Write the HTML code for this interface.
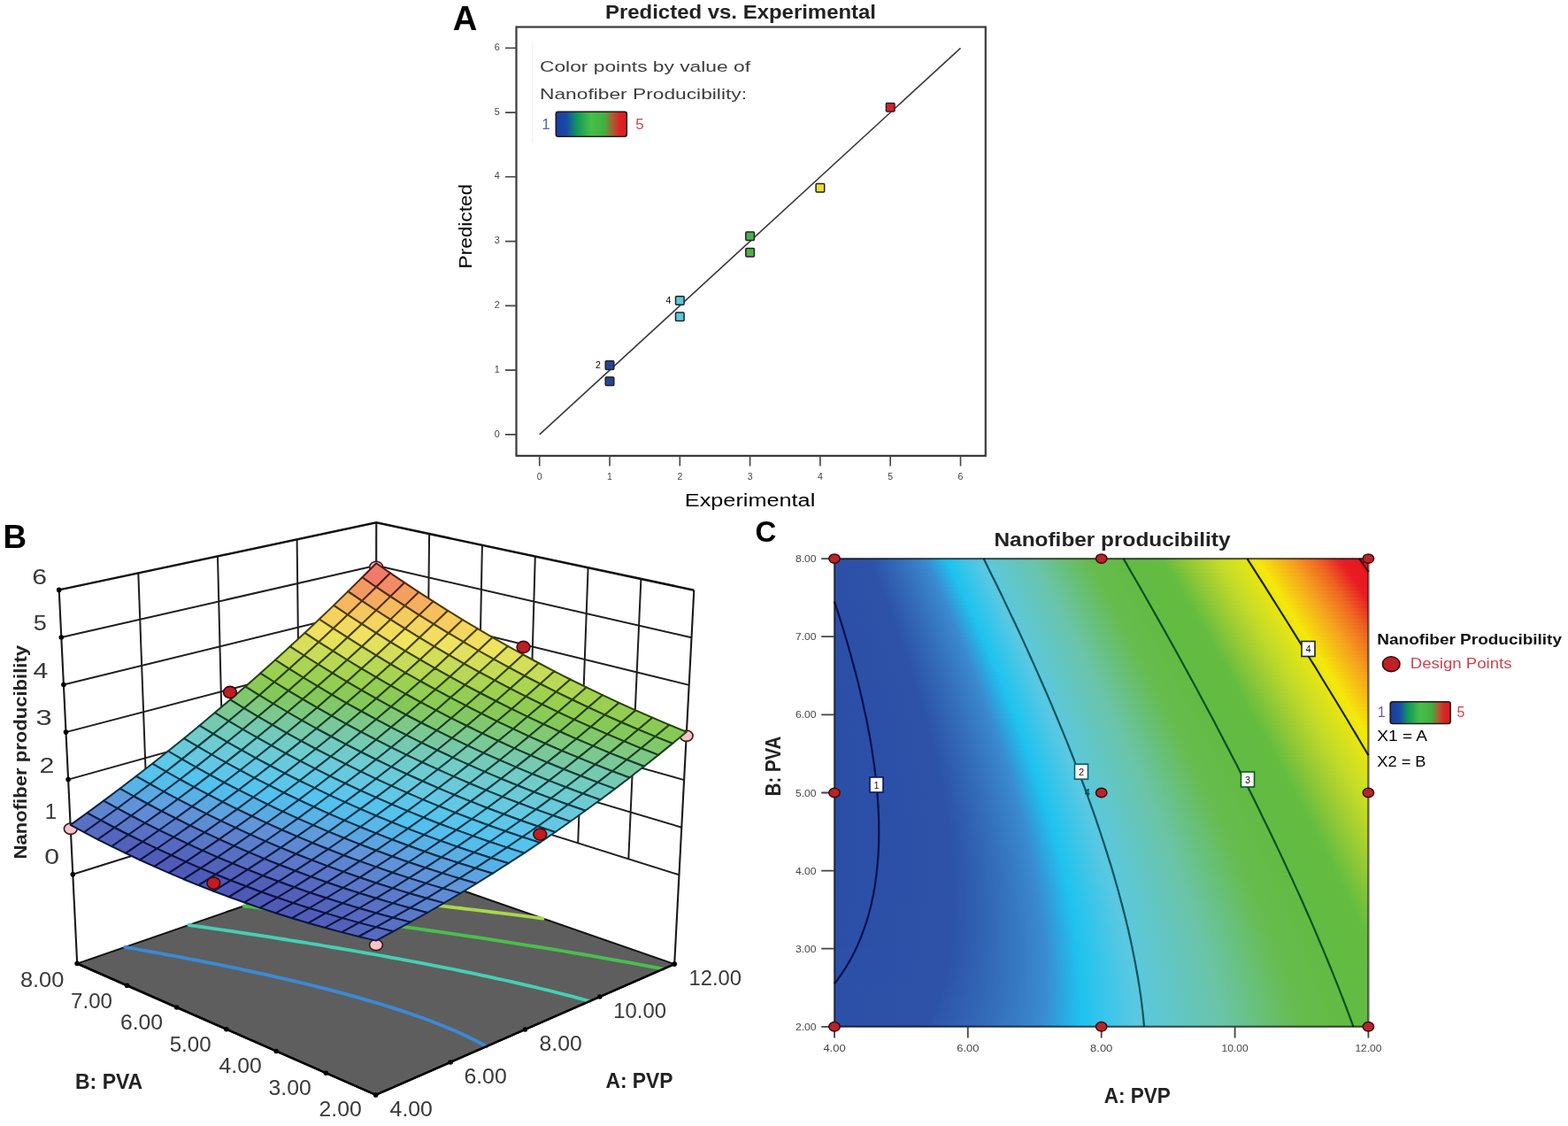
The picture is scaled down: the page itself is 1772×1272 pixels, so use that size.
<!DOCTYPE html><html><head><meta charset="utf-8"><title>Nanofiber producibility</title><style>html,body{margin:0;padding:0;background:#fff;}svg{display:block;}</style></head><body><svg width="1772" height="1272" viewBox="0 0 1772 1272" style="font-family:'Liberation Sans',Arial,sans-serif" ><defs><linearGradient id="cbar"><stop offset="0" stop-color="#1c3c9c"/><stop offset="0.15" stop-color="#1a4aa8"/><stop offset="0.3" stop-color="#109a5a"/><stop offset="0.5" stop-color="#48c048"/><stop offset="0.68" stop-color="#40b040"/><stop offset="0.8" stop-color="#a86030"/><stop offset="0.9" stop-color="#e02024"/><stop offset="1" stop-color="#d81c20"/></linearGradient></defs><text x="511.8" y="33.8" font-size="38.5" fill="#000" font-weight="bold" textLength="27.6" lengthAdjust="spacingAndGlyphs">A</text><text x="684" y="20.8" font-size="22" fill="#222" font-weight="bold" textLength="306" lengthAdjust="spacingAndGlyphs">Predicted vs. Experimental</text><rect x="583.5" y="30.5" width="530.3" height="484.4" fill="none" stroke="#3a3a3a" stroke-width="2.2"/><path d="M601.8 49V161" stroke="#f3f3f3" stroke-width="1.5"/><path d="M571 490.9H583.5M609.7 515V526.5M571 418.1H583.5M689 515V526.5M571 345.4H583.5M768.3 515V526.5M571 272.6H583.5M847.6 515V526.5M571 199.8H583.5M926.9 515V526.5M571 127.1H583.5M1006.2 515V526.5M571 54.3H583.5M1085.5 515V526.5" stroke="#444" stroke-width="1.6"/><text x="564.8" y="493.5" font-size="10.8" fill="#444" text-anchor="end">0</text><text x="609.7" y="541.8" font-size="10.5" fill="#444" text-anchor="middle">0</text><text x="564.8" y="420.7" font-size="10.8" fill="#444" text-anchor="end">1</text><text x="689" y="541.8" font-size="10.5" fill="#444" text-anchor="middle">1</text><text x="564.8" y="348" font-size="10.8" fill="#444" text-anchor="end">2</text><text x="768.3" y="541.8" font-size="10.5" fill="#444" text-anchor="middle">2</text><text x="564.8" y="275.2" font-size="10.8" fill="#444" text-anchor="end">3</text><text x="847.6" y="541.8" font-size="10.5" fill="#444" text-anchor="middle">3</text><text x="564.8" y="202.4" font-size="10.8" fill="#444" text-anchor="end">4</text><text x="926.9" y="541.8" font-size="10.5" fill="#444" text-anchor="middle">4</text><text x="564.8" y="129.7" font-size="10.8" fill="#444" text-anchor="end">5</text><text x="1006.2" y="541.8" font-size="10.5" fill="#444" text-anchor="middle">5</text><text x="564.8" y="56.9" font-size="10.8" fill="#444" text-anchor="end">6</text><text x="1085.5" y="541.8" font-size="10.5" fill="#444" text-anchor="middle">6</text><path d="M609.7 490.9L1085.5 54.3" stroke="#3a3a3a" stroke-width="1.6"/><rect x="684.2" y="407.8" width="9.6" height="9.6" rx="1" fill="#2a4496" stroke="#222" stroke-width="1.5"/><text x="676" y="416.2" font-size="10.5" text-anchor="middle">2</text><rect x="684.2" y="425.9" width="9.6" height="9.6" rx="1" fill="#2a4496" stroke="#222" stroke-width="1.5"/><rect x="763.5" y="334.7" width="9.6" height="9.6" rx="1" fill="#5cc8dc" stroke="#222" stroke-width="1.5"/><text x="755.3" y="343.1" font-size="10.5" text-anchor="middle">4</text><rect x="763.5" y="352.9" width="9.6" height="9.6" rx="1" fill="#5cc8dc" stroke="#222" stroke-width="1.5"/><rect x="842.8" y="262" width="9.6" height="9.6" rx="1" fill="#4cb04c" stroke="#222" stroke-width="1.5"/><rect x="842.8" y="280.5" width="9.6" height="9.6" rx="1" fill="#4cb04c" stroke="#222" stroke-width="1.5"/><rect x="922.1" y="207.4" width="9.6" height="9.6" rx="1" fill="#e8e030" stroke="#222" stroke-width="1.5"/><rect x="1001.4" y="116.4" width="9.6" height="9.6" rx="1" fill="#d8202a" stroke="#222" stroke-width="1.5"/><text x="610" y="80.6" font-size="17" fill="#3c3c3c" textLength="238" lengthAdjust="spacingAndGlyphs">Color points by value of</text><text x="610" y="112" font-size="17" fill="#3c3c3c" textLength="234" lengthAdjust="spacingAndGlyphs">Nanofiber Producibility:</text><text x="612.2" y="145.6" font-size="17" fill="#5a62b2">1</text><text x="718.3" y="145.6" font-size="17" fill="#d8404c">5</text><rect x="628.3" y="126.3" width="80" height="28" rx="2.5" fill="url(#cbar)" stroke="#1a1a1a" stroke-width="1.6"/><text x="773.8" y="572" font-size="20" textLength="147.5" lengthAdjust="spacingAndGlyphs">Experimental</text><text x="532.8" y="303.4" font-size="20" textLength="95.5" lengthAdjust="spacingAndGlyphs" transform="rotate(-90 532.8 303.4)">Predicted</text><text x="3.6" y="619" font-size="37" fill="#000" font-weight="bold" textLength="26.6" lengthAdjust="spacingAndGlyphs">B</text><path d="M424.7 1236.9L762.2 1089.1L424.6 972L87.2 1088.5Z" fill="#5e5e5e" stroke="#111" stroke-width="2"/><path d="M141.2 1069.9L148.6 1071.2L155.9 1072.5L163.3 1073.8L170.6 1075.1L178 1076.4L185.3 1077.8L192.6 1079.2L199.9 1080.5L207.2 1081.9L214.5 1083.3L221.8 1084.7L229.1 1086.1L236.4 1087.6L244.6 1089.2L252.9 1090.9L261.3 1092.6L269 1094.2L276.2 1095.8L283.4 1097.3L290.6 1098.9L297.7 1100.4L305.8 1102.2L315.3 1104.4L322.7 1106.1L329.8 1107.7L336.9 1109.4L345.7 1111.5L354.5 1113.7L361.5 1115.4L368.5 1117.2L378.9 1119.9L385.8 1121.7L392.8 1123.6L403 1126.4L409.8 1128.4L420 1131.3L426.7 1133.3L436.8 1136.4L443.4 1138.4L453.3 1141.6L463 1144.9L469.5 1147.1L479.1 1150.5L488.5 1154L497.8 1157.7L507 1161.4L516 1165.3L524.7 1169.2L530.5 1172L538.9 1176.2L545.8 1180L549.7 1182.2" fill="none" stroke="#3a8ad8" stroke-width="3.8" stroke-linecap="round"/><path d="M213.4 1045L221.1 1046.1L227.6 1047L234 1047.9L240.3 1048.8L247.9 1049.9L255.6 1051.1L263.2 1052.2L270.9 1053.4L278.6 1054.5L286 1055.6L292.6 1056.7L299.4 1057.7L306.1 1058.7L313.1 1059.8L320.7 1061L328.4 1062.3L336 1063.5L343.7 1064.7L351.3 1066L359 1067.2L366.6 1068.5L374.3 1069.8L381.9 1071L389.5 1072.3L397.2 1073.6L404.8 1075L412.4 1076.3L420.1 1077.6L427.7 1079L435.3 1080.4L442.9 1081.8L450.5 1083.1L458.1 1084.6L465.7 1086L473.3 1087.4L480.9 1088.9L488.4 1090.3L496 1091.8L504.1 1093.4L513.1 1095.2L522.3 1097.1L529.9 1098.7L537.4 1100.2L544.9 1101.8L552.4 1103.4L561.2 1105.3L571.1 1107.5L578.6 1109.2L586 1110.9L593.5 1112.6L604.5 1115.2L611.9 1117L619.2 1118.7L630.2 1121.5L637.5 1123.3L644.8 1125.2L655.7 1128.1L662.9 1130L666.5 1131" fill="none" stroke="#44d0b4" stroke-width="3.8" stroke-linecap="round"/><path d="M275.7 1023.5L281.7 1024.2L287.5 1024.9L295.3 1025.9L303.1 1026.8L311 1027.8L316.9 1028.6L322.9 1029.3L330.6 1030.3L338.5 1031.3L346.4 1032.3L352.9 1033.1L359 1033.9L366.1 1034.8L373.9 1035.9L381.8 1036.9L389.7 1037.9L396 1038.8L402.2 1039.6L409.4 1040.6L417.3 1041.6L425.2 1042.7L433.1 1043.8L440.3 1044.8L446.8 1045.7L453.3 1046.6L460.8 1047.6L468.7 1048.7L476.6 1049.8L484.5 1051L492.4 1052.1L499.7 1053.2L506.5 1054.2L513.3 1055.2L520.2 1056.2L528 1057.3L536 1058.5L543.9 1059.7L551.8 1060.9L559.7 1062.1L567.6 1063.4L575.6 1064.6L583.5 1065.8L591.4 1067.1L598.9 1068.3L606.4 1069.5L613.9 1070.7L621.6 1071.9L629.3 1073.2L637 1074.5L644.9 1075.8L652.8 1077.2L660.9 1078.5L669 1079.9L677.2 1081.4L685.5 1082.8L694 1084.3L702.2 1085.8L710.1 1087.2L718 1088.7L725.9 1090.1L733.8 1091.6L741.7 1093.1L749.6 1094.6L749.6 1094.6" fill="none" stroke="#48c04c" stroke-width="3.8" stroke-linecap="round"/><path d="M330.6 1004.5L337.4 1005.2L342.9 1005.8L350.5 1006.6L358.4 1007.5L365 1008.2L370.6 1008.8L378.4 1009.7L386.4 1010.6L392.9 1011.3L398.6 1011.9L406.3 1012.8L414.3 1013.7L421.3 1014.5L427 1015.1L434.3 1015.9L442.4 1016.9L450 1017.7L455.8 1018.4L462.4 1019.2L470.4 1020.1L478.5 1021L485 1021.8L490.9 1022.5L498.6 1023.4L506.6 1024.3L514.7 1025.3L520.8 1026L526.8 1026.8L534.8 1027.7L542.9 1028.7L551 1029.7L557.3 1030.5L563.4 1031.2L571.2 1032.2L579.3 1033.2L587.4 1034.2L594.6 1035.1L600.9 1035.9L607.6 1036.8L613.6 1037.6" fill="none" stroke="#a8d84c" stroke-width="3.8" stroke-linecap="round"/><path d="M379.8 987.5L386.9 988.2L392.1 988.7L399.9 989.4L407.9 990.2L413.2 990.7L420 991.4L428 992.2L434.5 992.8L440.1 993.4L448.2 994.2L455.9 994.9L461.3 995.5L468.3 996.2L476.4 997L482.9 997.6L488.5 998.2L496.6 999L504.7 999.8L504.8 999.8" fill="none" stroke="#f0a040" stroke-width="3.8" stroke-linecap="round"/><path d="M87.2 1088.5L424.7 1236.9L762.2 1089.1" fill="none" stroke="#000" stroke-width="2.6"/><path d="M82.3 987.8L424.7 880.5L767.5 988.3M79.7 934.2L424.8 832.1L770.3 934.7M77.1 880.6L424.9 783.8L773.1 881.1M74.5 827.1L425 735.5L775.9 827.5M71.9 773.5L425.1 687.1L778.7 773.9M69.3 720L425.2 638.8L781.5 720.3M167.9 961L156.3 647.4M253.5 934.1L246 628.4M339.1 907.3L335.6 609.4M481.9 898.5L485.1 603.1M539 916.4L544.9 615.9M596.1 934.4L604.8 628.6M653.2 952.3L664.6 641.3M710.3 970.3L724.4 654" fill="none" stroke="#1e1e1e" stroke-width="2"/><path d="M66.7 666.4L425.3 590.4L784.3 666.7" fill="none" stroke="#111" stroke-width="2.5"/><path d="M87.2 1088.5L66.7 666.4M762.2 1089.1L784.3 666.7M424.6 972L425.3 590.4" fill="none" stroke="#1a1a1a" stroke-width="2.1"/><g fill="#000"><circle cx="82.3" cy="987.8" r="2.8"/><circle cx="79.7" cy="934.2" r="2.8"/><circle cx="77.1" cy="880.6" r="2.8"/><circle cx="74.5" cy="827.1" r="2.8"/><circle cx="71.9" cy="773.5" r="2.8"/><circle cx="69.3" cy="720" r="2.8"/><circle cx="66.7" cy="666.4" r="2.8"/><circle cx="87.2" cy="1088.5" r="2.8"/><circle cx="143.5" cy="1113.3" r="2.8"/><circle cx="199.7" cy="1138" r="2.8"/><circle cx="255.9" cy="1162.7" r="2.8"/><circle cx="312.2" cy="1187.5" r="2.8"/><circle cx="368.4" cy="1212.2" r="2.8"/><circle cx="424.7" cy="1236.9" r="2.8"/><circle cx="509.1" cy="1200" r="2.8"/><circle cx="593.4" cy="1163" r="2.8"/><circle cx="677.8" cy="1126" r="2.8"/><circle cx="762.2" cy="1089.1" r="2.8"/></g><ellipse cx="79.8" cy="936.2" rx="7.4" ry="6.2" fill="#f6c4c8" stroke="#3a1a1a" stroke-width="1.6"/><ellipse cx="425.2" cy="640.4" rx="7.4" ry="6.2" fill="#f6c4c8" stroke="#3a1a1a" stroke-width="1.6"/><ellipse cx="775.7" cy="831.2" rx="7.4" ry="6.2" fill="#f6c4c8" stroke="#3a1a1a" stroke-width="1.6"/><ellipse cx="425" cy="1067.4" rx="7.4" ry="6.2" fill="#f6c4c8" stroke="#3a1a1a" stroke-width="1.6"/><ellipse cx="425" cy="884.1" rx="7.4" ry="6.2" fill="#f6c4c8" stroke="#3a1a1a" stroke-width="1.6"/><path d="M425.1 663.2L441.1 647.3L425.2 636.3L409.3 652.3Z" fill="#f17a6b" stroke="#501811" stroke-width="2" stroke-linejoin="round"/><path d="M409.1 678.9L425.1 663.2L409.3 652.3L393.2 668.1Z" fill="#f39a62" stroke="#4f260b" stroke-width="2" stroke-linejoin="round"/><path d="M441.2 673.9L457.1 658.2L441.1 647.3L425.1 663.2Z" fill="#f28c66" stroke="#50200e" stroke-width="2" stroke-linejoin="round"/><path d="M392.9 694.5L409.1 678.9L393.2 668.1L377.1 683.9Z" fill="#f5b760" stroke="#4e3109" stroke-width="2" stroke-linejoin="round"/><path d="M425.1 689.5L441.2 673.9L425.1 663.2L409.1 678.9Z" fill="#f4ab60" stroke="#4f2d09" stroke-width="2" stroke-linejoin="round"/><path d="M457.4 684.4L473.3 668.9L457.1 658.2L441.2 673.9Z" fill="#f39f60" stroke="#4f280a" stroke-width="2" stroke-linejoin="round"/><path d="M376.6 709.9L392.9 694.5L377.1 683.9L360.8 699.5Z" fill="#f5d260" stroke="#4c3c07" stroke-width="2" stroke-linejoin="round"/><path d="M408.9 704.9L425.1 689.5L409.1 678.9L392.9 694.5Z" fill="#f5c760" stroke="#4d3807" stroke-width="2" stroke-linejoin="round"/><path d="M441.3 699.9L457.4 684.4L441.2 673.9L425.1 689.5Z" fill="#f5bb60" stroke="#4e3308" stroke-width="2" stroke-linejoin="round"/><path d="M473.7 694.9L489.7 679.4L473.3 668.9L457.4 684.4Z" fill="#f4af60" stroke="#4f2e09" stroke-width="2" stroke-linejoin="round"/><path d="M360.2 725.3L376.6 709.9L360.8 699.5L344.4 714.9Z" fill="#f1e160" stroke="#4a4206" stroke-width="2" stroke-linejoin="round"/><path d="M392.6 720.2L408.9 704.9L392.9 694.5L376.6 709.9Z" fill="#f2da60" stroke="#4b4006" stroke-width="2" stroke-linejoin="round"/><path d="M425.1 715.2L441.3 699.9L425.1 689.5L408.9 704.9Z" fill="#f4d460" stroke="#4c3d07" stroke-width="2" stroke-linejoin="round"/><path d="M457.6 710.2L473.7 694.9L457.4 684.4L441.3 699.9Z" fill="#f5cb60" stroke="#4d3907" stroke-width="2" stroke-linejoin="round"/><path d="M490.2 705.1L506.2 689.8L489.7 679.4L473.7 694.9Z" fill="#f5bf60" stroke="#4e3408" stroke-width="2" stroke-linejoin="round"/><path d="M343.6 740.5L360.2 725.3L344.4 714.9L327.8 730.3Z" fill="#d8df5b" stroke="#404406" stroke-width="2" stroke-linejoin="round"/><path d="M376.2 735.4L392.6 720.2L376.6 709.9L360.2 725.3Z" fill="#e6e25e" stroke="#454406" stroke-width="2" stroke-linejoin="round"/><path d="M408.8 730.4L425.1 715.2L408.9 704.9L392.6 720.2Z" fill="#f0e260" stroke="#494306" stroke-width="2" stroke-linejoin="round"/><path d="M441.4 725.4L457.6 710.2L441.3 699.9L425.1 715.2Z" fill="#f2dc60" stroke="#4b4006" stroke-width="2" stroke-linejoin="round"/><path d="M474.1 720.3L490.2 705.1L473.7 694.9L457.6 710.2Z" fill="#f4d560" stroke="#4c3d07" stroke-width="2" stroke-linejoin="round"/><path d="M506.9 715.3L522.8 700.1L506.2 689.8L490.2 705.1Z" fill="#f5cd60" stroke="#4d3a07" stroke-width="2" stroke-linejoin="round"/><path d="M326.9 755.6L343.6 740.5L327.8 730.3L311.1 745.5Z" fill="#bad855" stroke="#354306" stroke-width="2" stroke-linejoin="round"/><path d="M359.6 750.5L376.2 735.4L360.2 725.3L343.6 740.5Z" fill="#c9dc58" stroke="#3b4406" stroke-width="2" stroke-linejoin="round"/><path d="M392.3 745.5L408.8 730.4L392.6 720.2L376.2 735.4Z" fill="#d6df5b" stroke="#404406" stroke-width="2" stroke-linejoin="round"/><path d="M425.1 740.4L441.4 725.4L425.1 715.2L408.8 730.4Z" fill="#e3e15d" stroke="#454406" stroke-width="2" stroke-linejoin="round"/><path d="M457.9 735.4L474.1 720.3L457.6 710.2L441.4 725.4Z" fill="#f0e460" stroke="#494306" stroke-width="2" stroke-linejoin="round"/><path d="M490.8 730.3L506.9 715.3L490.2 705.1L474.1 720.3Z" fill="#f2dd60" stroke="#4a4106" stroke-width="2" stroke-linejoin="round"/><path d="M523.7 725.2L539.7 710.2L522.8 700.1L506.9 715.3Z" fill="#f3d660" stroke="#4c3e07" stroke-width="2" stroke-linejoin="round"/><path d="M310 770.5L326.9 755.6L311.1 745.5L294.3 760.6Z" fill="#9bd050" stroke="#2a4307" stroke-width="2" stroke-linejoin="round"/><path d="M342.8 765.5L359.6 750.5L343.6 740.5L326.9 755.6Z" fill="#aad452" stroke="#2f4306" stroke-width="2" stroke-linejoin="round"/><path d="M375.7 760.4L392.3 745.5L376.2 735.4L359.6 750.5Z" fill="#b8d855" stroke="#354306" stroke-width="2" stroke-linejoin="round"/><path d="M408.6 755.3L425.1 740.4L408.8 730.4L392.3 745.5Z" fill="#c7dc58" stroke="#3a4406" stroke-width="2" stroke-linejoin="round"/><path d="M441.6 750.3L457.9 735.4L441.4 725.4L425.1 740.4Z" fill="#d4de5a" stroke="#3f4406" stroke-width="2" stroke-linejoin="round"/><path d="M474.6 745.2L490.8 730.3L474.1 720.3L457.9 735.4Z" fill="#e2e15d" stroke="#444406" stroke-width="2" stroke-linejoin="round"/><path d="M540.7 735L556.7 720.1L539.7 710.2L523.7 725.2Z" fill="#f2de60" stroke="#4a4106" stroke-width="2" stroke-linejoin="round"/><path d="M507.6 740.1L523.7 725.2L506.9 715.3L490.8 730.3Z" fill="#efe460" stroke="#494406" stroke-width="2" stroke-linejoin="round"/><path d="M293 785.4L310 770.5L294.3 760.6L277.3 775.6Z" fill="#8bca56" stroke="#23410b" stroke-width="2" stroke-linejoin="round"/><path d="M326 780.3L342.8 765.5L326.9 755.6L310 770.5Z" fill="#93cd53" stroke="#274209" stroke-width="2" stroke-linejoin="round"/><path d="M358.9 775.2L375.7 760.4L359.6 750.5L342.8 765.5Z" fill="#9bd050" stroke="#2a4207" stroke-width="2" stroke-linejoin="round"/><path d="M392 770.2L408.6 755.3L392.3 745.5L375.7 760.4Z" fill="#a9d352" stroke="#2f4306" stroke-width="2" stroke-linejoin="round"/><path d="M425.1 765.1L441.6 750.3L425.1 740.4L408.6 755.3Z" fill="#b7d755" stroke="#344306" stroke-width="2" stroke-linejoin="round"/><path d="M458.2 760L474.6 745.2L457.9 735.4L441.6 750.3Z" fill="#c6db58" stroke="#3a4406" stroke-width="2" stroke-linejoin="round"/><path d="M557.9 744.7L573.9 729.9L556.7 720.1L540.7 735Z" fill="#eee460" stroke="#494406" stroke-width="2" stroke-linejoin="round"/><path d="M491.4 754.9L507.6 740.1L490.8 730.3L474.6 745.2Z" fill="#d3de5a" stroke="#3f4406" stroke-width="2" stroke-linejoin="round"/><path d="M524.6 749.8L540.7 735L523.7 725.2L507.6 740.1Z" fill="#e1e15d" stroke="#444406" stroke-width="2" stroke-linejoin="round"/><path d="M275.9 800.1L293 785.4L277.3 775.6L260.1 790.4Z" fill="#80c86d" stroke="#1e3f15" stroke-width="2" stroke-linejoin="round"/><path d="M308.9 795L326 780.3L310 770.5L293 785.4Z" fill="#83c85b" stroke="#20400d" stroke-width="2" stroke-linejoin="round"/><path d="M342 789.9L358.9 775.2L342.8 765.5L326 780.3Z" fill="#8bca56" stroke="#23410b" stroke-width="2" stroke-linejoin="round"/><path d="M375.2 784.8L392 770.2L375.7 760.4L358.9 775.2Z" fill="#93cd53" stroke="#274209" stroke-width="2" stroke-linejoin="round"/><path d="M408.4 779.7L425.1 765.1L408.6 755.3L392 770.2Z" fill="#9bd050" stroke="#2a4207" stroke-width="2" stroke-linejoin="round"/><path d="M441.7 774.6L458.2 760L441.6 750.3L425.1 765.1Z" fill="#a8d352" stroke="#2f4306" stroke-width="2" stroke-linejoin="round"/><path d="M575.3 754.1L591.2 739.5L573.9 729.9L557.9 744.7Z" fill="#e0e15d" stroke="#434406" stroke-width="2" stroke-linejoin="round"/><path d="M475 769.5L491.4 754.9L474.6 745.2L458.2 760Z" fill="#b7d755" stroke="#344306" stroke-width="2" stroke-linejoin="round"/><path d="M541.8 759.3L557.9 744.7L540.7 735L524.6 749.8Z" fill="#d3de5a" stroke="#3f4406" stroke-width="2" stroke-linejoin="round"/><path d="M508.4 764.4L524.6 749.8L507.6 740.1L491.4 754.9Z" fill="#c6db58" stroke="#394406" stroke-width="2" stroke-linejoin="round"/><path d="M258.5 814.6L275.9 800.1L260.1 790.4L242.8 805.1Z" fill="#7bc891" stroke="#193d23" stroke-width="2" stroke-linejoin="round"/><path d="M291.7 809.6L308.9 795L293 785.4L275.9 800.1Z" fill="#7ec87f" stroke="#1b3e1c" stroke-width="2" stroke-linejoin="round"/><path d="M325 804.5L342 789.9L326 780.3L308.9 795Z" fill="#81c86d" stroke="#1e3f14" stroke-width="2" stroke-linejoin="round"/><path d="M358.3 799.4L375.2 784.8L358.9 775.2L342 789.9Z" fill="#84c85b" stroke="#20400d" stroke-width="2" stroke-linejoin="round"/><path d="M391.6 794.3L408.4 779.7L392 770.2L375.2 784.8Z" fill="#8bca56" stroke="#23410b" stroke-width="2" stroke-linejoin="round"/><path d="M425.1 789.2L441.7 774.6L425.1 765.1L408.4 779.7Z" fill="#93cd53" stroke="#274209" stroke-width="2" stroke-linejoin="round"/><path d="M592.8 763.5L608.8 749L591.2 739.5L575.3 754.1Z" fill="#d3de5a" stroke="#3f4406" stroke-width="2" stroke-linejoin="round"/><path d="M458.5 784L475 769.5L458.2 760L441.7 774.6Z" fill="#9bd050" stroke="#2a4207" stroke-width="2" stroke-linejoin="round"/><path d="M559.2 768.6L575.3 754.1L557.9 744.7L541.8 759.3Z" fill="#c6db58" stroke="#3a4406" stroke-width="2" stroke-linejoin="round"/><path d="M492 778.9L508.4 764.4L491.4 754.9L475 769.5Z" fill="#a9d352" stroke="#2f4306" stroke-width="2" stroke-linejoin="round"/><path d="M525.6 773.8L541.8 759.3L524.6 749.8L508.4 764.4Z" fill="#b7d755" stroke="#344306" stroke-width="2" stroke-linejoin="round"/><path d="M241.1 829.1L258.5 814.6L242.8 805.1L225.4 819.7Z" fill="#75c9b0" stroke="#153c30" stroke-width="2" stroke-linejoin="round"/><path d="M274.4 824L291.7 809.6L275.9 800.1L258.5 814.6Z" fill="#78c8a1" stroke="#173c2a" stroke-width="2" stroke-linejoin="round"/><path d="M307.8 818.9L325 804.5L308.9 795L291.7 809.6Z" fill="#7bc88f" stroke="#193d23" stroke-width="2" stroke-linejoin="round"/><path d="M341.2 813.8L358.3 799.4L342 789.9L325 804.5Z" fill="#7ec87d" stroke="#1c3e1b" stroke-width="2" stroke-linejoin="round"/><path d="M374.7 808.7L391.6 794.3L375.2 784.8L358.3 799.4Z" fill="#81c86b" stroke="#1e3f14" stroke-width="2" stroke-linejoin="round"/><path d="M408.3 803.5L425.1 789.2L408.4 779.7L391.6 794.3Z" fill="#84c859" stroke="#20400d" stroke-width="2" stroke-linejoin="round"/><path d="M223.4 843.4L241.1 829.1L225.4 819.7L207.8 834.2Z" fill="#70cccb" stroke="#103b3b" stroke-width="2" stroke-linejoin="round"/><path d="M610.6 772.6L626.5 758.3L608.8 749L592.8 763.5Z" fill="#c7dc58" stroke="#3a4406" stroke-width="2" stroke-linejoin="round"/><path d="M441.8 798.4L458.5 784L441.7 774.6L425.1 789.2Z" fill="#8bca56" stroke="#24410a" stroke-width="2" stroke-linejoin="round"/><path d="M576.7 777.8L592.8 763.5L575.3 754.1L559.2 768.6Z" fill="#b8d855" stroke="#354306" stroke-width="2" stroke-linejoin="round"/><path d="M475.5 793.3L492 778.9L475 769.5L458.5 784Z" fill="#93cd53" stroke="#274209" stroke-width="2" stroke-linejoin="round"/><path d="M542.9 783L559.2 768.6L541.8 759.3L525.6 773.8Z" fill="#aad452" stroke="#2f4306" stroke-width="2" stroke-linejoin="round"/><path d="M509.2 788.1L525.6 773.8L508.4 764.4L492 778.9Z" fill="#9bd050" stroke="#2a4307" stroke-width="2" stroke-linejoin="round"/><path d="M256.9 838.3L274.4 824L258.5 814.6L241.1 829.1Z" fill="#73cbbc" stroke="#133c35" stroke-width="2" stroke-linejoin="round"/><path d="M290.4 833.2L307.8 818.9L291.7 809.6L274.4 824Z" fill="#75c9ae" stroke="#153c2f" stroke-width="2" stroke-linejoin="round"/><path d="M324 828.1L341.2 813.8L325 804.5L307.8 818.9Z" fill="#78c89f" stroke="#173c29" stroke-width="2" stroke-linejoin="round"/><path d="M357.6 823L374.7 808.7L358.3 799.4L341.2 813.8Z" fill="#7bc88d" stroke="#193d22" stroke-width="2" stroke-linejoin="round"/><path d="M205.6 857.6L223.4 843.4L207.8 834.2L190 848.5Z" fill="#69cada" stroke="#0d3a42" stroke-width="2" stroke-linejoin="round"/><path d="M391.3 817.8L408.3 803.5L391.6 794.3L374.7 808.7Z" fill="#7ec87b" stroke="#1c3e1a" stroke-width="2" stroke-linejoin="round"/><path d="M628.5 781.6L644.5 767.5L626.5 758.3L610.6 772.6Z" fill="#bad855" stroke="#354306" stroke-width="2" stroke-linejoin="round"/><path d="M425 812.7L441.8 798.4L425.1 789.2L408.3 803.5Z" fill="#81c869" stroke="#1e4013" stroke-width="2" stroke-linejoin="round"/><path d="M594.5 786.8L610.6 772.6L592.8 763.5L576.7 777.8Z" fill="#acd453" stroke="#304306" stroke-width="2" stroke-linejoin="round"/><path d="M458.8 807.5L475.5 793.3L458.5 784L441.8 798.4Z" fill="#84c858" stroke="#21410c" stroke-width="2" stroke-linejoin="round"/><path d="M560.5 792L576.7 777.8L559.2 768.6L542.9 783Z" fill="#9dd050" stroke="#2b4307" stroke-width="2" stroke-linejoin="round"/><path d="M239.2 852.5L256.9 838.3L241.1 829.1L223.4 843.4Z" fill="#6dcbd2" stroke="#0f3b3e" stroke-width="2" stroke-linejoin="round"/><path d="M492.7 802.4L509.2 788.1L492 778.9L475.5 793.3Z" fill="#8ccb55" stroke="#24410a" stroke-width="2" stroke-linejoin="round"/><path d="M526.5 797.2L542.9 783L525.6 773.8L509.2 788.1Z" fill="#94cd53" stroke="#274208" stroke-width="2" stroke-linejoin="round"/><path d="M272.9 847.4L290.4 833.2L274.4 824L256.9 838.3Z" fill="#71ccc9" stroke="#113b3a" stroke-width="2" stroke-linejoin="round"/><path d="M306.6 842.2L324 828.1L307.8 818.9L290.4 833.2Z" fill="#73caba" stroke="#133c34" stroke-width="2" stroke-linejoin="round"/><path d="M187.6 871.7L205.6 857.6L190 848.5L172.1 862.7Z" fill="#60c7e6" stroke="#093947" stroke-width="2" stroke-linejoin="round"/><path d="M340.4 837.1L357.6 823L341.2 813.8L324 828.1Z" fill="#76c9ab" stroke="#153c2e" stroke-width="2" stroke-linejoin="round"/><path d="M374.2 832L391.3 817.8L374.7 808.7L357.6 823Z" fill="#79c89c" stroke="#173d28" stroke-width="2" stroke-linejoin="round"/><path d="M646.7 790.5L662.6 776.4L644.5 767.5L628.5 781.6Z" fill="#aed553" stroke="#314306" stroke-width="2" stroke-linejoin="round"/><path d="M408.1 826.8L425 812.7L408.3 803.5L391.3 817.8Z" fill="#7cc88a" stroke="#1a3e20" stroke-width="2" stroke-linejoin="round"/><path d="M221.4 866.6L239.2 852.5L223.4 843.4L205.6 857.6Z" fill="#66c9e0" stroke="#0b3944" stroke-width="2" stroke-linejoin="round"/><path d="M612.4 795.7L628.5 781.6L610.6 772.6L594.5 786.8Z" fill="#9fd151" stroke="#2b4307" stroke-width="2" stroke-linejoin="round"/><path d="M442 821.6L458.8 807.5L441.8 798.4L425 812.7Z" fill="#7fc878" stroke="#1c3f19" stroke-width="2" stroke-linejoin="round"/><path d="M578.2 800.9L594.5 786.8L576.7 777.8L560.5 792Z" fill="#96ce52" stroke="#284208" stroke-width="2" stroke-linejoin="round"/><path d="M476 816.5L492.7 802.4L475.5 793.3L458.8 807.5Z" fill="#82c866" stroke="#1f4012" stroke-width="2" stroke-linejoin="round"/><path d="M544.1 806.1L560.5 792L542.9 783L526.5 797.2Z" fill="#8ecb55" stroke="#25410a" stroke-width="2" stroke-linejoin="round"/><path d="M510 811.3L526.5 797.2L509.2 788.1L492.7 802.4Z" fill="#86c957" stroke="#21410c" stroke-width="2" stroke-linejoin="round"/><path d="M255.2 861.4L272.9 847.4L256.9 838.3L239.2 852.5Z" fill="#6acad8" stroke="#0d3a41" stroke-width="2" stroke-linejoin="round"/><path d="M289.1 856.3L306.6 842.2L290.4 833.2L272.9 847.4Z" fill="#6ecbd0" stroke="#0f3b3d" stroke-width="2" stroke-linejoin="round"/><path d="M169.5 885.7L187.6 871.7L172.1 862.7L153.9 876.8Z" fill="#54c3ed" stroke="#03374b" stroke-width="2" stroke-linejoin="round"/><path d="M323 851.1L340.4 837.1L324 828.1L306.6 842.2Z" fill="#71cbc5" stroke="#113c39" stroke-width="2" stroke-linejoin="round"/><path d="M356.9 846L374.2 832L357.6 823L340.4 837.1Z" fill="#74cab7" stroke="#143c33" stroke-width="2" stroke-linejoin="round"/><path d="M203.4 880.5L221.4 866.6L205.6 857.6L187.6 871.7Z" fill="#5bc5e9" stroke="#063849" stroke-width="2" stroke-linejoin="round"/><path d="M665 799.1L680.9 785.2L662.6 776.4L646.7 790.5Z" fill="#a3d251" stroke="#2d4307" stroke-width="2" stroke-linejoin="round"/><path d="M391 840.8L408.1 826.8L391.3 817.8L374.2 832Z" fill="#77c9a8" stroke="#163c2d" stroke-width="2" stroke-linejoin="round"/><path d="M630.6 804.4L646.7 790.5L628.5 781.6L612.4 795.7Z" fill="#98cf51" stroke="#284208" stroke-width="2" stroke-linejoin="round"/><path d="M425 835.6L442 821.6L425 812.7L408.1 826.8Z" fill="#79c898" stroke="#183d26" stroke-width="2" stroke-linejoin="round"/><path d="M596.2 809.6L612.4 795.7L594.5 786.8L578.2 800.9Z" fill="#90cc54" stroke="#254109" stroke-width="2" stroke-linejoin="round"/><path d="M459.1 830.4L476 816.5L458.8 807.5L442 821.6Z" fill="#7cc886" stroke="#1a3e1f" stroke-width="2" stroke-linejoin="round"/><path d="M237.3 875.4L255.2 861.4L239.2 852.5L221.4 866.6Z" fill="#62c7e5" stroke="#093947" stroke-width="2" stroke-linejoin="round"/><path d="M561.8 814.8L578.2 800.9L560.5 792L544.1 806.1Z" fill="#88c957" stroke="#22410b" stroke-width="2" stroke-linejoin="round"/><path d="M493.3 825.2L510 811.3L492.7 802.4L476 816.5Z" fill="#7fc874" stroke="#1d3f17" stroke-width="2" stroke-linejoin="round"/><path d="M527.6 820L544.1 806.1L526.5 797.2L510 811.3Z" fill="#82c862" stroke="#1f4010" stroke-width="2" stroke-linejoin="round"/><path d="M271.3 870.2L289.1 856.3L272.9 847.4L255.2 861.4Z" fill="#67c9de" stroke="#0c3a43" stroke-width="2" stroke-linejoin="round"/><path d="M151.1 899.5L169.5 885.7L153.9 876.8L135.6 890.8Z" fill="#58b3e6" stroke="#073149" stroke-width="2" stroke-linejoin="round"/><path d="M305.4 865L323 851.1L306.6 842.2L289.1 856.3Z" fill="#6bcad6" stroke="#0e3a40" stroke-width="2" stroke-linejoin="round"/><path d="M185.2 894.3L203.4 880.5L187.6 871.7L169.5 885.7Z" fill="#54bdec" stroke="#04354b" stroke-width="2" stroke-linejoin="round"/><path d="M339.5 859.8L356.9 846L340.4 837.1L323 851.1Z" fill="#6fccce" stroke="#103b3c" stroke-width="2" stroke-linejoin="round"/><path d="M683.6 807.6L699.5 793.9L680.9 785.2L665 799.1Z" fill="#9acf51" stroke="#294207" stroke-width="2" stroke-linejoin="round"/><path d="M373.7 854.7L391 840.8L374.2 832L356.9 846Z" fill="#72cbc1" stroke="#123c37" stroke-width="2" stroke-linejoin="round"/><path d="M648.9 812.9L665 799.1L646.7 790.5L630.6 804.4Z" fill="#92cd53" stroke="#264209" stroke-width="2" stroke-linejoin="round"/><path d="M219.3 889.1L237.3 875.4L221.4 866.6L203.4 880.5Z" fill="#56c3ec" stroke="#04384a" stroke-width="2" stroke-linejoin="round"/><path d="M407.9 849.5L425 835.6L408.1 826.8L391 840.8Z" fill="#75cab3" stroke="#143c31" stroke-width="2" stroke-linejoin="round"/><path d="M614.3 818.1L630.6 804.4L612.4 795.7L596.2 809.6Z" fill="#8aca56" stroke="#23410b" stroke-width="2" stroke-linejoin="round"/><path d="M442.2 844.3L459.1 830.4L442 821.6L425 835.6Z" fill="#77c8a4" stroke="#163c2b" stroke-width="2" stroke-linejoin="round"/><path d="M579.8 823.4L596.2 809.6L578.2 800.9L561.8 814.8Z" fill="#83c85d" stroke="#20400e" stroke-width="2" stroke-linejoin="round"/><path d="M476.5 839.1L493.3 825.2L476 816.5L459.1 830.4Z" fill="#7ac893" stroke="#193d24" stroke-width="2" stroke-linejoin="round"/><path d="M545.3 828.6L561.8 814.8L544.1 806.1L527.6 820Z" fill="#80c86f" stroke="#1e3f15" stroke-width="2" stroke-linejoin="round"/><path d="M510.9 833.8L527.6 820L510 811.3L493.3 825.2Z" fill="#7dc881" stroke="#1b3e1d" stroke-width="2" stroke-linejoin="round"/><path d="M132.6 913.2L151.1 899.5L135.6 890.8L117.1 904.6Z" fill="#5e9adb" stroke="#0c2846" stroke-width="2" stroke-linejoin="round"/><path d="M253.4 884L271.3 870.2L255.2 861.4L237.3 875.4Z" fill="#5dc6e8" stroke="#073848" stroke-width="2" stroke-linejoin="round"/><path d="M287.6 878.8L305.4 865L289.1 856.3L271.3 870.2Z" fill="#64c8e4" stroke="#0a3946" stroke-width="2" stroke-linejoin="round"/><path d="M166.8 908L185.2 894.3L169.5 885.7L151.1 899.5Z" fill="#5aa9e2" stroke="#092e48" stroke-width="2" stroke-linejoin="round"/><path d="M321.9 873.6L339.5 859.8L323 851.1L305.4 865Z" fill="#68c9dc" stroke="#0c3a42" stroke-width="2" stroke-linejoin="round"/><path d="M702.3 816L718.3 802.4L699.5 793.9L683.6 807.6Z" fill="#94cd53" stroke="#274208" stroke-width="2" stroke-linejoin="round"/><path d="M356.2 868.4L373.7 854.7L356.9 846L339.5 859.8Z" fill="#6ccbd4" stroke="#0e3b3f" stroke-width="2" stroke-linejoin="round"/><path d="M201.1 902.8L219.3 889.1L203.4 880.5L185.2 894.3Z" fill="#56b7e8" stroke="#06334a" stroke-width="2" stroke-linejoin="round"/><path d="M667.5 821.2L683.6 807.6L665 799.1L648.9 812.9Z" fill="#8ccb55" stroke="#24410a" stroke-width="2" stroke-linejoin="round"/><path d="M390.6 863.2L407.9 849.5L391 840.8L373.7 854.7Z" fill="#70cccb" stroke="#103b3b" stroke-width="2" stroke-linejoin="round"/><path d="M632.7 826.5L648.9 812.9L630.6 804.4L614.3 818.1Z" fill="#84c858" stroke="#21410c" stroke-width="2" stroke-linejoin="round"/><path d="M113.9 926.7L132.6 913.2L117.1 904.6L98.5 918.3Z" fill="#5d84cf" stroke="#0d2043" stroke-width="2" stroke-linejoin="round"/><path d="M425 858L442.2 844.3L425 835.6L407.9 849.5Z" fill="#73cbbc" stroke="#133c35" stroke-width="2" stroke-linejoin="round"/><path d="M597.9 831.8L614.3 818.1L596.2 809.6L579.8 823.4Z" fill="#81c869" stroke="#1e4013" stroke-width="2" stroke-linejoin="round"/><path d="M235.4 897.6L253.4 884L237.3 875.4L219.3 889.1Z" fill="#52c1ee" stroke="#03374c" stroke-width="2" stroke-linejoin="round"/><path d="M459.5 852.8L476.5 839.1L459.1 830.4L442.2 844.3Z" fill="#75c9ae" stroke="#153c2f" stroke-width="2" stroke-linejoin="round"/><path d="M563.2 837L579.8 823.4L561.8 814.8L545.3 828.6Z" fill="#7ec87b" stroke="#1c3e1a" stroke-width="2" stroke-linejoin="round"/><path d="M494 847.5L510.9 833.8L493.3 825.2L476.5 839.1Z" fill="#78c89f" stroke="#173c29" stroke-width="2" stroke-linejoin="round"/><path d="M528.6 842.3L545.3 828.6L527.6 820L510.9 833.8Z" fill="#7bc88d" stroke="#193d22" stroke-width="2" stroke-linejoin="round"/><path d="M269.7 892.4L287.6 878.8L271.3 870.2L253.4 884Z" fill="#59c4ea" stroke="#06384a" stroke-width="2" stroke-linejoin="round"/><path d="M148.2 921.5L166.8 908L151.1 899.5L132.6 913.2Z" fill="#6092d7" stroke="#0d2545" stroke-width="2" stroke-linejoin="round"/><path d="M304.1 887.2L321.9 873.6L305.4 865L287.6 878.8Z" fill="#60c7e6" stroke="#093947" stroke-width="2" stroke-linejoin="round"/><path d="M721.3 824.1L737.3 810.7L718.3 802.4L702.3 816Z" fill="#8fcc54" stroke="#254109" stroke-width="2" stroke-linejoin="round"/><path d="M182.6 916.4L201.1 902.8L185.2 894.3L166.8 908Z" fill="#5da1de" stroke="#0a2a47" stroke-width="2" stroke-linejoin="round"/><path d="M338.6 882L356.2 868.4L339.5 859.8L321.9 873.6Z" fill="#66c9e1" stroke="#0b3945" stroke-width="2" stroke-linejoin="round"/><path d="M95 940.2L113.9 926.7L98.5 918.3L79.6 931.9Z" fill="#5770c3" stroke="#0e1940" stroke-width="2" stroke-linejoin="round"/><path d="M686.3 829.4L702.3 816L683.6 807.6L667.5 821.2Z" fill="#87c957" stroke="#22410b" stroke-width="2" stroke-linejoin="round"/><path d="M373.1 876.8L390.6 863.2L373.7 854.7L356.2 868.4Z" fill="#6acad9" stroke="#0d3a41" stroke-width="2" stroke-linejoin="round"/><path d="M651.3 834.7L667.5 821.2L648.9 812.9L632.7 826.5Z" fill="#82c862" stroke="#1f4010" stroke-width="2" stroke-linejoin="round"/><path d="M217.1 911.1L235.4 897.6L219.3 889.1L201.1 902.8Z" fill="#59b0e5" stroke="#073049" stroke-width="2" stroke-linejoin="round"/><path d="M407.7 871.6L425 858L407.9 849.5L390.6 863.2Z" fill="#6ecbd1" stroke="#0f3b3d" stroke-width="2" stroke-linejoin="round"/><path d="M616.3 840L632.7 826.5L614.3 818.1L597.9 831.8Z" fill="#7fc874" stroke="#1d3f18" stroke-width="2" stroke-linejoin="round"/><path d="M442.3 866.3L459.5 852.8L442.2 844.3L425 858Z" fill="#71cbc6" stroke="#113c39" stroke-width="2" stroke-linejoin="round"/><path d="M581.4 845.3L597.9 831.8L579.8 823.4L563.2 837Z" fill="#7cc886" stroke="#1a3e1f" stroke-width="2" stroke-linejoin="round"/><path d="M477 861.1L494 847.5L476.5 839.1L459.5 852.8Z" fill="#74cab7" stroke="#133c33" stroke-width="2" stroke-linejoin="round"/><path d="M546.5 850.6L563.2 837L545.3 828.6L528.6 842.3Z" fill="#79c898" stroke="#183d26" stroke-width="2" stroke-linejoin="round"/><path d="M511.8 855.8L528.6 842.3L510.9 833.8L494 847.5Z" fill="#76c9a8" stroke="#163c2d" stroke-width="2" stroke-linejoin="round"/><path d="M129.5 935L148.2 921.5L132.6 913.2L113.9 926.7Z" fill="#5b7dcb" stroke="#0e1d42" stroke-width="2" stroke-linejoin="round"/><path d="M251.6 905.9L269.7 892.4L253.4 884L235.4 897.6Z" fill="#55bbeb" stroke="#04344b" stroke-width="2" stroke-linejoin="round"/><path d="M286.2 900.7L304.1 887.2L287.6 878.8L269.7 892.4Z" fill="#55c3ed" stroke="#04374b" stroke-width="2" stroke-linejoin="round"/><path d="M164 929.8L182.6 916.4L166.8 908L148.2 921.5Z" fill="#5e8bd3" stroke="#0d2244" stroke-width="2" stroke-linejoin="round"/><path d="M740.6 832.1L756.5 818.8L737.3 810.7L721.3 824.1Z" fill="#8bca56" stroke="#23410b" stroke-width="2" stroke-linejoin="round"/><path d="M320.8 895.5L338.6 882L321.9 873.6L304.1 887.2Z" fill="#5cc5e9" stroke="#073849" stroke-width="2" stroke-linejoin="round"/><path d="M705.3 837.4L721.3 824.1L702.3 816L686.3 829.4Z" fill="#84c85b" stroke="#20400d" stroke-width="2" stroke-linejoin="round"/><path d="M355.5 890.2L373.1 876.8L356.2 868.4L338.6 882Z" fill="#63c8e5" stroke="#0a3946" stroke-width="2" stroke-linejoin="round"/><path d="M198.7 924.5L217.1 911.1L201.1 902.8L182.6 916.4Z" fill="#5f99da" stroke="#0c2746" stroke-width="2" stroke-linejoin="round"/><path d="M670.1 842.7L686.3 829.4L667.5 821.2L651.3 834.7Z" fill="#81c86d" stroke="#1e3f14" stroke-width="2" stroke-linejoin="round"/><path d="M390.2 885L407.7 871.6L390.6 863.2L373.1 876.8Z" fill="#67c9dd" stroke="#0c3a43" stroke-width="2" stroke-linejoin="round"/><path d="M110.5 948.3L129.5 935L113.9 926.7L95 940.2Z" fill="#556ac0" stroke="#0d173f" stroke-width="2" stroke-linejoin="round"/><path d="M634.9 848.1L651.3 834.7L632.7 826.5L616.3 840Z" fill="#7ec87f" stroke="#1b3e1c" stroke-width="2" stroke-linejoin="round"/><path d="M425 879.8L442.3 866.3L425 858L407.7 871.6Z" fill="#6bcad5" stroke="#0e3a3f" stroke-width="2" stroke-linejoin="round"/><path d="M233.3 919.3L251.6 905.9L235.4 897.6L217.1 911.1Z" fill="#5ba8e1" stroke="#092d48" stroke-width="2" stroke-linejoin="round"/><path d="M599.8 853.4L616.3 840L597.9 831.8L581.4 845.3Z" fill="#7bc891" stroke="#193d23" stroke-width="2" stroke-linejoin="round"/><path d="M459.8 874.5L477 861.1L459.5 852.8L442.3 866.3Z" fill="#6fcccd" stroke="#103b3c" stroke-width="2" stroke-linejoin="round"/><path d="M564.7 858.7L581.4 845.3L563.2 837L546.5 850.6Z" fill="#78c8a2" stroke="#173c2a" stroke-width="2" stroke-linejoin="round"/><path d="M494.7 869.2L511.8 855.8L494 847.5L477 861.1Z" fill="#72cbbf" stroke="#123c36" stroke-width="2" stroke-linejoin="round"/><path d="M529.7 863.9L546.5 850.6L528.6 842.3L511.8 855.8Z" fill="#75cab1" stroke="#143c30" stroke-width="2" stroke-linejoin="round"/><path d="M268.1 914.1L286.2 900.7L269.7 892.4L251.6 905.9Z" fill="#57b6e8" stroke="#06324a" stroke-width="2" stroke-linejoin="round"/><path d="M145.2 943L164 929.8L148.2 921.5L129.5 935Z" fill="#5976c7" stroke="#0e1b41" stroke-width="2" stroke-linejoin="round"/><path d="M760 839.9L775.9 826.8L756.5 818.8L740.6 832.1Z" fill="#87c957" stroke="#22410b" stroke-width="2" stroke-linejoin="round"/><path d="M302.8 908.8L320.8 895.5L304.1 887.2L286.2 900.7Z" fill="#53c0ed" stroke="#03364b" stroke-width="2" stroke-linejoin="round"/><path d="M180 937.8L198.7 924.5L182.6 916.4L164 929.8Z" fill="#5d84cf" stroke="#0d2043" stroke-width="2" stroke-linejoin="round"/><path d="M724.5 845.3L740.6 832.1L721.3 824.1L705.3 837.4Z" fill="#82c864" stroke="#1f4011" stroke-width="2" stroke-linejoin="round"/><path d="M337.7 903.6L355.5 890.2L338.6 882L320.8 895.5Z" fill="#58c4eb" stroke="#05384a" stroke-width="2" stroke-linejoin="round"/><path d="M689.1 850.6L705.3 837.4L686.3 829.4L670.1 842.7Z" fill="#7fc876" stroke="#1d3f18" stroke-width="2" stroke-linejoin="round"/><path d="M372.6 898.3L390.2 885L373.1 876.8L355.5 890.2Z" fill="#5fc6e7" stroke="#083948" stroke-width="2" stroke-linejoin="round"/><path d="M214.9 932.6L233.3 919.3L217.1 911.1L198.7 924.5Z" fill="#6092d7" stroke="#0d2545" stroke-width="2" stroke-linejoin="round"/><path d="M653.7 855.9L670.1 842.7L651.3 834.7L634.9 848.1Z" fill="#7cc888" stroke="#1a3e20" stroke-width="2" stroke-linejoin="round"/><path d="M407.5 893.1L425 879.8L407.7 871.6L390.2 885Z" fill="#65c8e1" stroke="#0b3945" stroke-width="2" stroke-linejoin="round"/><path d="M618.4 861.3L634.9 848.1L616.3 840L599.8 853.4Z" fill="#79c89a" stroke="#183d27" stroke-width="2" stroke-linejoin="round"/><path d="M442.5 887.8L459.8 874.5L442.3 866.3L425 879.8Z" fill="#69cad9" stroke="#0d3a41" stroke-width="2" stroke-linejoin="round"/><path d="M583.1 866.6L599.8 853.4L581.4 845.3L564.7 858.7Z" fill="#76c9aa" stroke="#153c2e" stroke-width="2" stroke-linejoin="round"/><path d="M477.6 882.5L494.7 869.2L477 861.1L459.8 874.5Z" fill="#6dcbd1" stroke="#0f3b3e" stroke-width="2" stroke-linejoin="round"/><path d="M547.8 871.9L564.7 858.7L546.5 850.6L529.7 863.9Z" fill="#74cab8" stroke="#133c33" stroke-width="2" stroke-linejoin="round"/><path d="M512.7 877.2L529.7 863.9L511.8 855.8L494.7 869.2Z" fill="#71ccc7" stroke="#113c39" stroke-width="2" stroke-linejoin="round"/><path d="M126.2 956.2L145.2 943L129.5 935L110.5 948.3Z" fill="#5465bd" stroke="#0d153f" stroke-width="2" stroke-linejoin="round"/><path d="M249.7 927.3L268.1 914.1L251.6 905.9L233.3 919.3Z" fill="#5da1de" stroke="#0a2a47" stroke-width="2" stroke-linejoin="round"/><path d="M284.7 922L302.8 908.8L286.2 900.7L268.1 914.1Z" fill="#59b0e5" stroke="#073049" stroke-width="2" stroke-linejoin="round"/><path d="M161.2 950.9L180 937.8L164 929.8L145.2 943Z" fill="#5871c4" stroke="#0e1940" stroke-width="2" stroke-linejoin="round"/><path d="M744 852.9L760 839.9L740.6 832.1L724.5 845.3Z" fill="#81c86d" stroke="#1e3f14" stroke-width="2" stroke-linejoin="round"/><path d="M319.7 916.8L337.7 903.6L320.8 895.5L302.8 908.8Z" fill="#55bbeb" stroke="#04344b" stroke-width="2" stroke-linejoin="round"/><path d="M708.3 858.3L724.5 845.3L705.3 837.4L689.1 850.6Z" fill="#7ec87f" stroke="#1b3e1c" stroke-width="2" stroke-linejoin="round"/><path d="M354.7 911.5L372.6 898.3L355.5 890.2L337.7 903.6Z" fill="#55c3ed" stroke="#04374b" stroke-width="2" stroke-linejoin="round"/><path d="M196.2 945.7L214.9 932.6L198.7 924.5L180 937.8Z" fill="#5b7ecb" stroke="#0e1e42" stroke-width="2" stroke-linejoin="round"/><path d="M672.7 863.6L689.1 850.6L670.1 842.7L653.7 855.9Z" fill="#7bc891" stroke="#193d23" stroke-width="2" stroke-linejoin="round"/><path d="M389.8 906.2L407.5 893.1L390.2 885L372.6 898.3Z" fill="#5cc5e9" stroke="#073849" stroke-width="2" stroke-linejoin="round"/><path d="M637.2 869L653.7 855.9L634.9 848.1L618.4 861.3Z" fill="#78c8a2" stroke="#173c2a" stroke-width="2" stroke-linejoin="round"/><path d="M425 900.9L442.5 887.8L425 879.8L407.5 893.1Z" fill="#63c8e5" stroke="#0a3946" stroke-width="2" stroke-linejoin="round"/><path d="M231.2 940.4L249.7 927.3L233.3 919.3L214.9 932.6Z" fill="#5e8cd3" stroke="#0d2344" stroke-width="2" stroke-linejoin="round"/><path d="M601.7 874.3L618.4 861.3L599.8 853.4L583.1 866.6Z" fill="#75cab1" stroke="#143c30" stroke-width="2" stroke-linejoin="round"/><path d="M460.2 895.6L477.6 882.5L459.8 874.5L442.5 887.8Z" fill="#67c9dd" stroke="#0c3a43" stroke-width="2" stroke-linejoin="round"/><path d="M566.2 879.7L583.1 866.6L564.7 858.7L547.8 871.9Z" fill="#72cbbf" stroke="#123c36" stroke-width="2" stroke-linejoin="round"/><path d="M495.5 890.3L512.7 877.2L494.7 869.2L477.6 882.5Z" fill="#6bcad5" stroke="#0e3a3f" stroke-width="2" stroke-linejoin="round"/><path d="M530.8 885L547.8 871.9L529.7 863.9L512.7 877.2Z" fill="#6fcccd" stroke="#103b3c" stroke-width="2" stroke-linejoin="round"/><path d="M266.3 935.1L284.7 922L268.1 914.1L249.7 927.3Z" fill="#5e9adb" stroke="#0c2846" stroke-width="2" stroke-linejoin="round"/><path d="M142.1 963.9L161.2 950.9L145.2 943L126.2 956.2Z" fill="#5261ba" stroke="#0d143e" stroke-width="2" stroke-linejoin="round"/><path d="M301.5 929.8L319.7 916.8L302.8 908.8L284.7 922Z" fill="#5aa9e2" stroke="#092e48" stroke-width="2" stroke-linejoin="round"/><path d="M177.3 958.7L196.2 945.7L180 937.8L161.2 950.9Z" fill="#566dc1" stroke="#0d1840" stroke-width="2" stroke-linejoin="round"/><path d="M727.8 865.8L744 852.9L724.5 845.3L708.3 858.3Z" fill="#7cc886" stroke="#1a3e1f" stroke-width="2" stroke-linejoin="round"/><path d="M336.7 924.6L354.7 911.5L337.7 903.6L319.7 916.8Z" fill="#56b7e8" stroke="#06334a" stroke-width="2" stroke-linejoin="round"/><path d="M692 871.2L708.3 858.3L689.1 850.6L672.7 863.6Z" fill="#79c898" stroke="#183d26" stroke-width="2" stroke-linejoin="round"/><path d="M372 919.3L389.8 906.2L372.6 898.3L354.7 911.5Z" fill="#52c1ee" stroke="#03374c" stroke-width="2" stroke-linejoin="round"/><path d="M212.5 953.4L231.2 940.4L214.9 932.6L196.2 945.7Z" fill="#5a79c8" stroke="#0e1c41" stroke-width="2" stroke-linejoin="round"/><path d="M656.2 876.5L672.7 863.6L653.7 855.9L637.2 869Z" fill="#76c9a8" stroke="#163c2d" stroke-width="2" stroke-linejoin="round"/><path d="M407.3 913.9L425 900.9L407.5 893.1L389.8 906.2Z" fill="#59c4ea" stroke="#06384a" stroke-width="2" stroke-linejoin="round"/><path d="M620.5 881.9L637.2 869L618.4 861.3L601.7 874.3Z" fill="#74cab7" stroke="#133c33" stroke-width="2" stroke-linejoin="round"/><path d="M442.7 908.6L460.2 895.6L442.5 887.8L425 900.9Z" fill="#60c7e6" stroke="#093947" stroke-width="2" stroke-linejoin="round"/><path d="M584.8 887.3L601.7 874.3L583.1 866.6L566.2 879.7Z" fill="#71cbc6" stroke="#113c39" stroke-width="2" stroke-linejoin="round"/><path d="M478.1 903.3L495.5 890.3L477.6 882.5L460.2 895.6Z" fill="#66c9e1" stroke="#0b3945" stroke-width="2" stroke-linejoin="round"/><path d="M549.2 892.6L566.2 879.7L547.8 871.9L530.8 885Z" fill="#6ecbd1" stroke="#0f3b3d" stroke-width="2" stroke-linejoin="round"/><path d="M513.6 898L530.8 885L512.7 877.2L495.5 890.3Z" fill="#6acad9" stroke="#0d3a41" stroke-width="2" stroke-linejoin="round"/><path d="M247.8 948.1L266.3 935.1L249.7 927.3L231.2 940.4Z" fill="#5d87d0" stroke="#0d2143" stroke-width="2" stroke-linejoin="round"/><path d="M283.1 942.8L301.5 929.8L284.7 922L266.3 935.1Z" fill="#6095d8" stroke="#0d2645" stroke-width="2" stroke-linejoin="round"/><path d="M158.2 971.5L177.3 958.7L161.2 950.9L142.1 963.9Z" fill="#515eb9" stroke="#0d133e" stroke-width="2" stroke-linejoin="round"/><path d="M318.5 937.5L336.7 924.6L319.7 916.8L301.5 929.8Z" fill="#5ca4df" stroke="#0a2b47" stroke-width="2" stroke-linejoin="round"/><path d="M711.5 878.5L727.8 865.8L708.3 858.3L692 871.2Z" fill="#78c89f" stroke="#173c29" stroke-width="2" stroke-linejoin="round"/><path d="M193.6 966.2L212.5 953.4L196.2 945.7L177.3 958.7Z" fill="#5569bf" stroke="#0d173f" stroke-width="2" stroke-linejoin="round"/><path d="M353.9 932.2L372 919.3L354.7 911.5L336.7 924.6Z" fill="#58b3e6" stroke="#073149" stroke-width="2" stroke-linejoin="round"/><path d="M675.5 883.9L692 871.2L672.7 863.6L656.2 876.5Z" fill="#75c9ae" stroke="#153c2f" stroke-width="2" stroke-linejoin="round"/><path d="M389.4 926.8L407.3 913.9L389.8 906.2L372 919.3Z" fill="#54bdec" stroke="#04354b" stroke-width="2" stroke-linejoin="round"/><path d="M639.5 889.3L656.2 876.5L637.2 869L620.5 881.9Z" fill="#73cbbc" stroke="#133c35" stroke-width="2" stroke-linejoin="round"/><path d="M425 921.5L442.7 908.6L425 900.9L407.3 913.9Z" fill="#56c3ec" stroke="#04384a" stroke-width="2" stroke-linejoin="round"/><path d="M229 960.9L247.8 948.1L231.2 940.4L212.5 953.4Z" fill="#5975c6" stroke="#0e1b41" stroke-width="2" stroke-linejoin="round"/><path d="M603.6 894.7L620.5 881.9L601.7 874.3L584.8 887.3Z" fill="#70cccb" stroke="#103b3b" stroke-width="2" stroke-linejoin="round"/><path d="M460.6 916.1L478.1 903.3L460.2 895.6L442.7 908.6Z" fill="#5dc6e8" stroke="#073848" stroke-width="2" stroke-linejoin="round"/><path d="M567.8 900.1L584.8 887.3L566.2 879.7L549.2 892.6Z" fill="#6ccbd4" stroke="#0e3b3f" stroke-width="2" stroke-linejoin="round"/><path d="M496.3 910.8L513.6 898L495.5 890.3L478.1 903.3Z" fill="#64c8e4" stroke="#0a3946" stroke-width="2" stroke-linejoin="round"/><path d="M532 905.4L549.2 892.6L530.8 885L513.6 898Z" fill="#68c9dc" stroke="#0c3a42" stroke-width="2" stroke-linejoin="round"/><path d="M264.5 955.6L283.1 942.8L266.3 935.1L247.8 948.1Z" fill="#5c82ce" stroke="#0d1f43" stroke-width="2" stroke-linejoin="round"/><path d="M300.1 950.3L318.5 937.5L301.5 929.8L283.1 942.8Z" fill="#5f90d6" stroke="#0d2445" stroke-width="2" stroke-linejoin="round"/><path d="M174.5 978.9L193.6 966.2L177.3 958.7L158.2 971.5Z" fill="#505db8" stroke="#0d133d" stroke-width="2" stroke-linejoin="round"/><path d="M335.7 944.9L353.9 932.2L336.7 924.6L318.5 937.5Z" fill="#5d9fdd" stroke="#0b2a47" stroke-width="2" stroke-linejoin="round"/><path d="M695 891.1L711.5 878.5L692 871.2L675.5 883.9Z" fill="#75cab3" stroke="#143c31" stroke-width="2" stroke-linejoin="round"/><path d="M371.4 939.6L389.4 926.8L372 919.3L353.9 932.2Z" fill="#59aee4" stroke="#082f49" stroke-width="2" stroke-linejoin="round"/><path d="M210.1 973.6L229 960.9L212.5 953.4L193.6 966.2Z" fill="#5465bd" stroke="#0d163f" stroke-width="2" stroke-linejoin="round"/><path d="M658.8 896.5L675.5 883.9L656.2 876.5L639.5 889.3Z" fill="#72cbc1" stroke="#123c37" stroke-width="2" stroke-linejoin="round"/><path d="M407.1 934.2L425 921.5L407.3 913.9L389.4 926.8Z" fill="#55baea" stroke="#05344a" stroke-width="2" stroke-linejoin="round"/><path d="M622.7 901.9L639.5 889.3L620.5 881.9L603.6 894.7Z" fill="#6fccce" stroke="#103b3c" stroke-width="2" stroke-linejoin="round"/><path d="M442.9 928.9L460.6 916.1L442.7 908.6L425 921.5Z" fill="#54c3ed" stroke="#03374b" stroke-width="2" stroke-linejoin="round"/><path d="M586.6 907.3L603.6 894.7L584.8 887.3L567.8 900.1Z" fill="#6bcad6" stroke="#0e3a40" stroke-width="2" stroke-linejoin="round"/><path d="M478.7 923.5L496.3 910.8L478.1 903.3L460.6 916.1Z" fill="#5bc5e9" stroke="#063849" stroke-width="2" stroke-linejoin="round"/><path d="M550.6 912.7L567.8 900.1L549.2 892.6L532 905.4Z" fill="#67c9de" stroke="#0c3a43" stroke-width="2" stroke-linejoin="round"/><path d="M514.6 918.1L532 905.4L513.6 898L496.3 910.8Z" fill="#62c7e5" stroke="#093947" stroke-width="2" stroke-linejoin="round"/><path d="M245.8 968.3L264.5 955.6L247.8 948.1L229 960.9Z" fill="#5871c4" stroke="#0e1a40" stroke-width="2" stroke-linejoin="round"/><path d="M281.5 962.9L300.1 950.3L283.1 942.8L264.5 955.6Z" fill="#5b7ecc" stroke="#0e1e42" stroke-width="2" stroke-linejoin="round"/><path d="M317.3 957.6L335.7 944.9L318.5 937.5L300.1 950.3Z" fill="#5e8cd4" stroke="#0d2344" stroke-width="2" stroke-linejoin="round"/><path d="M190.9 986.1L210.1 973.6L193.6 966.2L174.5 978.9Z" fill="#4f5bb7" stroke="#0d123d" stroke-width="2" stroke-linejoin="round"/><path d="M353.1 952.2L371.4 939.6L353.9 932.2L335.7 944.9Z" fill="#5e9bdb" stroke="#0c2846" stroke-width="2" stroke-linejoin="round"/><path d="M678.4 903.5L695 891.1L675.5 883.9L658.8 896.5Z" fill="#71cbc5" stroke="#113c39" stroke-width="2" stroke-linejoin="round"/><path d="M389 946.8L407.1 934.2L389.4 926.8L371.4 939.6Z" fill="#5aaae2" stroke="#082e48" stroke-width="2" stroke-linejoin="round"/><path d="M642 909L658.8 896.5L639.5 889.3L622.7 901.9Z" fill="#6ecbd0" stroke="#0f3b3d" stroke-width="2" stroke-linejoin="round"/><path d="M425 941.4L442.9 928.9L425 921.5L407.1 934.2Z" fill="#56b7e8" stroke="#06334a" stroke-width="2" stroke-linejoin="round"/><path d="M226.8 980.8L245.8 968.3L229 960.9L210.1 973.6Z" fill="#5363bc" stroke="#0d153e" stroke-width="2" stroke-linejoin="round"/><path d="M605.7 914.4L622.7 901.9L603.6 894.7L586.6 907.3Z" fill="#6acad8" stroke="#0d3a41" stroke-width="2" stroke-linejoin="round"/><path d="M461 936.1L478.7 923.5L460.6 916.1L442.9 928.9Z" fill="#52c2ee" stroke="#03374c" stroke-width="2" stroke-linejoin="round"/><path d="M569.4 919.8L586.6 907.3L567.8 900.1L550.6 912.7Z" fill="#66c9e0" stroke="#0b3944" stroke-width="2" stroke-linejoin="round"/><path d="M497.1 930.7L514.6 918.1L496.3 910.8L478.7 923.5Z" fill="#59c4ea" stroke="#06384a" stroke-width="2" stroke-linejoin="round"/><path d="M533.2 925.2L550.6 912.7L532 905.4L514.6 918.1Z" fill="#60c7e6" stroke="#093947" stroke-width="2" stroke-linejoin="round"/><path d="M262.7 975.4L281.5 962.9L264.5 955.6L245.8 968.3Z" fill="#576fc3" stroke="#0d1940" stroke-width="2" stroke-linejoin="round"/><path d="M298.6 970.1L317.3 957.6L300.1 950.3L281.5 962.9Z" fill="#5b7bca" stroke="#0e1d42" stroke-width="2" stroke-linejoin="round"/><path d="M334.7 964.7L353.1 952.2L335.7 944.9L317.3 957.6Z" fill="#5e89d2" stroke="#0d2244" stroke-width="2" stroke-linejoin="round"/><path d="M370.8 959.3L389 946.8L371.4 939.6L353.1 952.2Z" fill="#5f97da" stroke="#0c2746" stroke-width="2" stroke-linejoin="round"/><path d="M207.6 993.2L226.8 980.8L210.1 973.6L190.9 986.1Z" fill="#4f5ab7" stroke="#0c123d" stroke-width="2" stroke-linejoin="round"/><path d="M661.5 915.8L678.4 903.5L658.8 896.5L642 909Z" fill="#6dcbd2" stroke="#0f3b3e" stroke-width="2" stroke-linejoin="round"/><path d="M406.9 953.9L425 941.4L407.1 934.2L389 946.8Z" fill="#5ba6e1" stroke="#092c48" stroke-width="2" stroke-linejoin="round"/><path d="M625 921.3L642 909L622.7 901.9L605.7 914.4Z" fill="#69cada" stroke="#0d3a42" stroke-width="2" stroke-linejoin="round"/><path d="M443.1 948.5L461 936.1L442.9 928.9L425 941.4Z" fill="#57b4e7" stroke="#06324a" stroke-width="2" stroke-linejoin="round"/><path d="M588.5 926.8L605.7 914.4L586.6 907.3L569.4 919.8Z" fill="#65c8e2" stroke="#0b3945" stroke-width="2" stroke-linejoin="round"/><path d="M479.3 943.1L497.1 930.7L478.7 923.5L461 936.1Z" fill="#53bfed" stroke="#03364b" stroke-width="2" stroke-linejoin="round"/><path d="M552 932.2L569.4 919.8L550.6 912.7L533.2 925.2Z" fill="#5ec6e7" stroke="#083848" stroke-width="2" stroke-linejoin="round"/><path d="M515.7 937.6L533.2 925.2L514.6 918.1L497.1 930.7Z" fill="#57c4eb" stroke="#05384a" stroke-width="2" stroke-linejoin="round"/><path d="M243.7 987.8L262.7 975.4L245.8 968.3L226.8 980.8Z" fill="#5261ba" stroke="#0d143e" stroke-width="2" stroke-linejoin="round"/><path d="M279.8 982.4L298.6 970.1L281.5 962.9L262.7 975.4Z" fill="#566dc1" stroke="#0d1840" stroke-width="2" stroke-linejoin="round"/><path d="M316 977L334.7 964.7L317.3 957.6L298.6 970.1Z" fill="#5a79c8" stroke="#0e1c41" stroke-width="2" stroke-linejoin="round"/><path d="M352.3 971.6L370.8 959.3L353.1 952.2L334.7 964.7Z" fill="#5d87d0" stroke="#0d2143" stroke-width="2" stroke-linejoin="round"/><path d="M388.6 966.2L406.9 953.9L389 946.8L370.8 959.3Z" fill="#6095d8" stroke="#0d2645" stroke-width="2" stroke-linejoin="round"/><path d="M644.5 928L661.5 915.8L642 909L625 921.3Z" fill="#68c9dc" stroke="#0c3a42" stroke-width="2" stroke-linejoin="round"/><path d="M425 960.8L443.1 948.5L425 941.4L406.9 953.9Z" fill="#5ca4df" stroke="#0a2b47" stroke-width="2" stroke-linejoin="round"/><path d="M224.4 1000.1L243.7 987.8L226.8 980.8L207.6 993.2Z" fill="#4e5ab6" stroke="#0c123d" stroke-width="2" stroke-linejoin="round"/><path d="M607.8 933.5L625 921.3L605.7 914.4L588.5 926.8Z" fill="#64c8e4" stroke="#0a3946" stroke-width="2" stroke-linejoin="round"/><path d="M461.4 955.3L479.3 943.1L461 936.1L443.1 948.5Z" fill="#58b3e6" stroke="#073149" stroke-width="2" stroke-linejoin="round"/><path d="M571.1 939L588.5 926.8L569.4 919.8L552 932.2Z" fill="#5dc6e8" stroke="#073848" stroke-width="2" stroke-linejoin="round"/><path d="M497.9 949.9L515.7 937.6L497.1 930.7L479.3 943.1Z" fill="#54bdec" stroke="#04354b" stroke-width="2" stroke-linejoin="round"/><path d="M534.5 944.4L552 932.2L533.2 925.2L515.7 937.6Z" fill="#56c3ec" stroke="#04384a" stroke-width="2" stroke-linejoin="round"/><path d="M260.8 994.6L279.8 982.4L262.7 975.4L243.7 987.8Z" fill="#5260ba" stroke="#0d143e" stroke-width="2" stroke-linejoin="round"/><path d="M297.2 989.2L316 977L298.6 970.1L279.8 982.4Z" fill="#566bc1" stroke="#0d173f" stroke-width="2" stroke-linejoin="round"/><path d="M333.6 983.8L352.3 971.6L334.7 964.7L316 977Z" fill="#5a77c8" stroke="#0e1b41" stroke-width="2" stroke-linejoin="round"/><path d="M370.1 978.4L388.6 966.2L370.8 959.3L352.3 971.6Z" fill="#5d85cf" stroke="#0d2043" stroke-width="2" stroke-linejoin="round"/><path d="M406.7 972.9L425 960.8L406.9 953.9L388.6 966.2Z" fill="#6093d7" stroke="#0d2545" stroke-width="2" stroke-linejoin="round"/><path d="M443.3 967.5L461.4 955.3L443.1 948.5L425 960.8Z" fill="#5ca2df" stroke="#0a2b47" stroke-width="2" stroke-linejoin="round"/><path d="M627.4 940L644.5 928L625 921.3L607.8 933.5Z" fill="#64c8e4" stroke="#0a3946" stroke-width="2" stroke-linejoin="round"/><path d="M480 962L497.9 949.9L479.3 943.1L461.4 955.3Z" fill="#58b1e6" stroke="#073149" stroke-width="2" stroke-linejoin="round"/><path d="M590.4 945.5L607.8 933.5L588.5 926.8L571.1 939Z" fill="#5cc5e8" stroke="#073849" stroke-width="2" stroke-linejoin="round"/><path d="M241.5 1006.7L260.8 994.6L243.7 987.8L224.4 1000.1Z" fill="#4e59b6" stroke="#0c123d" stroke-width="2" stroke-linejoin="round"/><path d="M516.7 956.5L534.5 944.4L515.7 937.6L497.9 949.9Z" fill="#54bceb" stroke="#04354b" stroke-width="2" stroke-linejoin="round"/><path d="M553.6 951L571.1 939L552 932.2L534.5 944.4Z" fill="#55c3ec" stroke="#04374b" stroke-width="2" stroke-linejoin="round"/><path d="M278.1 1001.3L297.2 989.2L279.8 982.4L260.8 994.6Z" fill="#515fb9" stroke="#0d133e" stroke-width="2" stroke-linejoin="round"/><path d="M314.7 995.8L333.6 983.8L316 977L297.2 989.2Z" fill="#556ac0" stroke="#0d173f" stroke-width="2" stroke-linejoin="round"/><path d="M351.4 990.4L370.1 978.4L352.3 971.6L333.6 983.8Z" fill="#5976c7" stroke="#0e1b41" stroke-width="2" stroke-linejoin="round"/><path d="M388.2 984.9L406.7 972.9L388.6 966.2L370.1 978.4Z" fill="#5d84cf" stroke="#0d2043" stroke-width="2" stroke-linejoin="round"/><path d="M425 979.4L443.3 967.5L425 960.8L406.7 972.9Z" fill="#6092d7" stroke="#0d2545" stroke-width="2" stroke-linejoin="round"/><path d="M461.9 974L480 962L461.4 955.3L443.3 967.5Z" fill="#5da1de" stroke="#0a2a47" stroke-width="2" stroke-linejoin="round"/><path d="M610 951.9L627.4 940L607.8 933.5L590.4 945.5Z" fill="#5cc5e9" stroke="#073849" stroke-width="2" stroke-linejoin="round"/><path d="M498.8 968.5L516.7 956.5L497.9 949.9L480 962Z" fill="#59b0e5" stroke="#073049" stroke-width="2" stroke-linejoin="round"/><path d="M572.9 957.4L590.4 945.5L571.1 939L553.6 951Z" fill="#55c3ed" stroke="#04374b" stroke-width="2" stroke-linejoin="round"/><path d="M535.8 963L553.6 951L534.5 944.4L516.7 956.5Z" fill="#55bbeb" stroke="#04344b" stroke-width="2" stroke-linejoin="round"/><path d="M258.8 1013.2L278.1 1001.3L260.8 994.6L241.5 1006.7Z" fill="#4e59b6" stroke="#0c123d" stroke-width="2" stroke-linejoin="round"/><path d="M295.6 1007.7L314.7 995.8L297.2 989.2L278.1 1001.3Z" fill="#515fb9" stroke="#0d133e" stroke-width="2" stroke-linejoin="round"/><path d="M332.5 1002.3L351.4 990.4L333.6 983.8L314.7 995.8Z" fill="#556ac0" stroke="#0d173f" stroke-width="2" stroke-linejoin="round"/><path d="M369.4 996.8L388.2 984.9L370.1 978.4L351.4 990.4Z" fill="#5976c7" stroke="#0e1b41" stroke-width="2" stroke-linejoin="round"/><path d="M406.5 991.3L425 979.4L406.7 972.9L388.2 984.9Z" fill="#5c84cf" stroke="#0d2043" stroke-width="2" stroke-linejoin="round"/><path d="M443.5 985.8L461.9 974L443.3 967.5L425 979.4Z" fill="#5f92d7" stroke="#0d2545" stroke-width="2" stroke-linejoin="round"/><path d="M480.7 980.3L498.8 968.5L480 962L461.9 974Z" fill="#5da0de" stroke="#0a2a47" stroke-width="2" stroke-linejoin="round"/><path d="M592.5 963.7L610 951.9L590.4 945.5L572.9 957.4Z" fill="#54c3ed" stroke="#04374b" stroke-width="2" stroke-linejoin="round"/><path d="M517.9 974.7L535.8 963L516.7 956.5L498.8 968.5Z" fill="#59afe5" stroke="#073049" stroke-width="2" stroke-linejoin="round"/><path d="M555.1 969.2L572.9 957.4L553.6 951L535.8 963Z" fill="#55bbea" stroke="#05344b" stroke-width="2" stroke-linejoin="round"/><path d="M276.3 1019.5L295.6 1007.7L278.1 1001.3L258.8 1013.2Z" fill="#4e59b6" stroke="#0c123d" stroke-width="2" stroke-linejoin="round"/><path d="M313.4 1014L332.5 1002.3L314.7 995.8L295.6 1007.7Z" fill="#515fb9" stroke="#0d133e" stroke-width="2" stroke-linejoin="round"/><path d="M350.5 1008.5L369.4 996.8L351.4 990.4L332.5 1002.3Z" fill="#556ac0" stroke="#0d173f" stroke-width="2" stroke-linejoin="round"/><path d="M387.7 1003L406.5 991.3L388.2 984.9L369.4 996.8Z" fill="#5976c7" stroke="#0e1b41" stroke-width="2" stroke-linejoin="round"/><path d="M425 997.5L443.5 985.8L425 979.4L406.5 991.3Z" fill="#5d84cf" stroke="#0d2043" stroke-width="2" stroke-linejoin="round"/><path d="M462.3 991.9L480.7 980.3L461.9 974L443.5 985.8Z" fill="#6092d7" stroke="#0d2545" stroke-width="2" stroke-linejoin="round"/><path d="M499.7 986.4L517.9 974.7L498.8 968.5L480.7 980.3Z" fill="#5da1de" stroke="#0a2a47" stroke-width="2" stroke-linejoin="round"/><path d="M574.7 975.2L592.5 963.7L572.9 957.4L555.1 969.2Z" fill="#55bbeb" stroke="#04344b" stroke-width="2" stroke-linejoin="round"/><path d="M537.2 980.8L555.1 969.2L535.8 963L517.9 974.7Z" fill="#59b0e5" stroke="#073049" stroke-width="2" stroke-linejoin="round"/><path d="M294 1025.6L313.4 1014L295.6 1007.7L276.3 1019.5Z" fill="#4e5ab6" stroke="#0c123d" stroke-width="2" stroke-linejoin="round"/><path d="M331.3 1020.1L350.5 1008.5L332.5 1002.3L313.4 1014Z" fill="#5260ba" stroke="#0d143e" stroke-width="2" stroke-linejoin="round"/><path d="M368.8 1014.5L387.7 1003L369.4 996.8L350.5 1008.5Z" fill="#566bc1" stroke="#0d173f" stroke-width="2" stroke-linejoin="round"/><path d="M406.2 1009L425 997.5L406.5 991.3L387.7 1003Z" fill="#5a77c8" stroke="#0e1b41" stroke-width="2" stroke-linejoin="round"/><path d="M443.8 1003.4L462.3 991.9L443.5 985.8L425 997.5Z" fill="#5d85cf" stroke="#0d2043" stroke-width="2" stroke-linejoin="round"/><path d="M481.4 997.9L499.7 986.4L480.7 980.3L462.3 991.9Z" fill="#6093d7" stroke="#0d2545" stroke-width="2" stroke-linejoin="round"/><path d="M519 992.3L537.2 980.8L517.9 974.7L499.7 986.4Z" fill="#5ca2df" stroke="#0a2b47" stroke-width="2" stroke-linejoin="round"/><path d="M556.8 986.7L574.7 975.2L555.1 969.2L537.2 980.8Z" fill="#58b1e6" stroke="#073149" stroke-width="2" stroke-linejoin="round"/><path d="M311.9 1031.5L331.3 1020.1L313.4 1014L294 1025.6Z" fill="#4f5ab7" stroke="#0c123d" stroke-width="2" stroke-linejoin="round"/><path d="M349.6 1026L368.8 1014.5L350.5 1008.5L331.3 1020.1Z" fill="#5261ba" stroke="#0d143e" stroke-width="2" stroke-linejoin="round"/><path d="M387.2 1020.4L406.2 1009L387.7 1003L368.8 1014.5Z" fill="#566dc1" stroke="#0d1840" stroke-width="2" stroke-linejoin="round"/><path d="M425 1014.8L443.8 1003.4L425 997.5L406.2 1009Z" fill="#5a79c8" stroke="#0e1c41" stroke-width="2" stroke-linejoin="round"/><path d="M462.8 1009.2L481.4 997.9L462.3 991.9L443.8 1003.4Z" fill="#5d87d0" stroke="#0d2143" stroke-width="2" stroke-linejoin="round"/><path d="M500.7 1003.6L519 992.3L499.7 986.4L481.4 997.9Z" fill="#6095d8" stroke="#0d2645" stroke-width="2" stroke-linejoin="round"/><path d="M538.6 998L556.8 986.7L537.2 980.8L519 992.3Z" fill="#5ca4df" stroke="#0a2b47" stroke-width="2" stroke-linejoin="round"/><path d="M330.1 1037.2L349.6 1026L331.3 1020.1L311.9 1031.5Z" fill="#4f5bb7" stroke="#0d123d" stroke-width="2" stroke-linejoin="round"/><path d="M368 1031.6L387.2 1020.4L368.8 1014.5L349.6 1026Z" fill="#5363bc" stroke="#0d153e" stroke-width="2" stroke-linejoin="round"/><path d="M406 1026L425 1014.8L406.2 1009L387.2 1020.4Z" fill="#576fc3" stroke="#0d1940" stroke-width="2" stroke-linejoin="round"/><path d="M444 1020.4L462.8 1009.2L443.8 1003.4L425 1014.8Z" fill="#5b7bca" stroke="#0e1d42" stroke-width="2" stroke-linejoin="round"/><path d="M482.1 1014.8L500.7 1003.6L481.4 997.9L462.8 1009.2Z" fill="#5e89d2" stroke="#0d2244" stroke-width="2" stroke-linejoin="round"/><path d="M520.2 1009.1L538.6 998L519 992.3L500.7 1003.6Z" fill="#5f97da" stroke="#0c2746" stroke-width="2" stroke-linejoin="round"/><path d="M348.6 1042.7L368 1031.6L349.6 1026L330.1 1037.2Z" fill="#505db8" stroke="#0d133d" stroke-width="2" stroke-linejoin="round"/><path d="M386.8 1037.1L406 1026L387.2 1020.4L368 1031.6Z" fill="#5465bd" stroke="#0d163f" stroke-width="2" stroke-linejoin="round"/><path d="M425 1031.5L444 1020.4L425 1014.8L406 1026Z" fill="#5871c4" stroke="#0e1a40" stroke-width="2" stroke-linejoin="round"/><path d="M463.3 1025.8L482.1 1014.8L462.8 1009.2L444 1020.4Z" fill="#5b7ecc" stroke="#0e1e42" stroke-width="2" stroke-linejoin="round"/><path d="M501.7 1020.1L520.2 1009.1L500.7 1003.6L482.1 1014.8Z" fill="#5e8cd4" stroke="#0d2344" stroke-width="2" stroke-linejoin="round"/><path d="M367.3 1048L386.8 1037.1L368 1031.6L348.6 1042.7Z" fill="#515eb9" stroke="#0d133e" stroke-width="2" stroke-linejoin="round"/><path d="M405.7 1042.4L425 1031.5L406 1026L386.8 1037.1Z" fill="#5569bf" stroke="#0d173f" stroke-width="2" stroke-linejoin="round"/><path d="M444.3 1036.7L463.3 1025.8L444 1020.4L425 1031.5Z" fill="#5975c6" stroke="#0e1b41" stroke-width="2" stroke-linejoin="round"/><path d="M482.9 1031L501.7 1020.1L482.1 1014.8L463.3 1025.8Z" fill="#5c82ce" stroke="#0d1f43" stroke-width="2" stroke-linejoin="round"/><path d="M386.3 1053.1L405.7 1042.4L386.8 1037.1L367.3 1048Z" fill="#5261ba" stroke="#0d143e" stroke-width="2" stroke-linejoin="round"/><path d="M425 1047.4L444.3 1036.7L425 1031.5L405.7 1042.4Z" fill="#566dc1" stroke="#0d1840" stroke-width="2" stroke-linejoin="round"/><path d="M463.8 1041.7L482.9 1031L463.3 1025.8L444.3 1036.7Z" fill="#5a79c8" stroke="#0e1c41" stroke-width="2" stroke-linejoin="round"/><path d="M405.5 1058L425 1047.4L405.7 1042.4L386.3 1053.1Z" fill="#5465bd" stroke="#0d153f" stroke-width="2" stroke-linejoin="round"/><path d="M444.5 1052.2L463.8 1041.7L444.3 1036.7L425 1047.4Z" fill="#5871c4" stroke="#0e1940" stroke-width="2" stroke-linejoin="round"/><path d="M425 1062.6L444.5 1052.2L425 1047.4L405.5 1058Z" fill="#556ac0" stroke="#0d173f" stroke-width="2" stroke-linejoin="round"/><ellipse cx="259.9" cy="782" rx="7.4" ry="6.6" fill="#c01c24" stroke="#3a0a0a" stroke-width="1.6"/><ellipse cx="591.5" cy="731" rx="7.4" ry="6.6" fill="#c01c24" stroke="#3a0a0a" stroke-width="1.6"/><ellipse cx="610.3" cy="942.6" rx="7.4" ry="6.6" fill="#c01c24" stroke="#3a0a0a" stroke-width="1.6"/><ellipse cx="241.3" cy="997.6" rx="7.4" ry="6.6" fill="#c01c24" stroke="#3a0a0a" stroke-width="1.6"/><text x="36.2" y="659.7" font-size="24" fill="#383838" textLength="16.8" lengthAdjust="spacingAndGlyphs">6</text><text x="37.8" y="712" font-size="24" fill="#383838" textLength="15.1" lengthAdjust="spacingAndGlyphs">5</text><text x="37.6" y="765.7" font-size="24" fill="#383838" textLength="16.8" lengthAdjust="spacingAndGlyphs">4</text><text x="40.2" y="819.4" font-size="24" fill="#383838" textLength="18.6" lengthAdjust="spacingAndGlyphs">3</text><text x="44.6" y="873" font-size="24" fill="#383838" textLength="16.9" lengthAdjust="spacingAndGlyphs">2</text><text x="64.1" y="925.4" font-size="24" fill="#383838" text-anchor="end">1</text><text x="50.3" y="976.3" font-size="24" fill="#383838" textLength="16.8" lengthAdjust="spacingAndGlyphs">0</text><text x="22.9" y="1114.7" font-size="24" fill="#3a3a3a" textLength="49.5" lengthAdjust="spacingAndGlyphs">8.00</text><text x="80" y="1139.3" font-size="24" fill="#3a3a3a" textLength="47" lengthAdjust="spacingAndGlyphs">7.00</text><text x="135.9" y="1163" font-size="24" fill="#3a3a3a" textLength="48.2" lengthAdjust="spacingAndGlyphs">6.00</text><text x="191.7" y="1188.4" font-size="24" fill="#3a3a3a" textLength="47" lengthAdjust="spacingAndGlyphs">5.00</text><text x="247.6" y="1212" font-size="24" fill="#3a3a3a" textLength="48.2" lengthAdjust="spacingAndGlyphs">4.00</text><text x="303.5" y="1236.6" font-size="24" fill="#3a3a3a" textLength="48.2" lengthAdjust="spacingAndGlyphs">3.00</text><text x="360.6" y="1260.7" font-size="24" fill="#3a3a3a" textLength="48.2" lengthAdjust="spacingAndGlyphs">2.00</text><text x="440.6" y="1260.7" font-size="24" fill="#3a3a3a" textLength="48.3" lengthAdjust="spacingAndGlyphs">4.00</text><text x="524.4" y="1223.9" font-size="24" fill="#3a3a3a" textLength="48.3" lengthAdjust="spacingAndGlyphs">6.00</text><text x="609.5" y="1187.1" font-size="24" fill="#3a3a3a" textLength="48.2" lengthAdjust="spacingAndGlyphs">8.00</text><text x="693.3" y="1149.5" font-size="24" fill="#3a3a3a" textLength="59.7" lengthAdjust="spacingAndGlyphs">10.00</text><text x="778.4" y="1112.9" font-size="24" fill="#3a3a3a" textLength="59.6" lengthAdjust="spacingAndGlyphs">12.00</text><text x="85" y="1229.9" font-size="23" fill="#222" font-weight="bold" textLength="76.2" lengthAdjust="spacingAndGlyphs">B: PVA</text><text x="684.4" y="1228.6" font-size="23" fill="#222" font-weight="bold" textLength="76.2" lengthAdjust="spacingAndGlyphs">A: PVP</text><text x="29.7" y="970.4" font-size="20" fill="#222" font-weight="bold" textLength="241.5" lengthAdjust="spacingAndGlyphs" transform="rotate(-90 29.7 970.4)">Nanofiber producibility</text><text x="853.5" y="611.6" font-size="33" fill="#000" font-weight="bold">C</text><text x="1123.5" y="617.3" font-size="22" fill="#222" font-weight="bold" textLength="267" lengthAdjust="spacingAndGlyphs">Nanofiber producibility</text><defs><linearGradient id="g0"><stop offset="0.0000" stop-color="#2c50a7"/><stop offset="0.0655" stop-color="#2d52a8"/><stop offset="0.1251" stop-color="#3570bc"/><stop offset="0.1707" stop-color="#3a8ad0"/><stop offset="0.2123" stop-color="#1ec3f0"/><stop offset="0.2726" stop-color="#5ac8e2"/><stop offset="0.3770" stop-color="#6ac4a6"/><stop offset="0.4732" stop-color="#66bc4e"/><stop offset="0.5553" stop-color="#62bb42"/><stop offset="0.6154" stop-color="#64bc40"/><stop offset="0.6852" stop-color="#a8d030"/><stop offset="0.7194" stop-color="#c4dc28"/><stop offset="0.7926" stop-color="#f5e80a"/><stop offset="0.8573" stop-color="#f5a01e"/><stop offset="0.9076" stop-color="#ee6222"/><stop offset="0.9489" stop-color="#e81c24"/><stop offset="1.0000" stop-color="#e8151d"/></linearGradient><linearGradient id="g1"><stop offset="0.0000" stop-color="#2c50a7"/><stop offset="0.0683" stop-color="#2d52a8"/><stop offset="0.1280" stop-color="#3570bc"/><stop offset="0.1737" stop-color="#3a8ad0"/><stop offset="0.2154" stop-color="#1ec3f0"/><stop offset="0.2759" stop-color="#5ac8e2"/><stop offset="0.3805" stop-color="#6ac4a6"/><stop offset="0.4770" stop-color="#66bc4e"/><stop offset="0.5591" stop-color="#62bb42"/><stop offset="0.6194" stop-color="#64bc40"/><stop offset="0.6892" stop-color="#a8d030"/><stop offset="0.7235" stop-color="#c4dc28"/><stop offset="0.7969" stop-color="#f5e80a"/><stop offset="0.8615" stop-color="#f5a01e"/><stop offset="0.9121" stop-color="#ee6222"/><stop offset="0.9534" stop-color="#e81c24"/><stop offset="1.0000" stop-color="#e8151d"/></linearGradient><linearGradient id="g2"><stop offset="0.0000" stop-color="#2c50a7"/><stop offset="0.0709" stop-color="#2d52a8"/><stop offset="0.1309" stop-color="#3570bc"/><stop offset="0.1767" stop-color="#3a8ad0"/><stop offset="0.2185" stop-color="#1ec3f0"/><stop offset="0.2791" stop-color="#5ac8e2"/><stop offset="0.3840" stop-color="#6ac4a6"/><stop offset="0.4806" stop-color="#66bc4e"/><stop offset="0.5630" stop-color="#62bb42"/><stop offset="0.6233" stop-color="#64bc40"/><stop offset="0.6934" stop-color="#a8d030"/><stop offset="0.7276" stop-color="#c4dc28"/><stop offset="0.8011" stop-color="#f5e80a"/><stop offset="0.8659" stop-color="#f5a01e"/><stop offset="0.9165" stop-color="#ee6222"/><stop offset="0.9579" stop-color="#e81c24"/><stop offset="1.0000" stop-color="#e8161e"/></linearGradient><linearGradient id="g3"><stop offset="0.0000" stop-color="#2c50a7"/><stop offset="0.0736" stop-color="#2d52a8"/><stop offset="0.1338" stop-color="#3570bc"/><stop offset="0.1797" stop-color="#3a8ad0"/><stop offset="0.2216" stop-color="#1ec3f0"/><stop offset="0.2825" stop-color="#5ac8e2"/><stop offset="0.3875" stop-color="#6ac4a6"/><stop offset="0.4844" stop-color="#66bc4e"/><stop offset="0.5669" stop-color="#62bb42"/><stop offset="0.6273" stop-color="#64bc40"/><stop offset="0.6975" stop-color="#a8d030"/><stop offset="0.7317" stop-color="#c4dc28"/><stop offset="0.8054" stop-color="#f5e80a"/><stop offset="0.8702" stop-color="#f5a01e"/><stop offset="0.9209" stop-color="#ee6222"/><stop offset="0.9623" stop-color="#e81c24"/><stop offset="1.0000" stop-color="#e8171f"/></linearGradient><linearGradient id="g4"><stop offset="0.0000" stop-color="#2c50a7"/><stop offset="0.0763" stop-color="#2d52a8"/><stop offset="0.1366" stop-color="#3570bc"/><stop offset="0.1827" stop-color="#3a8ad0"/><stop offset="0.2248" stop-color="#1ec3f0"/><stop offset="0.2857" stop-color="#5ac8e2"/><stop offset="0.3910" stop-color="#6ac4a6"/><stop offset="0.4881" stop-color="#66bc4e"/><stop offset="0.5708" stop-color="#62bb42"/><stop offset="0.6313" stop-color="#64bc40"/><stop offset="0.7016" stop-color="#a8d030"/><stop offset="0.7359" stop-color="#c4dc28"/><stop offset="0.8096" stop-color="#f5e80a"/><stop offset="0.8746" stop-color="#f5a01e"/><stop offset="0.9252" stop-color="#ee6222"/><stop offset="0.9667" stop-color="#e81c24"/><stop offset="1.0000" stop-color="#e8171f"/></linearGradient><linearGradient id="g5"><stop offset="0.0000" stop-color="#2c50a7"/><stop offset="0.0789" stop-color="#2d52a8"/><stop offset="0.1395" stop-color="#3570bc"/><stop offset="0.1857" stop-color="#3a8ad0"/><stop offset="0.2278" stop-color="#1ec3f0"/><stop offset="0.2890" stop-color="#5ac8e2"/><stop offset="0.3945" stop-color="#6ac4a6"/><stop offset="0.4918" stop-color="#66bc4e"/><stop offset="0.5746" stop-color="#62bb42"/><stop offset="0.6351" stop-color="#64bc40"/><stop offset="0.7056" stop-color="#a8d030"/><stop offset="0.7400" stop-color="#c4dc28"/><stop offset="0.8139" stop-color="#f5e80a"/><stop offset="0.8789" stop-color="#f5a01e"/><stop offset="0.9298" stop-color="#ee6222"/><stop offset="0.9712" stop-color="#e81c24"/><stop offset="1.0000" stop-color="#e81820"/></linearGradient><linearGradient id="g6"><stop offset="0.0000" stop-color="#2c50a7"/><stop offset="0.0815" stop-color="#2d52a8"/><stop offset="0.1424" stop-color="#3570bc"/><stop offset="0.1887" stop-color="#3a8ad0"/><stop offset="0.2309" stop-color="#1ec3f0"/><stop offset="0.2921" stop-color="#5ac8e2"/><stop offset="0.3980" stop-color="#6ac4a6"/><stop offset="0.4955" stop-color="#66bc4e"/><stop offset="0.5785" stop-color="#62bb42"/><stop offset="0.6391" stop-color="#64bc40"/><stop offset="0.7098" stop-color="#a8d030"/><stop offset="0.7441" stop-color="#c4dc28"/><stop offset="0.8180" stop-color="#f5e80a"/><stop offset="0.8833" stop-color="#f5a01e"/><stop offset="0.9341" stop-color="#ee6222"/><stop offset="0.9756" stop-color="#e81c24"/><stop offset="1.0000" stop-color="#e81921"/></linearGradient><linearGradient id="g7"><stop offset="0.0000" stop-color="#2c50a7"/><stop offset="0.0841" stop-color="#2d52a8"/><stop offset="0.1451" stop-color="#3570bc"/><stop offset="0.1916" stop-color="#3a8ad0"/><stop offset="0.2339" stop-color="#1ec3f0"/><stop offset="0.2954" stop-color="#5ac8e2"/><stop offset="0.4014" stop-color="#6ac4a6"/><stop offset="0.4991" stop-color="#66bc4e"/><stop offset="0.5822" stop-color="#62bb42"/><stop offset="0.6431" stop-color="#64bc40"/><stop offset="0.7138" stop-color="#a8d030"/><stop offset="0.7483" stop-color="#c4dc28"/><stop offset="0.8222" stop-color="#f5e80a"/><stop offset="0.8875" stop-color="#f5a01e"/><stop offset="0.9385" stop-color="#ee6222"/><stop offset="0.9801" stop-color="#e81c24"/><stop offset="1.0000" stop-color="#e81921"/></linearGradient><linearGradient id="g8"><stop offset="0.0000" stop-color="#2c50a7"/><stop offset="0.0867" stop-color="#2d52a8"/><stop offset="0.1479" stop-color="#3570bc"/><stop offset="0.1946" stop-color="#3a8ad0"/><stop offset="0.2370" stop-color="#1ec3f0"/><stop offset="0.2986" stop-color="#5ac8e2"/><stop offset="0.4049" stop-color="#6ac4a6"/><stop offset="0.5028" stop-color="#66bc4e"/><stop offset="0.5861" stop-color="#62bb42"/><stop offset="0.6470" stop-color="#64bc40"/><stop offset="0.7179" stop-color="#a8d030"/><stop offset="0.7524" stop-color="#c4dc28"/><stop offset="0.8265" stop-color="#f5e80a"/><stop offset="0.8919" stop-color="#f5a01e"/><stop offset="0.9429" stop-color="#ee6222"/><stop offset="0.9845" stop-color="#e81c24"/><stop offset="1.0000" stop-color="#e81a22"/></linearGradient><linearGradient id="g9"><stop offset="0.0000" stop-color="#2c50a7"/><stop offset="0.0894" stop-color="#2d52a8"/><stop offset="0.1508" stop-color="#3570bc"/><stop offset="0.1975" stop-color="#3a8ad0"/><stop offset="0.2400" stop-color="#1ec3f0"/><stop offset="0.3017" stop-color="#5ac8e2"/><stop offset="0.4084" stop-color="#6ac4a6"/><stop offset="0.5065" stop-color="#66bc4e"/><stop offset="0.5899" stop-color="#62bb42"/><stop offset="0.6510" stop-color="#64bc40"/><stop offset="0.7219" stop-color="#a8d030"/><stop offset="0.7565" stop-color="#c4dc28"/><stop offset="0.8308" stop-color="#f5e80a"/><stop offset="0.8961" stop-color="#f5a01e"/><stop offset="0.9472" stop-color="#ee6222"/><stop offset="0.9890" stop-color="#e81c24"/><stop offset="1.0000" stop-color="#e81a22"/></linearGradient><linearGradient id="g10"><stop offset="0.0000" stop-color="#2c50a7"/><stop offset="0.0919" stop-color="#2d52a8"/><stop offset="0.1535" stop-color="#3570bc"/><stop offset="0.2004" stop-color="#3a8ad0"/><stop offset="0.2430" stop-color="#1ec3f0"/><stop offset="0.3050" stop-color="#5ac8e2"/><stop offset="0.4117" stop-color="#6ac4a6"/><stop offset="0.5101" stop-color="#66bc4e"/><stop offset="0.5938" stop-color="#62bb42"/><stop offset="0.6549" stop-color="#64bc40"/><stop offset="0.7259" stop-color="#a8d030"/><stop offset="0.7606" stop-color="#c4dc28"/><stop offset="0.8350" stop-color="#f5e80a"/><stop offset="0.9005" stop-color="#f5a01e"/><stop offset="0.9516" stop-color="#ee6222"/><stop offset="0.9934" stop-color="#e81c24"/><stop offset="1.0000" stop-color="#e81b23"/></linearGradient><linearGradient id="g11"><stop offset="0.0000" stop-color="#2c50a7"/><stop offset="0.0945" stop-color="#2d52a8"/><stop offset="0.1562" stop-color="#3570bc"/><stop offset="0.2033" stop-color="#3a8ad0"/><stop offset="0.2460" stop-color="#1ec3f0"/><stop offset="0.3081" stop-color="#5ac8e2"/><stop offset="0.4153" stop-color="#6ac4a6"/><stop offset="0.5137" stop-color="#66bc4e"/><stop offset="0.5975" stop-color="#62bb42"/><stop offset="0.6587" stop-color="#64bc40"/><stop offset="0.7300" stop-color="#a8d030"/><stop offset="0.7646" stop-color="#c4dc28"/><stop offset="0.8391" stop-color="#f5e80a"/><stop offset="0.9047" stop-color="#f5a01e"/><stop offset="0.9560" stop-color="#ee6222"/><stop offset="0.9979" stop-color="#e81c24"/><stop offset="1.0000" stop-color="#e81c24"/></linearGradient><linearGradient id="g12"><stop offset="0.0000" stop-color="#2c4fa7"/><stop offset="0.0970" stop-color="#2d52a8"/><stop offset="0.1590" stop-color="#3570bc"/><stop offset="0.2061" stop-color="#3a8ad0"/><stop offset="0.2490" stop-color="#1ec3f0"/><stop offset="0.3114" stop-color="#5ac8e2"/><stop offset="0.4186" stop-color="#6ac4a6"/><stop offset="0.5174" stop-color="#66bc4e"/><stop offset="0.6014" stop-color="#62bb42"/><stop offset="0.6627" stop-color="#64bc40"/><stop offset="0.7340" stop-color="#a8d030"/><stop offset="0.7688" stop-color="#c4dc28"/><stop offset="0.8434" stop-color="#f5e80a"/><stop offset="0.9091" stop-color="#f5a01e"/><stop offset="0.9604" stop-color="#ee6222"/><stop offset="1.0000" stop-color="#e82024"/></linearGradient><linearGradient id="g13"><stop offset="0.0000" stop-color="#2c4fa7"/><stop offset="0.0995" stop-color="#2d52a8"/><stop offset="0.1616" stop-color="#3570bc"/><stop offset="0.2090" stop-color="#3a8ad0"/><stop offset="0.2520" stop-color="#1ec3f0"/><stop offset="0.3145" stop-color="#5ac8e2"/><stop offset="0.4220" stop-color="#6ac4a6"/><stop offset="0.5210" stop-color="#66bc4e"/><stop offset="0.6051" stop-color="#62bb42"/><stop offset="0.6666" stop-color="#64bc40"/><stop offset="0.7380" stop-color="#a8d030"/><stop offset="0.7729" stop-color="#c4dc28"/><stop offset="0.8475" stop-color="#f5e80a"/><stop offset="0.9134" stop-color="#f5a01e"/><stop offset="0.9647" stop-color="#ee6222"/><stop offset="1.0000" stop-color="#e92724"/></linearGradient><linearGradient id="g14"><stop offset="0.0000" stop-color="#2c4fa7"/><stop offset="0.1020" stop-color="#2d52a8"/><stop offset="0.1644" stop-color="#3570bc"/><stop offset="0.2119" stop-color="#3a8ad0"/><stop offset="0.2550" stop-color="#1ec3f0"/><stop offset="0.3176" stop-color="#5ac8e2"/><stop offset="0.4255" stop-color="#6ac4a6"/><stop offset="0.5246" stop-color="#66bc4e"/><stop offset="0.6089" stop-color="#62bb42"/><stop offset="0.6705" stop-color="#64bc40"/><stop offset="0.7420" stop-color="#a8d030"/><stop offset="0.7769" stop-color="#c4dc28"/><stop offset="0.8518" stop-color="#f5e80a"/><stop offset="0.9176" stop-color="#f5a01e"/><stop offset="0.9691" stop-color="#ee6222"/><stop offset="1.0000" stop-color="#ea2f23"/></linearGradient><linearGradient id="g15"><stop offset="0.0000" stop-color="#2c4fa7"/><stop offset="0.1045" stop-color="#2d52a8"/><stop offset="0.1671" stop-color="#3570bc"/><stop offset="0.2147" stop-color="#3a8ad0"/><stop offset="0.2580" stop-color="#1ec3f0"/><stop offset="0.3207" stop-color="#5ac8e2"/><stop offset="0.4289" stop-color="#6ac4a6"/><stop offset="0.5283" stop-color="#66bc4e"/><stop offset="0.6127" stop-color="#62bb42"/><stop offset="0.6744" stop-color="#64bc40"/><stop offset="0.7460" stop-color="#a8d030"/><stop offset="0.7810" stop-color="#c4dc28"/><stop offset="0.8560" stop-color="#f5e80a"/><stop offset="0.9220" stop-color="#f5a01e"/><stop offset="0.9735" stop-color="#ee6222"/><stop offset="1.0000" stop-color="#ea3623"/></linearGradient><linearGradient id="g16"><stop offset="0.0000" stop-color="#2c4fa7"/><stop offset="0.1070" stop-color="#2d52a8"/><stop offset="0.1697" stop-color="#3570bc"/><stop offset="0.2175" stop-color="#3a8ad0"/><stop offset="0.2609" stop-color="#1ec3f0"/><stop offset="0.3239" stop-color="#5ac8e2"/><stop offset="0.4323" stop-color="#6ac4a6"/><stop offset="0.5319" stop-color="#66bc4e"/><stop offset="0.6165" stop-color="#62bb42"/><stop offset="0.6783" stop-color="#64bc40"/><stop offset="0.7500" stop-color="#a8d030"/><stop offset="0.7850" stop-color="#c4dc28"/><stop offset="0.8601" stop-color="#f5e80a"/><stop offset="0.9263" stop-color="#f5a01e"/><stop offset="0.9777" stop-color="#ee6222"/><stop offset="1.0000" stop-color="#eb3d23"/></linearGradient><linearGradient id="g17"><stop offset="0.0000" stop-color="#2c4fa7"/><stop offset="0.1095" stop-color="#2d52a8"/><stop offset="0.1724" stop-color="#3570bc"/><stop offset="0.2204" stop-color="#3a8ad0"/><stop offset="0.2639" stop-color="#1ec3f0"/><stop offset="0.3270" stop-color="#5ac8e2"/><stop offset="0.4356" stop-color="#6ac4a6"/><stop offset="0.5354" stop-color="#66bc4e"/><stop offset="0.6202" stop-color="#62bb42"/><stop offset="0.6821" stop-color="#64bc40"/><stop offset="0.7540" stop-color="#a8d030"/><stop offset="0.7891" stop-color="#c4dc28"/><stop offset="0.8642" stop-color="#f5e80a"/><stop offset="0.9305" stop-color="#f5a01e"/><stop offset="0.9821" stop-color="#ee6222"/><stop offset="1.0000" stop-color="#eb4523"/></linearGradient><linearGradient id="g18"><stop offset="0.0000" stop-color="#2c4fa7"/><stop offset="0.1119" stop-color="#2d52a8"/><stop offset="0.1751" stop-color="#3570bc"/><stop offset="0.2231" stop-color="#3a8ad0"/><stop offset="0.2668" stop-color="#1ec3f0"/><stop offset="0.3301" stop-color="#5ac8e2"/><stop offset="0.4390" stop-color="#6ac4a6"/><stop offset="0.5390" stop-color="#66bc4e"/><stop offset="0.6240" stop-color="#62bb42"/><stop offset="0.6860" stop-color="#64bc40"/><stop offset="0.7580" stop-color="#a8d030"/><stop offset="0.7931" stop-color="#c4dc28"/><stop offset="0.8685" stop-color="#f5e80a"/><stop offset="0.9347" stop-color="#f5a01e"/><stop offset="0.9865" stop-color="#ee6222"/><stop offset="1.0000" stop-color="#ec4c23"/></linearGradient><linearGradient id="g19"><stop offset="0.0000" stop-color="#2c4fa7"/><stop offset="0.1142" stop-color="#2d52a8"/><stop offset="0.1777" stop-color="#3570bc"/><stop offset="0.2260" stop-color="#3a8ad0"/><stop offset="0.2696" stop-color="#1ec3f0"/><stop offset="0.3331" stop-color="#5ac8e2"/><stop offset="0.4424" stop-color="#6ac4a6"/><stop offset="0.5426" stop-color="#66bc4e"/><stop offset="0.6278" stop-color="#62bb42"/><stop offset="0.6899" stop-color="#64bc40"/><stop offset="0.7620" stop-color="#a8d030"/><stop offset="0.7973" stop-color="#c4dc28"/><stop offset="0.8726" stop-color="#f5e80a"/><stop offset="0.9391" stop-color="#f5a01e"/><stop offset="0.9909" stop-color="#ee6222"/><stop offset="1.0000" stop-color="#ed5322"/></linearGradient><linearGradient id="g20"><stop offset="0.0000" stop-color="#2c4fa7"/><stop offset="0.1168" stop-color="#2d52a8"/><stop offset="0.1803" stop-color="#3570bc"/><stop offset="0.2288" stop-color="#3a8ad0"/><stop offset="0.2726" stop-color="#1ec3f0"/><stop offset="0.3363" stop-color="#5ac8e2"/><stop offset="0.4456" stop-color="#6ac4a6"/><stop offset="0.5461" stop-color="#66bc4e"/><stop offset="0.6315" stop-color="#62bb42"/><stop offset="0.6938" stop-color="#64bc40"/><stop offset="0.7660" stop-color="#a8d030"/><stop offset="0.8013" stop-color="#c4dc28"/><stop offset="0.8767" stop-color="#f5e80a"/><stop offset="0.9434" stop-color="#f5a01e"/><stop offset="0.9951" stop-color="#ee6222"/><stop offset="1.0000" stop-color="#ed5a22"/></linearGradient><linearGradient id="g21"><stop offset="0.0000" stop-color="#2c4fa7"/><stop offset="0.1191" stop-color="#2d52a8"/><stop offset="0.1829" stop-color="#3570bc"/><stop offset="0.2315" stop-color="#3a8ad0"/><stop offset="0.2755" stop-color="#1ec3f0"/><stop offset="0.3393" stop-color="#5ac8e2"/><stop offset="0.4490" stop-color="#6ac4a6"/><stop offset="0.5497" stop-color="#66bc4e"/><stop offset="0.6353" stop-color="#62bb42"/><stop offset="0.6976" stop-color="#64bc40"/><stop offset="0.7700" stop-color="#a8d030"/><stop offset="0.8053" stop-color="#c4dc28"/><stop offset="0.8810" stop-color="#f5e80a"/><stop offset="0.9476" stop-color="#f5a01e"/><stop offset="0.9995" stop-color="#ee6222"/><stop offset="1.0000" stop-color="#ee6122"/></linearGradient><linearGradient id="g22"><stop offset="0.0000" stop-color="#2b4fa6"/><stop offset="0.1215" stop-color="#2d52a8"/><stop offset="0.1855" stop-color="#3570bc"/><stop offset="0.2342" stop-color="#3a8ad0"/><stop offset="0.2784" stop-color="#1ec3f0"/><stop offset="0.3424" stop-color="#5ac8e2"/><stop offset="0.4524" stop-color="#6ac4a6"/><stop offset="0.5533" stop-color="#66bc4e"/><stop offset="0.6390" stop-color="#62bb42"/><stop offset="0.7015" stop-color="#64bc40"/><stop offset="0.7740" stop-color="#a8d030"/><stop offset="0.8094" stop-color="#c4dc28"/><stop offset="0.8851" stop-color="#f5e80a"/><stop offset="0.9519" stop-color="#f5a01e"/><stop offset="1.0000" stop-color="#ef6722"/></linearGradient><linearGradient id="g23"><stop offset="0.0000" stop-color="#2b4fa6"/><stop offset="0.1238" stop-color="#2d52a8"/><stop offset="0.1880" stop-color="#3570bc"/><stop offset="0.2369" stop-color="#3a8ad0"/><stop offset="0.2811" stop-color="#1ec3f0"/><stop offset="0.3454" stop-color="#5ac8e2"/><stop offset="0.4556" stop-color="#6ac4a6"/><stop offset="0.5569" stop-color="#66bc4e"/><stop offset="0.6426" stop-color="#62bb42"/><stop offset="0.7052" stop-color="#64bc40"/><stop offset="0.7780" stop-color="#a8d030"/><stop offset="0.8134" stop-color="#c4dc28"/><stop offset="0.8893" stop-color="#f5e80a"/><stop offset="0.9561" stop-color="#f5a01e"/><stop offset="1.0000" stop-color="#ef6c21"/></linearGradient><linearGradient id="g24"><stop offset="0.0000" stop-color="#2b4fa6"/><stop offset="0.1261" stop-color="#2d52a8"/><stop offset="0.1906" stop-color="#3570bc"/><stop offset="0.2396" stop-color="#3a8ad0"/><stop offset="0.2840" stop-color="#1ec3f0"/><stop offset="0.3484" stop-color="#5ac8e2"/><stop offset="0.4590" stop-color="#6ac4a6"/><stop offset="0.5604" stop-color="#66bc4e"/><stop offset="0.6464" stop-color="#62bb42"/><stop offset="0.7091" stop-color="#64bc40"/><stop offset="0.7819" stop-color="#a8d030"/><stop offset="0.8174" stop-color="#c4dc28"/><stop offset="0.8934" stop-color="#f5e80a"/><stop offset="0.9604" stop-color="#f5a01e"/><stop offset="1.0000" stop-color="#f07121"/></linearGradient><linearGradient id="g25"><stop offset="0.0000" stop-color="#2b4fa6"/><stop offset="0.1284" stop-color="#2d52a8"/><stop offset="0.1931" stop-color="#3570bc"/><stop offset="0.2424" stop-color="#3a8ad0"/><stop offset="0.2869" stop-color="#1ec3f0"/><stop offset="0.3514" stop-color="#5ac8e2"/><stop offset="0.4623" stop-color="#6ac4a6"/><stop offset="0.5639" stop-color="#66bc4e"/><stop offset="0.6501" stop-color="#62bb42"/><stop offset="0.7129" stop-color="#64bc40"/><stop offset="0.7859" stop-color="#a8d030"/><stop offset="0.8214" stop-color="#c4dc28"/><stop offset="0.8975" stop-color="#f5e80a"/><stop offset="0.9646" stop-color="#f5a01e"/><stop offset="1.0000" stop-color="#f07621"/></linearGradient><linearGradient id="g26"><stop offset="0.0000" stop-color="#2b4fa6"/><stop offset="0.1308" stop-color="#2d52a8"/><stop offset="0.1956" stop-color="#3570bc"/><stop offset="0.2450" stop-color="#3a8ad0"/><stop offset="0.2896" stop-color="#1ec3f0"/><stop offset="0.3544" stop-color="#5ac8e2"/><stop offset="0.4655" stop-color="#6ac4a6"/><stop offset="0.5674" stop-color="#66bc4e"/><stop offset="0.6538" stop-color="#62bb42"/><stop offset="0.7167" stop-color="#64bc40"/><stop offset="0.7899" stop-color="#a8d030"/><stop offset="0.8254" stop-color="#c4dc28"/><stop offset="0.9016" stop-color="#f5e80a"/><stop offset="0.9688" stop-color="#f5a01e"/><stop offset="1.0000" stop-color="#f17b20"/></linearGradient><linearGradient id="g27"><stop offset="0.0000" stop-color="#2b4fa6"/><stop offset="0.1330" stop-color="#2d52a8"/><stop offset="0.1981" stop-color="#3570bc"/><stop offset="0.2476" stop-color="#3a8ad0"/><stop offset="0.2925" stop-color="#1ec3f0"/><stop offset="0.3574" stop-color="#5ac8e2"/><stop offset="0.4689" stop-color="#6ac4a6"/><stop offset="0.5709" stop-color="#66bc4e"/><stop offset="0.6575" stop-color="#62bb42"/><stop offset="0.7205" stop-color="#64bc40"/><stop offset="0.7937" stop-color="#a8d030"/><stop offset="0.8294" stop-color="#c4dc28"/><stop offset="0.9058" stop-color="#f5e80a"/><stop offset="0.9730" stop-color="#f5a01e"/><stop offset="1.0000" stop-color="#f18020"/></linearGradient><linearGradient id="g28"><stop offset="0.0000" stop-color="#2b4fa6"/><stop offset="0.1352" stop-color="#2d52a8"/><stop offset="0.2006" stop-color="#3570bc"/><stop offset="0.2502" stop-color="#3a8ad0"/><stop offset="0.2953" stop-color="#1ec3f0"/><stop offset="0.3604" stop-color="#5ac8e2"/><stop offset="0.4721" stop-color="#6ac4a6"/><stop offset="0.5744" stop-color="#66bc4e"/><stop offset="0.6611" stop-color="#62bb42"/><stop offset="0.7244" stop-color="#64bc40"/><stop offset="0.7977" stop-color="#a8d030"/><stop offset="0.8334" stop-color="#c4dc28"/><stop offset="0.9099" stop-color="#f5e80a"/><stop offset="0.9772" stop-color="#f5a01e"/><stop offset="1.0000" stop-color="#f28520"/></linearGradient><linearGradient id="g29"><stop offset="0.0000" stop-color="#2b4fa6"/><stop offset="0.1375" stop-color="#2d52a8"/><stop offset="0.2031" stop-color="#3570bc"/><stop offset="0.2529" stop-color="#3a8ad0"/><stop offset="0.2980" stop-color="#1ec3f0"/><stop offset="0.3634" stop-color="#5ac8e2"/><stop offset="0.4754" stop-color="#6ac4a6"/><stop offset="0.5779" stop-color="#66bc4e"/><stop offset="0.6649" stop-color="#62bb42"/><stop offset="0.7281" stop-color="#64bc40"/><stop offset="0.8016" stop-color="#a8d030"/><stop offset="0.8374" stop-color="#c4dc28"/><stop offset="0.9140" stop-color="#f5e80a"/><stop offset="0.9815" stop-color="#f5a01e"/><stop offset="1.0000" stop-color="#f38a1f"/></linearGradient><linearGradient id="g30"><stop offset="0.0000" stop-color="#2b4fa6"/><stop offset="0.1396" stop-color="#2d52a8"/><stop offset="0.2055" stop-color="#3570bc"/><stop offset="0.2555" stop-color="#3a8ad0"/><stop offset="0.3007" stop-color="#1ec3f0"/><stop offset="0.3662" stop-color="#5ac8e2"/><stop offset="0.4786" stop-color="#6ac4a6"/><stop offset="0.5814" stop-color="#66bc4e"/><stop offset="0.6685" stop-color="#62bb42"/><stop offset="0.7320" stop-color="#64bc40"/><stop offset="0.8055" stop-color="#a8d030"/><stop offset="0.8414" stop-color="#c4dc28"/><stop offset="0.9181" stop-color="#f5e80a"/><stop offset="0.9856" stop-color="#f5a01e"/><stop offset="1.0000" stop-color="#f38f1f"/></linearGradient><linearGradient id="g31"><stop offset="0.0000" stop-color="#2b4fa6"/><stop offset="0.1419" stop-color="#2d52a8"/><stop offset="0.2080" stop-color="#3570bc"/><stop offset="0.2581" stop-color="#3a8ad0"/><stop offset="0.3035" stop-color="#1ec3f0"/><stop offset="0.3692" stop-color="#5ac8e2"/><stop offset="0.4818" stop-color="#6ac4a6"/><stop offset="0.5849" stop-color="#66bc4e"/><stop offset="0.6721" stop-color="#62bb42"/><stop offset="0.7357" stop-color="#64bc40"/><stop offset="0.8095" stop-color="#a8d030"/><stop offset="0.8454" stop-color="#c4dc28"/><stop offset="0.9223" stop-color="#f5e80a"/><stop offset="0.9899" stop-color="#f5a01e"/><stop offset="1.0000" stop-color="#f4941f"/></linearGradient><linearGradient id="g32"><stop offset="0.0000" stop-color="#2b4fa6"/><stop offset="0.1440" stop-color="#2d52a8"/><stop offset="0.2104" stop-color="#3570bc"/><stop offset="0.2608" stop-color="#3a8ad0"/><stop offset="0.3063" stop-color="#1ec3f0"/><stop offset="0.3721" stop-color="#5ac8e2"/><stop offset="0.4850" stop-color="#6ac4a6"/><stop offset="0.5884" stop-color="#66bc4e"/><stop offset="0.6758" stop-color="#62bb42"/><stop offset="0.7395" stop-color="#64bc40"/><stop offset="0.8134" stop-color="#a8d030"/><stop offset="0.8494" stop-color="#c4dc28"/><stop offset="0.9264" stop-color="#f5e80a"/><stop offset="0.9941" stop-color="#f5a01e"/><stop offset="1.0000" stop-color="#f4991e"/></linearGradient><linearGradient id="g33"><stop offset="0.0000" stop-color="#2b4fa6"/><stop offset="0.1461" stop-color="#2d52a8"/><stop offset="0.2127" stop-color="#3570bc"/><stop offset="0.2632" stop-color="#3a8ad0"/><stop offset="0.3090" stop-color="#1ec3f0"/><stop offset="0.3750" stop-color="#5ac8e2"/><stop offset="0.4882" stop-color="#6ac4a6"/><stop offset="0.5917" stop-color="#66bc4e"/><stop offset="0.6794" stop-color="#62bb42"/><stop offset="0.7432" stop-color="#64bc40"/><stop offset="0.8173" stop-color="#a8d030"/><stop offset="0.8533" stop-color="#c4dc28"/><stop offset="0.9305" stop-color="#f5e80a"/><stop offset="0.9983" stop-color="#f5a01e"/><stop offset="1.0000" stop-color="#f59e1e"/></linearGradient><linearGradient id="g34"><stop offset="0.0000" stop-color="#2b4fa6"/><stop offset="0.1482" stop-color="#2d52a8"/><stop offset="0.2151" stop-color="#3570bc"/><stop offset="0.2659" stop-color="#3a8ad0"/><stop offset="0.3116" stop-color="#1ec3f0"/><stop offset="0.3779" stop-color="#5ac8e2"/><stop offset="0.4915" stop-color="#6ac4a6"/><stop offset="0.5953" stop-color="#66bc4e"/><stop offset="0.6831" stop-color="#62bb42"/><stop offset="0.7470" stop-color="#64bc40"/><stop offset="0.8211" stop-color="#a8d030"/><stop offset="0.8573" stop-color="#c4dc28"/><stop offset="0.9345" stop-color="#f5e80a"/><stop offset="1.0000" stop-color="#f5a31d"/></linearGradient><linearGradient id="g35"><stop offset="0.0000" stop-color="#2b4fa6"/><stop offset="0.1504" stop-color="#2d52a8"/><stop offset="0.2175" stop-color="#3570bc"/><stop offset="0.2684" stop-color="#3a8ad0"/><stop offset="0.3144" stop-color="#1ec3f0"/><stop offset="0.3808" stop-color="#5ac8e2"/><stop offset="0.4946" stop-color="#6ac4a6"/><stop offset="0.5986" stop-color="#66bc4e"/><stop offset="0.6867" stop-color="#62bb42"/><stop offset="0.7508" stop-color="#64bc40"/><stop offset="0.8250" stop-color="#a8d030"/><stop offset="0.8613" stop-color="#c4dc28"/><stop offset="0.9386" stop-color="#f5e80a"/><stop offset="1.0000" stop-color="#f5a71c"/></linearGradient><linearGradient id="g36"><stop offset="0.0000" stop-color="#2b4ea6"/><stop offset="0.1525" stop-color="#2d52a8"/><stop offset="0.2199" stop-color="#3570bc"/><stop offset="0.2709" stop-color="#3a8ad0"/><stop offset="0.3170" stop-color="#1ec3f0"/><stop offset="0.3836" stop-color="#5ac8e2"/><stop offset="0.4978" stop-color="#6ac4a6"/><stop offset="0.6021" stop-color="#66bc4e"/><stop offset="0.6904" stop-color="#62bb42"/><stop offset="0.7545" stop-color="#64bc40"/><stop offset="0.8290" stop-color="#a8d030"/><stop offset="0.8651" stop-color="#c4dc28"/><stop offset="0.9427" stop-color="#f5e80a"/><stop offset="1.0000" stop-color="#f5ac1b"/></linearGradient><linearGradient id="g37"><stop offset="0.0000" stop-color="#2b4ea6"/><stop offset="0.1545" stop-color="#2d52a8"/><stop offset="0.2221" stop-color="#3570bc"/><stop offset="0.2734" stop-color="#3a8ad0"/><stop offset="0.3196" stop-color="#1ec3f0"/><stop offset="0.3865" stop-color="#5ac8e2"/><stop offset="0.5010" stop-color="#6ac4a6"/><stop offset="0.6055" stop-color="#66bc4e"/><stop offset="0.6939" stop-color="#62bb42"/><stop offset="0.7583" stop-color="#64bc40"/><stop offset="0.8329" stop-color="#a8d030"/><stop offset="0.8691" stop-color="#c4dc28"/><stop offset="0.9467" stop-color="#f5e80a"/><stop offset="1.0000" stop-color="#f5b01a"/></linearGradient><linearGradient id="g38"><stop offset="0.0000" stop-color="#2b4ea6"/><stop offset="0.1565" stop-color="#2d52a8"/><stop offset="0.2245" stop-color="#3570bc"/><stop offset="0.2759" stop-color="#3a8ad0"/><stop offset="0.3223" stop-color="#1ec3f0"/><stop offset="0.3894" stop-color="#5ac8e2"/><stop offset="0.5041" stop-color="#6ac4a6"/><stop offset="0.6089" stop-color="#66bc4e"/><stop offset="0.6975" stop-color="#62bb42"/><stop offset="0.7620" stop-color="#64bc40"/><stop offset="0.8368" stop-color="#a8d030"/><stop offset="0.8730" stop-color="#c4dc28"/><stop offset="0.9509" stop-color="#f5e80a"/><stop offset="1.0000" stop-color="#f5b418"/></linearGradient><linearGradient id="g39"><stop offset="0.0000" stop-color="#2b4ea6"/><stop offset="0.1586" stop-color="#2d52a8"/><stop offset="0.2268" stop-color="#3570bc"/><stop offset="0.2782" stop-color="#3a8ad0"/><stop offset="0.3249" stop-color="#1ec3f0"/><stop offset="0.3922" stop-color="#5ac8e2"/><stop offset="0.5072" stop-color="#6ac4a6"/><stop offset="0.6124" stop-color="#66bc4e"/><stop offset="0.7011" stop-color="#62bb42"/><stop offset="0.7657" stop-color="#64bc40"/><stop offset="0.8405" stop-color="#a8d030"/><stop offset="0.8770" stop-color="#c4dc28"/><stop offset="0.9549" stop-color="#f5e80a"/><stop offset="1.0000" stop-color="#f5b917"/></linearGradient><linearGradient id="g40"><stop offset="0.0000" stop-color="#2b4ea6"/><stop offset="0.1605" stop-color="#2d52a8"/><stop offset="0.2290" stop-color="#3570bc"/><stop offset="0.2808" stop-color="#3a8ad0"/><stop offset="0.3275" stop-color="#1ec3f0"/><stop offset="0.3950" stop-color="#5ac8e2"/><stop offset="0.5104" stop-color="#6ac4a6"/><stop offset="0.6158" stop-color="#66bc4e"/><stop offset="0.7047" stop-color="#62bb42"/><stop offset="0.7695" stop-color="#64bc40"/><stop offset="0.8444" stop-color="#a8d030"/><stop offset="0.8809" stop-color="#c4dc28"/><stop offset="0.9590" stop-color="#f5e80a"/><stop offset="1.0000" stop-color="#f5bd16"/></linearGradient><linearGradient id="g41"><stop offset="0.0000" stop-color="#2b4ea6"/><stop offset="0.1625" stop-color="#2d52a8"/><stop offset="0.2312" stop-color="#3570bc"/><stop offset="0.2831" stop-color="#3a8ad0"/><stop offset="0.3301" stop-color="#1ec3f0"/><stop offset="0.3978" stop-color="#5ac8e2"/><stop offset="0.5135" stop-color="#6ac4a6"/><stop offset="0.6191" stop-color="#66bc4e"/><stop offset="0.7083" stop-color="#62bb42"/><stop offset="0.7731" stop-color="#64bc40"/><stop offset="0.8482" stop-color="#a8d030"/><stop offset="0.8847" stop-color="#c4dc28"/><stop offset="0.9630" stop-color="#f5e80a"/><stop offset="1.0000" stop-color="#f5c115"/></linearGradient><linearGradient id="g42"><stop offset="0.0000" stop-color="#2b4ea6"/><stop offset="0.1645" stop-color="#2d52a8"/><stop offset="0.2334" stop-color="#3570bc"/><stop offset="0.2856" stop-color="#3a8ad0"/><stop offset="0.3326" stop-color="#1ec3f0"/><stop offset="0.4006" stop-color="#5ac8e2"/><stop offset="0.5166" stop-color="#6ac4a6"/><stop offset="0.6225" stop-color="#66bc4e"/><stop offset="0.7119" stop-color="#62bb42"/><stop offset="0.7769" stop-color="#64bc40"/><stop offset="0.8521" stop-color="#a8d030"/><stop offset="0.8887" stop-color="#c4dc28"/><stop offset="0.9670" stop-color="#f5e80a"/><stop offset="1.0000" stop-color="#f5c614"/></linearGradient><linearGradient id="g43"><stop offset="0.0000" stop-color="#2b4ea6"/><stop offset="0.1664" stop-color="#2d52a8"/><stop offset="0.2356" stop-color="#3570bc"/><stop offset="0.2880" stop-color="#3a8ad0"/><stop offset="0.3351" stop-color="#1ec3f0"/><stop offset="0.4034" stop-color="#5ac8e2"/><stop offset="0.5197" stop-color="#6ac4a6"/><stop offset="0.6259" stop-color="#66bc4e"/><stop offset="0.7154" stop-color="#62bb42"/><stop offset="0.7805" stop-color="#64bc40"/><stop offset="0.8560" stop-color="#a8d030"/><stop offset="0.8926" stop-color="#c4dc28"/><stop offset="0.9711" stop-color="#f5e80a"/><stop offset="1.0000" stop-color="#f5ca12"/></linearGradient><linearGradient id="g44"><stop offset="0.0000" stop-color="#2b4ea6"/><stop offset="0.1683" stop-color="#2d52a8"/><stop offset="0.2378" stop-color="#3570bc"/><stop offset="0.2904" stop-color="#3a8ad0"/><stop offset="0.3377" stop-color="#1ec3f0"/><stop offset="0.4061" stop-color="#5ac8e2"/><stop offset="0.5228" stop-color="#6ac4a6"/><stop offset="0.6291" stop-color="#66bc4e"/><stop offset="0.7190" stop-color="#62bb42"/><stop offset="0.7842" stop-color="#64bc40"/><stop offset="0.8598" stop-color="#a8d030"/><stop offset="0.8965" stop-color="#c4dc28"/><stop offset="0.9751" stop-color="#f5e80a"/><stop offset="1.0000" stop-color="#f5ce11"/></linearGradient><linearGradient id="g45"><stop offset="0.0000" stop-color="#2b4ea6"/><stop offset="0.1701" stop-color="#2d52a8"/><stop offset="0.2400" stop-color="#3570bc"/><stop offset="0.2927" stop-color="#3a8ad0"/><stop offset="0.3403" stop-color="#1ec3f0"/><stop offset="0.4089" stop-color="#5ac8e2"/><stop offset="0.5259" stop-color="#6ac4a6"/><stop offset="0.6325" stop-color="#66bc4e"/><stop offset="0.7225" stop-color="#62bb42"/><stop offset="0.7879" stop-color="#64bc40"/><stop offset="0.8636" stop-color="#a8d030"/><stop offset="0.9004" stop-color="#c4dc28"/><stop offset="0.9791" stop-color="#f5e80a"/><stop offset="1.0000" stop-color="#f5d310"/></linearGradient><linearGradient id="g46"><stop offset="0.0000" stop-color="#2b4ea6"/><stop offset="0.1720" stop-color="#2d52a8"/><stop offset="0.2421" stop-color="#3570bc"/><stop offset="0.2950" stop-color="#3a8ad0"/><stop offset="0.3427" stop-color="#1ec3f0"/><stop offset="0.4116" stop-color="#5ac8e2"/><stop offset="0.5290" stop-color="#6ac4a6"/><stop offset="0.6359" stop-color="#66bc4e"/><stop offset="0.7260" stop-color="#62bb42"/><stop offset="0.7916" stop-color="#64bc40"/><stop offset="0.8674" stop-color="#a8d030"/><stop offset="0.9042" stop-color="#c4dc28"/><stop offset="0.9831" stop-color="#f5e80a"/><stop offset="1.0000" stop-color="#f5d70f"/></linearGradient><linearGradient id="g47"><stop offset="0.0000" stop-color="#2b4ea6"/><stop offset="0.1739" stop-color="#2d52a8"/><stop offset="0.2442" stop-color="#3570bc"/><stop offset="0.2974" stop-color="#3a8ad0"/><stop offset="0.3452" stop-color="#1ec3f0"/><stop offset="0.4143" stop-color="#5ac8e2"/><stop offset="0.5320" stop-color="#6ac4a6"/><stop offset="0.6391" stop-color="#66bc4e"/><stop offset="0.7295" stop-color="#62bb42"/><stop offset="0.7953" stop-color="#64bc40"/><stop offset="0.8713" stop-color="#a8d030"/><stop offset="0.9081" stop-color="#c4dc28"/><stop offset="0.9871" stop-color="#f5e80a"/><stop offset="1.0000" stop-color="#f5db0e"/></linearGradient><linearGradient id="g48"><stop offset="0.0000" stop-color="#2b4ea6"/><stop offset="0.1756" stop-color="#2d52a8"/><stop offset="0.2462" stop-color="#3570bc"/><stop offset="0.2996" stop-color="#3a8ad0"/><stop offset="0.3476" stop-color="#1ec3f0"/><stop offset="0.4170" stop-color="#5ac8e2"/><stop offset="0.5350" stop-color="#6ac4a6"/><stop offset="0.6425" stop-color="#66bc4e"/><stop offset="0.7331" stop-color="#62bb42"/><stop offset="0.7989" stop-color="#64bc40"/><stop offset="0.8750" stop-color="#a8d030"/><stop offset="0.9120" stop-color="#c4dc28"/><stop offset="0.9911" stop-color="#f5e80a"/><stop offset="1.0000" stop-color="#f5df0d"/></linearGradient><linearGradient id="g49"><stop offset="0.0000" stop-color="#2b4ea6"/><stop offset="0.1774" stop-color="#2d52a8"/><stop offset="0.2484" stop-color="#3570bc"/><stop offset="0.3019" stop-color="#3a8ad0"/><stop offset="0.3501" stop-color="#1ec3f0"/><stop offset="0.4196" stop-color="#5ac8e2"/><stop offset="0.5380" stop-color="#6ac4a6"/><stop offset="0.6458" stop-color="#66bc4e"/><stop offset="0.7366" stop-color="#62bb42"/><stop offset="0.8025" stop-color="#64bc40"/><stop offset="0.8789" stop-color="#a8d030"/><stop offset="0.9159" stop-color="#c4dc28"/><stop offset="0.9951" stop-color="#f5e80a"/><stop offset="1.0000" stop-color="#f5e30b"/></linearGradient><linearGradient id="g50"><stop offset="0.0000" stop-color="#2b4ea6"/><stop offset="0.1791" stop-color="#2d52a8"/><stop offset="0.2504" stop-color="#3570bc"/><stop offset="0.3041" stop-color="#3a8ad0"/><stop offset="0.3525" stop-color="#1ec3f0"/><stop offset="0.4223" stop-color="#5ac8e2"/><stop offset="0.5411" stop-color="#6ac4a6"/><stop offset="0.6490" stop-color="#66bc4e"/><stop offset="0.7401" stop-color="#62bb42"/><stop offset="0.8061" stop-color="#64bc40"/><stop offset="0.8826" stop-color="#a8d030"/><stop offset="0.9198" stop-color="#c4dc28"/><stop offset="0.9991" stop-color="#f5e80a"/><stop offset="1.0000" stop-color="#f5e70a"/></linearGradient><linearGradient id="g51"><stop offset="0.0000" stop-color="#2b4ea6"/><stop offset="0.1809" stop-color="#2d52a8"/><stop offset="0.2525" stop-color="#3570bc"/><stop offset="0.3064" stop-color="#3a8ad0"/><stop offset="0.3550" stop-color="#1ec3f0"/><stop offset="0.4250" stop-color="#5ac8e2"/><stop offset="0.5441" stop-color="#6ac4a6"/><stop offset="0.6524" stop-color="#66bc4e"/><stop offset="0.7436" stop-color="#62bb42"/><stop offset="0.8097" stop-color="#64bc40"/><stop offset="0.8864" stop-color="#a8d030"/><stop offset="0.9236" stop-color="#c4dc28"/><stop offset="1.0000" stop-color="#f3e80b"/></linearGradient><linearGradient id="g52"><stop offset="0.0000" stop-color="#2b4ea6"/><stop offset="0.1826" stop-color="#2d52a8"/><stop offset="0.2545" stop-color="#3570bc"/><stop offset="0.3086" stop-color="#3a8ad0"/><stop offset="0.3574" stop-color="#1ec3f0"/><stop offset="0.4276" stop-color="#5ac8e2"/><stop offset="0.5470" stop-color="#6ac4a6"/><stop offset="0.6556" stop-color="#66bc4e"/><stop offset="0.7470" stop-color="#62bb42"/><stop offset="0.8134" stop-color="#64bc40"/><stop offset="0.8901" stop-color="#a8d030"/><stop offset="0.9275" stop-color="#c4dc28"/><stop offset="1.0000" stop-color="#f1e70d"/></linearGradient><linearGradient id="g53"><stop offset="0.0000" stop-color="#2b4ea6"/><stop offset="0.1843" stop-color="#2d52a8"/><stop offset="0.2564" stop-color="#3570bc"/><stop offset="0.3109" stop-color="#3a8ad0"/><stop offset="0.3598" stop-color="#1ec3f0"/><stop offset="0.4303" stop-color="#5ac8e2"/><stop offset="0.5500" stop-color="#6ac4a6"/><stop offset="0.6589" stop-color="#66bc4e"/><stop offset="0.7505" stop-color="#62bb42"/><stop offset="0.8170" stop-color="#64bc40"/><stop offset="0.8939" stop-color="#a8d030"/><stop offset="0.9312" stop-color="#c4dc28"/><stop offset="1.0000" stop-color="#eee60e"/></linearGradient><linearGradient id="g54"><stop offset="0.0000" stop-color="#2b4ea6"/><stop offset="0.1859" stop-color="#2d52a8"/><stop offset="0.2584" stop-color="#3570bc"/><stop offset="0.3130" stop-color="#3a8ad0"/><stop offset="0.3621" stop-color="#1ec3f0"/><stop offset="0.4327" stop-color="#5ac8e2"/><stop offset="0.5530" stop-color="#6ac4a6"/><stop offset="0.6621" stop-color="#66bc4e"/><stop offset="0.7540" stop-color="#62bb42"/><stop offset="0.8206" stop-color="#64bc40"/><stop offset="0.8976" stop-color="#a8d030"/><stop offset="0.9351" stop-color="#c4dc28"/><stop offset="1.0000" stop-color="#ece610"/></linearGradient><linearGradient id="g55"><stop offset="0.0000" stop-color="#2b4ea6"/><stop offset="0.1875" stop-color="#2d52a8"/><stop offset="0.2604" stop-color="#3570bc"/><stop offset="0.3151" stop-color="#3a8ad0"/><stop offset="0.3645" stop-color="#1ec3f0"/><stop offset="0.4354" stop-color="#5ac8e2"/><stop offset="0.5560" stop-color="#6ac4a6"/><stop offset="0.6654" stop-color="#66bc4e"/><stop offset="0.7575" stop-color="#62bb42"/><stop offset="0.8242" stop-color="#64bc40"/><stop offset="0.9015" stop-color="#a8d030"/><stop offset="0.9389" stop-color="#c4dc28"/><stop offset="1.0000" stop-color="#e9e511"/></linearGradient><linearGradient id="g56"><stop offset="0.0000" stop-color="#2b4ea6"/><stop offset="0.1891" stop-color="#2d52a8"/><stop offset="0.2622" stop-color="#3570bc"/><stop offset="0.3173" stop-color="#3a8ad0"/><stop offset="0.3668" stop-color="#1ec3f0"/><stop offset="0.4380" stop-color="#5ac8e2"/><stop offset="0.5589" stop-color="#6ac4a6"/><stop offset="0.6686" stop-color="#66bc4e"/><stop offset="0.7609" stop-color="#62bb42"/><stop offset="0.8279" stop-color="#64bc40"/><stop offset="0.9051" stop-color="#a8d030"/><stop offset="0.9427" stop-color="#c4dc28"/><stop offset="1.0000" stop-color="#e7e513"/></linearGradient><linearGradient id="g57"><stop offset="0.0000" stop-color="#2b4ea6"/><stop offset="0.1906" stop-color="#2d52a8"/><stop offset="0.2641" stop-color="#3570bc"/><stop offset="0.3194" stop-color="#3a8ad0"/><stop offset="0.3690" stop-color="#1ec3f0"/><stop offset="0.4405" stop-color="#5ac8e2"/><stop offset="0.5617" stop-color="#6ac4a6"/><stop offset="0.6718" stop-color="#66bc4e"/><stop offset="0.7644" stop-color="#62bb42"/><stop offset="0.8314" stop-color="#64bc40"/><stop offset="0.9089" stop-color="#a8d030"/><stop offset="0.9465" stop-color="#c4dc28"/><stop offset="1.0000" stop-color="#e4e414"/></linearGradient><linearGradient id="g58"><stop offset="0.0000" stop-color="#2b4ea6"/><stop offset="0.1921" stop-color="#2d52a8"/><stop offset="0.2660" stop-color="#3570bc"/><stop offset="0.3215" stop-color="#3a8ad0"/><stop offset="0.3714" stop-color="#1ec3f0"/><stop offset="0.4430" stop-color="#5ac8e2"/><stop offset="0.5648" stop-color="#6ac4a6"/><stop offset="0.6750" stop-color="#66bc4e"/><stop offset="0.7677" stop-color="#62bb42"/><stop offset="0.8350" stop-color="#64bc40"/><stop offset="0.9126" stop-color="#a8d030"/><stop offset="0.9504" stop-color="#c4dc28"/><stop offset="1.0000" stop-color="#e2e316"/></linearGradient><linearGradient id="g59"><stop offset="0.0000" stop-color="#2b4ea6"/><stop offset="0.1936" stop-color="#2d52a8"/><stop offset="0.2679" stop-color="#3570bc"/><stop offset="0.3235" stop-color="#3a8ad0"/><stop offset="0.3736" stop-color="#1ec3f0"/><stop offset="0.4455" stop-color="#5ac8e2"/><stop offset="0.5676" stop-color="#6ac4a6"/><stop offset="0.6781" stop-color="#66bc4e"/><stop offset="0.7711" stop-color="#62bb42"/><stop offset="0.8385" stop-color="#64bc40"/><stop offset="0.9164" stop-color="#a8d030"/><stop offset="0.9541" stop-color="#c4dc28"/><stop offset="1.0000" stop-color="#e0e317"/></linearGradient><linearGradient id="g60"><stop offset="0.0000" stop-color="#2b4ea6"/><stop offset="0.1951" stop-color="#2d52a8"/><stop offset="0.2696" stop-color="#3570bc"/><stop offset="0.3256" stop-color="#3a8ad0"/><stop offset="0.3759" stop-color="#1ec3f0"/><stop offset="0.4480" stop-color="#5ac8e2"/><stop offset="0.5705" stop-color="#6ac4a6"/><stop offset="0.6814" stop-color="#66bc4e"/><stop offset="0.7746" stop-color="#62bb42"/><stop offset="0.8421" stop-color="#64bc40"/><stop offset="0.9201" stop-color="#a8d030"/><stop offset="0.9579" stop-color="#c4dc28"/><stop offset="1.0000" stop-color="#dde219"/></linearGradient><linearGradient id="g61"><stop offset="0.0000" stop-color="#2b4ea6"/><stop offset="0.1965" stop-color="#2d52a8"/><stop offset="0.2714" stop-color="#3570bc"/><stop offset="0.3276" stop-color="#3a8ad0"/><stop offset="0.3781" stop-color="#1ec3f0"/><stop offset="0.4505" stop-color="#5ac8e2"/><stop offset="0.5734" stop-color="#6ac4a6"/><stop offset="0.6845" stop-color="#66bc4e"/><stop offset="0.7780" stop-color="#62bb42"/><stop offset="0.8456" stop-color="#64bc40"/><stop offset="0.9238" stop-color="#a8d030"/><stop offset="0.9618" stop-color="#c4dc28"/><stop offset="1.0000" stop-color="#dbe21a"/></linearGradient><linearGradient id="g62"><stop offset="0.0000" stop-color="#2b4ea6"/><stop offset="0.1980" stop-color="#2d52a8"/><stop offset="0.2731" stop-color="#3570bc"/><stop offset="0.3296" stop-color="#3a8ad0"/><stop offset="0.3802" stop-color="#1ec3f0"/><stop offset="0.4530" stop-color="#5ac8e2"/><stop offset="0.5762" stop-color="#6ac4a6"/><stop offset="0.6878" stop-color="#66bc4e"/><stop offset="0.7814" stop-color="#62bb42"/><stop offset="0.8493" stop-color="#64bc40"/><stop offset="0.9275" stop-color="#a8d030"/><stop offset="0.9655" stop-color="#c4dc28"/><stop offset="1.0000" stop-color="#d9e11b"/></linearGradient><linearGradient id="g63"><stop offset="0.0000" stop-color="#2b4ea6"/><stop offset="0.1994" stop-color="#2d52a8"/><stop offset="0.2749" stop-color="#3570bc"/><stop offset="0.3316" stop-color="#3a8ad0"/><stop offset="0.3825" stop-color="#1ec3f0"/><stop offset="0.4554" stop-color="#5ac8e2"/><stop offset="0.5790" stop-color="#6ac4a6"/><stop offset="0.6909" stop-color="#66bc4e"/><stop offset="0.7848" stop-color="#62bb42"/><stop offset="0.8527" stop-color="#64bc40"/><stop offset="0.9311" stop-color="#a8d030"/><stop offset="0.9692" stop-color="#c4dc28"/><stop offset="1.0000" stop-color="#d6e01d"/></linearGradient><linearGradient id="g64"><stop offset="0.0000" stop-color="#2b4ea6"/><stop offset="0.2006" stop-color="#2d52a8"/><stop offset="0.2766" stop-color="#3570bc"/><stop offset="0.3335" stop-color="#3a8ad0"/><stop offset="0.3846" stop-color="#1ec3f0"/><stop offset="0.4579" stop-color="#5ac8e2"/><stop offset="0.5819" stop-color="#6ac4a6"/><stop offset="0.6940" stop-color="#66bc4e"/><stop offset="0.7881" stop-color="#62bb42"/><stop offset="0.8562" stop-color="#64bc40"/><stop offset="0.9349" stop-color="#a8d030"/><stop offset="0.9730" stop-color="#c4dc28"/><stop offset="1.0000" stop-color="#d4e01e"/></linearGradient><linearGradient id="g65"><stop offset="0.0000" stop-color="#2b4ea6"/><stop offset="0.2020" stop-color="#2d52a8"/><stop offset="0.2782" stop-color="#3570bc"/><stop offset="0.3355" stop-color="#3a8ad0"/><stop offset="0.3868" stop-color="#1ec3f0"/><stop offset="0.4603" stop-color="#5ac8e2"/><stop offset="0.5846" stop-color="#6ac4a6"/><stop offset="0.6971" stop-color="#66bc4e"/><stop offset="0.7915" stop-color="#62bb42"/><stop offset="0.8598" stop-color="#64bc40"/><stop offset="0.9385" stop-color="#a8d030"/><stop offset="0.9768" stop-color="#c4dc28"/><stop offset="1.0000" stop-color="#d2df20"/></linearGradient><linearGradient id="g66"><stop offset="0.0000" stop-color="#2b4ea6"/><stop offset="0.2033" stop-color="#2d52a8"/><stop offset="0.2800" stop-color="#3570bc"/><stop offset="0.3374" stop-color="#3a8ad0"/><stop offset="0.3889" stop-color="#1ec3f0"/><stop offset="0.4626" stop-color="#5ac8e2"/><stop offset="0.5875" stop-color="#6ac4a6"/><stop offset="0.7003" stop-color="#66bc4e"/><stop offset="0.7948" stop-color="#62bb42"/><stop offset="0.8633" stop-color="#64bc40"/><stop offset="0.9423" stop-color="#a8d030"/><stop offset="0.9805" stop-color="#c4dc28"/><stop offset="1.0000" stop-color="#d0df21"/></linearGradient><linearGradient id="g67"><stop offset="0.0000" stop-color="#2b4ea6"/><stop offset="0.2045" stop-color="#2d52a8"/><stop offset="0.2816" stop-color="#3570bc"/><stop offset="0.3393" stop-color="#3a8ad0"/><stop offset="0.3910" stop-color="#1ec3f0"/><stop offset="0.4650" stop-color="#5ac8e2"/><stop offset="0.5902" stop-color="#6ac4a6"/><stop offset="0.7034" stop-color="#66bc4e"/><stop offset="0.7981" stop-color="#62bb42"/><stop offset="0.8667" stop-color="#64bc40"/><stop offset="0.9459" stop-color="#a8d030"/><stop offset="0.9843" stop-color="#c4dc28"/><stop offset="1.0000" stop-color="#cdde22"/></linearGradient><linearGradient id="g68"><stop offset="0.0000" stop-color="#2b4ea6"/><stop offset="0.2057" stop-color="#2d52a8"/><stop offset="0.2833" stop-color="#3570bc"/><stop offset="0.3411" stop-color="#3a8ad0"/><stop offset="0.3930" stop-color="#1ec3f0"/><stop offset="0.4674" stop-color="#5ac8e2"/><stop offset="0.5930" stop-color="#6ac4a6"/><stop offset="0.7064" stop-color="#66bc4e"/><stop offset="0.8015" stop-color="#62bb42"/><stop offset="0.8702" stop-color="#64bc40"/><stop offset="0.9495" stop-color="#a8d030"/><stop offset="0.9880" stop-color="#c4dc28"/><stop offset="1.0000" stop-color="#cbde24"/></linearGradient><linearGradient id="g69"><stop offset="0.0000" stop-color="#2b4ea6"/><stop offset="0.2069" stop-color="#2d52a8"/><stop offset="0.2847" stop-color="#3570bc"/><stop offset="0.3430" stop-color="#3a8ad0"/><stop offset="0.3951" stop-color="#1ec3f0"/><stop offset="0.4698" stop-color="#5ac8e2"/><stop offset="0.5958" stop-color="#6ac4a6"/><stop offset="0.7095" stop-color="#66bc4e"/><stop offset="0.8048" stop-color="#62bb42"/><stop offset="0.8738" stop-color="#64bc40"/><stop offset="0.9531" stop-color="#a8d030"/><stop offset="0.9917" stop-color="#c4dc28"/><stop offset="1.0000" stop-color="#c9dd25"/></linearGradient><linearGradient id="g70"><stop offset="0.0000" stop-color="#2b4ea6"/><stop offset="0.2080" stop-color="#2d52a8"/><stop offset="0.2863" stop-color="#3570bc"/><stop offset="0.3448" stop-color="#3a8ad0"/><stop offset="0.3971" stop-color="#1ec3f0"/><stop offset="0.4720" stop-color="#5ac8e2"/><stop offset="0.5985" stop-color="#6ac4a6"/><stop offset="0.7126" stop-color="#66bc4e"/><stop offset="0.8081" stop-color="#62bb42"/><stop offset="0.8771" stop-color="#64bc40"/><stop offset="0.9567" stop-color="#a8d030"/><stop offset="0.9954" stop-color="#c4dc28"/><stop offset="1.0000" stop-color="#c7dd26"/></linearGradient><linearGradient id="g71"><stop offset="0.0000" stop-color="#2b4ea6"/><stop offset="0.2091" stop-color="#2d52a8"/><stop offset="0.2879" stop-color="#3570bc"/><stop offset="0.3466" stop-color="#3a8ad0"/><stop offset="0.3991" stop-color="#1ec3f0"/><stop offset="0.4744" stop-color="#5ac8e2"/><stop offset="0.6013" stop-color="#6ac4a6"/><stop offset="0.7156" stop-color="#66bc4e"/><stop offset="0.8114" stop-color="#62bb42"/><stop offset="0.8806" stop-color="#64bc40"/><stop offset="0.9604" stop-color="#a8d030"/><stop offset="0.9991" stop-color="#c4dc28"/><stop offset="1.0000" stop-color="#c5dc28"/></linearGradient><linearGradient id="g72"><stop offset="0.0000" stop-color="#2b4ea6"/><stop offset="0.2103" stop-color="#2d52a8"/><stop offset="0.2893" stop-color="#3570bc"/><stop offset="0.3484" stop-color="#3a8ad0"/><stop offset="0.4011" stop-color="#1ec3f0"/><stop offset="0.4766" stop-color="#5ac8e2"/><stop offset="0.6040" stop-color="#6ac4a6"/><stop offset="0.7186" stop-color="#66bc4e"/><stop offset="0.8146" stop-color="#62bb42"/><stop offset="0.8841" stop-color="#64bc40"/><stop offset="0.9640" stop-color="#a8d030"/><stop offset="1.0000" stop-color="#c2db29"/></linearGradient><linearGradient id="g73"><stop offset="0.0000" stop-color="#2b4ea6"/><stop offset="0.2113" stop-color="#2d52a8"/><stop offset="0.2907" stop-color="#3570bc"/><stop offset="0.3501" stop-color="#3a8ad0"/><stop offset="0.4031" stop-color="#1ec3f0"/><stop offset="0.4789" stop-color="#5ac8e2"/><stop offset="0.6066" stop-color="#6ac4a6"/><stop offset="0.7217" stop-color="#66bc4e"/><stop offset="0.8180" stop-color="#62bb42"/><stop offset="0.8875" stop-color="#64bc40"/><stop offset="0.9676" stop-color="#a8d030"/><stop offset="1.0000" stop-color="#bfda29"/></linearGradient><linearGradient id="g74"><stop offset="0.0000" stop-color="#2b4ea6"/><stop offset="0.2123" stop-color="#2d52a8"/><stop offset="0.2921" stop-color="#3570bc"/><stop offset="0.3518" stop-color="#3a8ad0"/><stop offset="0.4050" stop-color="#1ec3f0"/><stop offset="0.4811" stop-color="#5ac8e2"/><stop offset="0.6094" stop-color="#6ac4a6"/><stop offset="0.7248" stop-color="#66bc4e"/><stop offset="0.8213" stop-color="#62bb42"/><stop offset="0.8910" stop-color="#64bc40"/><stop offset="0.9712" stop-color="#a8d030"/><stop offset="1.0000" stop-color="#bdd92a"/></linearGradient><linearGradient id="g75"><stop offset="0.0000" stop-color="#2b4ea6"/><stop offset="0.2133" stop-color="#2d52a8"/><stop offset="0.2936" stop-color="#3570bc"/><stop offset="0.3535" stop-color="#3a8ad0"/><stop offset="0.4069" stop-color="#1ec3f0"/><stop offset="0.4834" stop-color="#5ac8e2"/><stop offset="0.6120" stop-color="#6ac4a6"/><stop offset="0.7277" stop-color="#66bc4e"/><stop offset="0.8245" stop-color="#62bb42"/><stop offset="0.8944" stop-color="#64bc40"/><stop offset="0.9749" stop-color="#a8d030"/><stop offset="1.0000" stop-color="#bad82b"/></linearGradient><linearGradient id="g76"><stop offset="0.0000" stop-color="#2b4ea6"/><stop offset="0.2141" stop-color="#2d52a8"/><stop offset="0.2949" stop-color="#3570bc"/><stop offset="0.3551" stop-color="#3a8ad0"/><stop offset="0.4087" stop-color="#1ec3f0"/><stop offset="0.4855" stop-color="#5ac8e2"/><stop offset="0.6146" stop-color="#6ac4a6"/><stop offset="0.7308" stop-color="#66bc4e"/><stop offset="0.8277" stop-color="#62bb42"/><stop offset="0.8978" stop-color="#64bc40"/><stop offset="0.9785" stop-color="#a8d030"/><stop offset="1.0000" stop-color="#b7d72c"/></linearGradient><linearGradient id="g77"><stop offset="0.0000" stop-color="#2b4ea6"/><stop offset="0.2150" stop-color="#2d52a8"/><stop offset="0.2963" stop-color="#3570bc"/><stop offset="0.3568" stop-color="#3a8ad0"/><stop offset="0.4106" stop-color="#1ec3f0"/><stop offset="0.4878" stop-color="#5ac8e2"/><stop offset="0.6173" stop-color="#6ac4a6"/><stop offset="0.7336" stop-color="#66bc4e"/><stop offset="0.8310" stop-color="#62bb42"/><stop offset="0.9013" stop-color="#64bc40"/><stop offset="0.9820" stop-color="#a8d030"/><stop offset="1.0000" stop-color="#b5d52c"/></linearGradient><linearGradient id="g78"><stop offset="0.0000" stop-color="#2b4ea6"/><stop offset="0.2159" stop-color="#2d52a8"/><stop offset="0.2975" stop-color="#3570bc"/><stop offset="0.3584" stop-color="#3a8ad0"/><stop offset="0.4125" stop-color="#1ec3f0"/><stop offset="0.4899" stop-color="#5ac8e2"/><stop offset="0.6199" stop-color="#6ac4a6"/><stop offset="0.7366" stop-color="#66bc4e"/><stop offset="0.8342" stop-color="#62bb42"/><stop offset="0.9046" stop-color="#64bc40"/><stop offset="0.9856" stop-color="#a8d030"/><stop offset="1.0000" stop-color="#b2d42d"/></linearGradient><linearGradient id="g79"><stop offset="0.0000" stop-color="#2b4ea6"/><stop offset="0.2166" stop-color="#2d52a8"/><stop offset="0.2989" stop-color="#3570bc"/><stop offset="0.3599" stop-color="#3a8ad0"/><stop offset="0.4144" stop-color="#1ec3f0"/><stop offset="0.4920" stop-color="#5ac8e2"/><stop offset="0.6225" stop-color="#6ac4a6"/><stop offset="0.7396" stop-color="#66bc4e"/><stop offset="0.8374" stop-color="#62bb42"/><stop offset="0.9080" stop-color="#64bc40"/><stop offset="0.9891" stop-color="#a8d030"/><stop offset="1.0000" stop-color="#b0d32e"/></linearGradient><linearGradient id="g80"><stop offset="0.0000" stop-color="#2b4ea6"/><stop offset="0.2175" stop-color="#2d52a8"/><stop offset="0.3000" stop-color="#3570bc"/><stop offset="0.3614" stop-color="#3a8ad0"/><stop offset="0.4161" stop-color="#1ec3f0"/><stop offset="0.4941" stop-color="#5ac8e2"/><stop offset="0.6251" stop-color="#6ac4a6"/><stop offset="0.7425" stop-color="#66bc4e"/><stop offset="0.8406" stop-color="#62bb42"/><stop offset="0.9114" stop-color="#64bc40"/><stop offset="0.9928" stop-color="#a8d030"/><stop offset="1.0000" stop-color="#add22f"/></linearGradient><linearGradient id="g81"><stop offset="0.0000" stop-color="#2b4ea6"/><stop offset="0.2181" stop-color="#2d52a8"/><stop offset="0.3013" stop-color="#3570bc"/><stop offset="0.3630" stop-color="#3a8ad0"/><stop offset="0.4179" stop-color="#1ec3f0"/><stop offset="0.4962" stop-color="#5ac8e2"/><stop offset="0.6276" stop-color="#6ac4a6"/><stop offset="0.7455" stop-color="#66bc4e"/><stop offset="0.8438" stop-color="#62bb42"/><stop offset="0.9147" stop-color="#64bc40"/><stop offset="0.9963" stop-color="#a8d030"/><stop offset="1.0000" stop-color="#abd12f"/></linearGradient><linearGradient id="g82"><stop offset="0.0000" stop-color="#2b4ea6"/><stop offset="0.2189" stop-color="#2d52a8"/><stop offset="0.3024" stop-color="#3570bc"/><stop offset="0.3644" stop-color="#3a8ad0"/><stop offset="0.4196" stop-color="#1ec3f0"/><stop offset="0.4982" stop-color="#5ac8e2"/><stop offset="0.6302" stop-color="#6ac4a6"/><stop offset="0.7484" stop-color="#66bc4e"/><stop offset="0.8470" stop-color="#62bb42"/><stop offset="0.9180" stop-color="#64bc40"/><stop offset="0.9997" stop-color="#a8d030"/><stop offset="1.0000" stop-color="#a8d030"/></linearGradient><linearGradient id="g83"><stop offset="0.0000" stop-color="#2b4ea6"/><stop offset="0.2195" stop-color="#2d52a8"/><stop offset="0.3035" stop-color="#3570bc"/><stop offset="0.3659" stop-color="#3a8ad0"/><stop offset="0.4214" stop-color="#1ec3f0"/><stop offset="0.5004" stop-color="#5ac8e2"/><stop offset="0.6327" stop-color="#6ac4a6"/><stop offset="0.7512" stop-color="#66bc4e"/><stop offset="0.8501" stop-color="#62bb42"/><stop offset="0.9214" stop-color="#64bc40"/><stop offset="1.0000" stop-color="#a5cf31"/></linearGradient><linearGradient id="g84"><stop offset="0.0000" stop-color="#2b4ea6"/><stop offset="0.2200" stop-color="#2d52a8"/><stop offset="0.3046" stop-color="#3570bc"/><stop offset="0.3672" stop-color="#3a8ad0"/><stop offset="0.4230" stop-color="#1ec3f0"/><stop offset="0.5024" stop-color="#5ac8e2"/><stop offset="0.6353" stop-color="#6ac4a6"/><stop offset="0.7541" stop-color="#66bc4e"/><stop offset="0.8533" stop-color="#62bb42"/><stop offset="0.9247" stop-color="#64bc40"/><stop offset="1.0000" stop-color="#a2ce31"/></linearGradient><linearGradient id="g85"><stop offset="0.0000" stop-color="#2b4ea6"/><stop offset="0.2206" stop-color="#2d52a8"/><stop offset="0.3057" stop-color="#3570bc"/><stop offset="0.3688" stop-color="#3a8ad0"/><stop offset="0.4247" stop-color="#1ec3f0"/><stop offset="0.5044" stop-color="#5ac8e2"/><stop offset="0.6378" stop-color="#6ac4a6"/><stop offset="0.7570" stop-color="#66bc4e"/><stop offset="0.8565" stop-color="#62bb42"/><stop offset="0.9280" stop-color="#64bc40"/><stop offset="1.0000" stop-color="#9fcd32"/></linearGradient><linearGradient id="g86"><stop offset="0.0000" stop-color="#2b4ea6"/><stop offset="0.2211" stop-color="#2d52a8"/><stop offset="0.3067" stop-color="#3570bc"/><stop offset="0.3700" stop-color="#3a8ad0"/><stop offset="0.4264" stop-color="#1ec3f0"/><stop offset="0.5064" stop-color="#5ac8e2"/><stop offset="0.6402" stop-color="#6ac4a6"/><stop offset="0.7599" stop-color="#66bc4e"/><stop offset="0.8596" stop-color="#62bb42"/><stop offset="0.9314" stop-color="#64bc40"/><stop offset="1.0000" stop-color="#9ccd33"/></linearGradient><linearGradient id="g87"><stop offset="0.0000" stop-color="#2b4ea6"/><stop offset="0.2215" stop-color="#2d52a8"/><stop offset="0.3077" stop-color="#3570bc"/><stop offset="0.3714" stop-color="#3a8ad0"/><stop offset="0.4279" stop-color="#1ec3f0"/><stop offset="0.5083" stop-color="#5ac8e2"/><stop offset="0.6427" stop-color="#6ac4a6"/><stop offset="0.7628" stop-color="#66bc4e"/><stop offset="0.8627" stop-color="#62bb42"/><stop offset="0.9346" stop-color="#64bc40"/><stop offset="1.0000" stop-color="#99cc33"/></linearGradient><linearGradient id="g88"><stop offset="0.0000" stop-color="#2b4ea6"/><stop offset="0.2220" stop-color="#2d52a8"/><stop offset="0.3086" stop-color="#3570bc"/><stop offset="0.3726" stop-color="#3a8ad0"/><stop offset="0.4295" stop-color="#1ec3f0"/><stop offset="0.5103" stop-color="#5ac8e2"/><stop offset="0.6451" stop-color="#6ac4a6"/><stop offset="0.7656" stop-color="#66bc4e"/><stop offset="0.8659" stop-color="#62bb42"/><stop offset="0.9380" stop-color="#64bc40"/><stop offset="1.0000" stop-color="#97cb34"/></linearGradient><linearGradient id="g89"><stop offset="0.0000" stop-color="#2b4ea6"/><stop offset="0.2222" stop-color="#2d52a8"/><stop offset="0.3095" stop-color="#3570bc"/><stop offset="0.3739" stop-color="#3a8ad0"/><stop offset="0.4310" stop-color="#1ec3f0"/><stop offset="0.5121" stop-color="#5ac8e2"/><stop offset="0.6476" stop-color="#6ac4a6"/><stop offset="0.7684" stop-color="#66bc4e"/><stop offset="0.8689" stop-color="#62bb42"/><stop offset="0.9412" stop-color="#64bc40"/><stop offset="1.0000" stop-color="#94ca35"/></linearGradient><linearGradient id="g90"><stop offset="0.0000" stop-color="#2b4ea6"/><stop offset="0.2226" stop-color="#2d52a8"/><stop offset="0.3104" stop-color="#3570bc"/><stop offset="0.3751" stop-color="#3a8ad0"/><stop offset="0.4326" stop-color="#1ec3f0"/><stop offset="0.5140" stop-color="#5ac8e2"/><stop offset="0.6500" stop-color="#6ac4a6"/><stop offset="0.7712" stop-color="#66bc4e"/><stop offset="0.8720" stop-color="#62bb42"/><stop offset="0.9445" stop-color="#64bc40"/><stop offset="1.0000" stop-color="#91c935"/></linearGradient><linearGradient id="g91"><stop offset="0.0000" stop-color="#2b4ea6"/><stop offset="0.2229" stop-color="#2d52a8"/><stop offset="0.3113" stop-color="#3570bc"/><stop offset="0.3764" stop-color="#3a8ad0"/><stop offset="0.4340" stop-color="#1ec3f0"/><stop offset="0.5159" stop-color="#5ac8e2"/><stop offset="0.6524" stop-color="#6ac4a6"/><stop offset="0.7740" stop-color="#66bc4e"/><stop offset="0.8751" stop-color="#62bb42"/><stop offset="0.9478" stop-color="#64bc40"/><stop offset="1.0000" stop-color="#8ec836"/></linearGradient><linearGradient id="g92"><stop offset="0.0000" stop-color="#2b4ea6"/><stop offset="0.2230" stop-color="#2d52a8"/><stop offset="0.3120" stop-color="#3570bc"/><stop offset="0.3775" stop-color="#3a8ad0"/><stop offset="0.4355" stop-color="#1ec3f0"/><stop offset="0.5177" stop-color="#5ac8e2"/><stop offset="0.6547" stop-color="#6ac4a6"/><stop offset="0.7768" stop-color="#66bc4e"/><stop offset="0.8781" stop-color="#62bb42"/><stop offset="0.9510" stop-color="#64bc40"/><stop offset="1.0000" stop-color="#8bc837"/></linearGradient><linearGradient id="g93"><stop offset="0.0000" stop-color="#2b4ea6"/><stop offset="0.2232" stop-color="#2d52a8"/><stop offset="0.3127" stop-color="#3570bc"/><stop offset="0.3786" stop-color="#3a8ad0"/><stop offset="0.4370" stop-color="#1ec3f0"/><stop offset="0.5195" stop-color="#5ac8e2"/><stop offset="0.6571" stop-color="#6ac4a6"/><stop offset="0.7795" stop-color="#66bc4e"/><stop offset="0.8813" stop-color="#62bb42"/><stop offset="0.9543" stop-color="#64bc40"/><stop offset="1.0000" stop-color="#89c737"/></linearGradient><linearGradient id="g94"><stop offset="0.0000" stop-color="#2b4ea6"/><stop offset="0.2232" stop-color="#2d52a8"/><stop offset="0.3135" stop-color="#3570bc"/><stop offset="0.3798" stop-color="#3a8ad0"/><stop offset="0.4384" stop-color="#1ec3f0"/><stop offset="0.5214" stop-color="#5ac8e2"/><stop offset="0.6595" stop-color="#6ac4a6"/><stop offset="0.7822" stop-color="#66bc4e"/><stop offset="0.8842" stop-color="#62bb42"/><stop offset="0.9575" stop-color="#64bc40"/><stop offset="1.0000" stop-color="#86c638"/></linearGradient><linearGradient id="g95"><stop offset="0.0000" stop-color="#2b4ea6"/><stop offset="0.2234" stop-color="#2d52a8"/><stop offset="0.3141" stop-color="#3570bc"/><stop offset="0.3808" stop-color="#3a8ad0"/><stop offset="0.4397" stop-color="#1ec3f0"/><stop offset="0.5231" stop-color="#5ac8e2"/><stop offset="0.6618" stop-color="#6ac4a6"/><stop offset="0.7850" stop-color="#66bc4e"/><stop offset="0.8873" stop-color="#62bb42"/><stop offset="0.9607" stop-color="#64bc40"/><stop offset="1.0000" stop-color="#83c539"/></linearGradient><linearGradient id="g96"><stop offset="0.0000" stop-color="#2b4ea6"/><stop offset="0.2232" stop-color="#2d52a8"/><stop offset="0.3147" stop-color="#3570bc"/><stop offset="0.3818" stop-color="#3a8ad0"/><stop offset="0.4410" stop-color="#1ec3f0"/><stop offset="0.5249" stop-color="#5ac8e2"/><stop offset="0.6641" stop-color="#6ac4a6"/><stop offset="0.7877" stop-color="#66bc4e"/><stop offset="0.8902" stop-color="#62bb42"/><stop offset="0.9639" stop-color="#64bc40"/><stop offset="1.0000" stop-color="#81c439"/></linearGradient><linearGradient id="g97"><stop offset="0.0000" stop-color="#2b4fa6"/><stop offset="0.2232" stop-color="#2d52a8"/><stop offset="0.3153" stop-color="#3570bc"/><stop offset="0.3828" stop-color="#3a8ad0"/><stop offset="0.4424" stop-color="#1ec3f0"/><stop offset="0.5265" stop-color="#5ac8e2"/><stop offset="0.6664" stop-color="#6ac4a6"/><stop offset="0.7905" stop-color="#66bc4e"/><stop offset="0.8933" stop-color="#62bb42"/><stop offset="0.9671" stop-color="#64bc40"/><stop offset="1.0000" stop-color="#7ec43a"/></linearGradient><linearGradient id="g98"><stop offset="0.0000" stop-color="#2b4fa6"/><stop offset="0.2231" stop-color="#2d52a8"/><stop offset="0.3159" stop-color="#3570bc"/><stop offset="0.3838" stop-color="#3a8ad0"/><stop offset="0.4436" stop-color="#1ec3f0"/><stop offset="0.5283" stop-color="#5ac8e2"/><stop offset="0.6686" stop-color="#6ac4a6"/><stop offset="0.7931" stop-color="#66bc4e"/><stop offset="0.8962" stop-color="#62bb42"/><stop offset="0.9704" stop-color="#64bc40"/><stop offset="1.0000" stop-color="#7bc33a"/></linearGradient><linearGradient id="g99"><stop offset="0.0000" stop-color="#2b4fa6"/><stop offset="0.2229" stop-color="#2d52a8"/><stop offset="0.3163" stop-color="#3570bc"/><stop offset="0.3846" stop-color="#3a8ad0"/><stop offset="0.4449" stop-color="#1ec3f0"/><stop offset="0.5299" stop-color="#5ac8e2"/><stop offset="0.6709" stop-color="#6ac4a6"/><stop offset="0.7957" stop-color="#66bc4e"/><stop offset="0.8993" stop-color="#62bb42"/><stop offset="0.9735" stop-color="#64bc40"/><stop offset="1.0000" stop-color="#79c23b"/></linearGradient><linearGradient id="g100"><stop offset="0.0000" stop-color="#2b4fa6"/><stop offset="0.2226" stop-color="#2d52a8"/><stop offset="0.3167" stop-color="#3570bc"/><stop offset="0.3855" stop-color="#3a8ad0"/><stop offset="0.4460" stop-color="#1ec3f0"/><stop offset="0.5315" stop-color="#5ac8e2"/><stop offset="0.6731" stop-color="#6ac4a6"/><stop offset="0.7985" stop-color="#66bc4e"/><stop offset="0.9022" stop-color="#62bb42"/><stop offset="0.9766" stop-color="#64bc40"/><stop offset="1.0000" stop-color="#76c13c"/></linearGradient><linearGradient id="g101"><stop offset="0.0000" stop-color="#2b4fa6"/><stop offset="0.2222" stop-color="#2d52a8"/><stop offset="0.3171" stop-color="#3570bc"/><stop offset="0.3862" stop-color="#3a8ad0"/><stop offset="0.4473" stop-color="#1ec3f0"/><stop offset="0.5331" stop-color="#5ac8e2"/><stop offset="0.6752" stop-color="#6ac4a6"/><stop offset="0.8011" stop-color="#66bc4e"/><stop offset="0.9051" stop-color="#62bb42"/><stop offset="0.9797" stop-color="#64bc40"/><stop offset="1.0000" stop-color="#74c13c"/></linearGradient><linearGradient id="g102"><stop offset="0.0000" stop-color="#2b4fa6"/><stop offset="0.2219" stop-color="#2d52a8"/><stop offset="0.3175" stop-color="#3570bc"/><stop offset="0.3871" stop-color="#3a8ad0"/><stop offset="0.4484" stop-color="#1ec3f0"/><stop offset="0.5348" stop-color="#5ac8e2"/><stop offset="0.6775" stop-color="#6ac4a6"/><stop offset="0.8037" stop-color="#66bc4e"/><stop offset="0.9081" stop-color="#62bb42"/><stop offset="0.9830" stop-color="#64bc40"/><stop offset="1.0000" stop-color="#71c03d"/></linearGradient><linearGradient id="g103"><stop offset="0.0000" stop-color="#2b4fa6"/><stop offset="0.2215" stop-color="#2d52a8"/><stop offset="0.3177" stop-color="#3570bc"/><stop offset="0.3879" stop-color="#3a8ad0"/><stop offset="0.4495" stop-color="#1ec3f0"/><stop offset="0.5362" stop-color="#5ac8e2"/><stop offset="0.6796" stop-color="#6ac4a6"/><stop offset="0.8064" stop-color="#66bc4e"/><stop offset="0.9110" stop-color="#62bb42"/><stop offset="0.9861" stop-color="#64bc40"/><stop offset="1.0000" stop-color="#6fbf3d"/></linearGradient><linearGradient id="g104"><stop offset="0.0000" stop-color="#2b4fa6"/><stop offset="0.2209" stop-color="#2d52a8"/><stop offset="0.3180" stop-color="#3570bc"/><stop offset="0.3885" stop-color="#3a8ad0"/><stop offset="0.4505" stop-color="#1ec3f0"/><stop offset="0.5377" stop-color="#5ac8e2"/><stop offset="0.6818" stop-color="#6ac4a6"/><stop offset="0.8089" stop-color="#66bc4e"/><stop offset="0.9140" stop-color="#62bb42"/><stop offset="0.9892" stop-color="#64bc40"/><stop offset="1.0000" stop-color="#6cbe3e"/></linearGradient><linearGradient id="g105"><stop offset="0.0000" stop-color="#2b4fa6"/><stop offset="0.2204" stop-color="#2d52a8"/><stop offset="0.3181" stop-color="#3570bc"/><stop offset="0.3891" stop-color="#3a8ad0"/><stop offset="0.4515" stop-color="#1ec3f0"/><stop offset="0.5393" stop-color="#5ac8e2"/><stop offset="0.6839" stop-color="#6ac4a6"/><stop offset="0.8115" stop-color="#66bc4e"/><stop offset="0.9169" stop-color="#62bb42"/><stop offset="0.9923" stop-color="#64bc40"/><stop offset="1.0000" stop-color="#6abe3f"/></linearGradient><linearGradient id="g106"><stop offset="0.0000" stop-color="#2b4fa6"/><stop offset="0.2196" stop-color="#2d52a8"/><stop offset="0.3183" stop-color="#3570bc"/><stop offset="0.3898" stop-color="#3a8ad0"/><stop offset="0.4525" stop-color="#1ec3f0"/><stop offset="0.5408" stop-color="#5ac8e2"/><stop offset="0.6860" stop-color="#6ac4a6"/><stop offset="0.8140" stop-color="#66bc4e"/><stop offset="0.9198" stop-color="#62bb42"/><stop offset="0.9954" stop-color="#64bc40"/><stop offset="1.0000" stop-color="#68bd3f"/></linearGradient><linearGradient id="g107"><stop offset="0.0000" stop-color="#2b4fa6"/><stop offset="0.2189" stop-color="#2d52a8"/><stop offset="0.3184" stop-color="#3570bc"/><stop offset="0.3904" stop-color="#3a8ad0"/><stop offset="0.4535" stop-color="#1ec3f0"/><stop offset="0.5421" stop-color="#5ac8e2"/><stop offset="0.6880" stop-color="#6ac4a6"/><stop offset="0.8166" stop-color="#66bc4e"/><stop offset="0.9226" stop-color="#62bb42"/><stop offset="0.9985" stop-color="#64bc40"/><stop offset="1.0000" stop-color="#65bc40"/></linearGradient><linearGradient id="g108"><stop offset="0.0000" stop-color="#2b4fa6"/><stop offset="0.2181" stop-color="#2d52a8"/><stop offset="0.3184" stop-color="#3570bc"/><stop offset="0.3909" stop-color="#3a8ad0"/><stop offset="0.4544" stop-color="#1ec3f0"/><stop offset="0.5435" stop-color="#5ac8e2"/><stop offset="0.6901" stop-color="#6ac4a6"/><stop offset="0.8191" stop-color="#66bc4e"/><stop offset="0.9255" stop-color="#62bb42"/><stop offset="1.0000" stop-color="#64bc40"/></linearGradient><linearGradient id="g109"><stop offset="0.0000" stop-color="#2b4fa6"/><stop offset="0.2171" stop-color="#2d52a8"/><stop offset="0.3183" stop-color="#3570bc"/><stop offset="0.3914" stop-color="#3a8ad0"/><stop offset="0.4553" stop-color="#1ec3f0"/><stop offset="0.5449" stop-color="#5ac8e2"/><stop offset="0.6921" stop-color="#6ac4a6"/><stop offset="0.8216" stop-color="#66bc4e"/><stop offset="0.9283" stop-color="#62bb42"/><stop offset="1.0000" stop-color="#64bc40"/></linearGradient><linearGradient id="g110"><stop offset="0.0000" stop-color="#2c4fa7"/><stop offset="0.2161" stop-color="#2d52a8"/><stop offset="0.3181" stop-color="#3570bc"/><stop offset="0.3918" stop-color="#3a8ad0"/><stop offset="0.4561" stop-color="#1ec3f0"/><stop offset="0.5462" stop-color="#5ac8e2"/><stop offset="0.6941" stop-color="#6ac4a6"/><stop offset="0.8241" stop-color="#66bc4e"/><stop offset="0.9311" stop-color="#62bb42"/><stop offset="1.0000" stop-color="#64bc40"/></linearGradient><linearGradient id="g111"><stop offset="0.0000" stop-color="#2c4fa7"/><stop offset="0.2151" stop-color="#2d52a8"/><stop offset="0.3180" stop-color="#3570bc"/><stop offset="0.3921" stop-color="#3a8ad0"/><stop offset="0.4569" stop-color="#1ec3f0"/><stop offset="0.5475" stop-color="#5ac8e2"/><stop offset="0.6961" stop-color="#6ac4a6"/><stop offset="0.8266" stop-color="#66bc4e"/><stop offset="0.9340" stop-color="#62bb42"/><stop offset="1.0000" stop-color="#64bc40"/></linearGradient><linearGradient id="g112"><stop offset="0.0000" stop-color="#2c4fa7"/><stop offset="0.2140" stop-color="#2d52a8"/><stop offset="0.3177" stop-color="#3570bc"/><stop offset="0.3925" stop-color="#3a8ad0"/><stop offset="0.4576" stop-color="#1ec3f0"/><stop offset="0.5488" stop-color="#5ac8e2"/><stop offset="0.6981" stop-color="#6ac4a6"/><stop offset="0.8290" stop-color="#66bc4e"/><stop offset="0.9367" stop-color="#62bb42"/><stop offset="1.0000" stop-color="#64bc40"/></linearGradient><linearGradient id="g113"><stop offset="0.0000" stop-color="#2c4fa7"/><stop offset="0.2127" stop-color="#2d52a8"/><stop offset="0.3175" stop-color="#3570bc"/><stop offset="0.3928" stop-color="#3a8ad0"/><stop offset="0.4584" stop-color="#1ec3f0"/><stop offset="0.5500" stop-color="#5ac8e2"/><stop offset="0.7000" stop-color="#6ac4a6"/><stop offset="0.8315" stop-color="#66bc4e"/><stop offset="0.9395" stop-color="#62bb42"/><stop offset="1.0000" stop-color="#64bc40"/></linearGradient><linearGradient id="g114"><stop offset="0.0000" stop-color="#2c4fa7"/><stop offset="0.2114" stop-color="#2d52a8"/><stop offset="0.3171" stop-color="#3570bc"/><stop offset="0.3930" stop-color="#3a8ad0"/><stop offset="0.4590" stop-color="#1ec3f0"/><stop offset="0.5513" stop-color="#5ac8e2"/><stop offset="0.7019" stop-color="#6ac4a6"/><stop offset="0.8339" stop-color="#66bc4e"/><stop offset="0.9424" stop-color="#62bb42"/><stop offset="1.0000" stop-color="#63bc41"/></linearGradient><linearGradient id="g115"><stop offset="0.0000" stop-color="#2c4fa7"/><stop offset="0.2099" stop-color="#2d52a8"/><stop offset="0.3167" stop-color="#3570bc"/><stop offset="0.3931" stop-color="#3a8ad0"/><stop offset="0.4596" stop-color="#1ec3f0"/><stop offset="0.5524" stop-color="#5ac8e2"/><stop offset="0.7039" stop-color="#6ac4a6"/><stop offset="0.8362" stop-color="#66bc4e"/><stop offset="0.9451" stop-color="#62bb42"/><stop offset="1.0000" stop-color="#63bc41"/></linearGradient><linearGradient id="g116"><stop offset="0.0000" stop-color="#2c4fa7"/><stop offset="0.2084" stop-color="#2d52a8"/><stop offset="0.3163" stop-color="#3570bc"/><stop offset="0.3932" stop-color="#3a8ad0"/><stop offset="0.4603" stop-color="#1ec3f0"/><stop offset="0.5535" stop-color="#5ac8e2"/><stop offset="0.7058" stop-color="#6ac4a6"/><stop offset="0.8388" stop-color="#66bc4e"/><stop offset="0.9479" stop-color="#62bb42"/><stop offset="1.0000" stop-color="#63bc41"/></linearGradient><linearGradient id="g117"><stop offset="0.0000" stop-color="#2c4fa7"/><stop offset="0.2067" stop-color="#2d52a8"/><stop offset="0.3156" stop-color="#3570bc"/><stop offset="0.3934" stop-color="#3a8ad0"/><stop offset="0.4607" stop-color="#1ec3f0"/><stop offset="0.5546" stop-color="#5ac8e2"/><stop offset="0.7075" stop-color="#6ac4a6"/><stop offset="0.8410" stop-color="#66bc4e"/><stop offset="0.9505" stop-color="#62bb42"/><stop offset="1.0000" stop-color="#63bc41"/></linearGradient><linearGradient id="g118"><stop offset="0.0000" stop-color="#2c4fa7"/><stop offset="0.2050" stop-color="#2d52a8"/><stop offset="0.3150" stop-color="#3570bc"/><stop offset="0.3934" stop-color="#3a8ad0"/><stop offset="0.4613" stop-color="#1ec3f0"/><stop offset="0.5556" stop-color="#5ac8e2"/><stop offset="0.7094" stop-color="#6ac4a6"/><stop offset="0.8434" stop-color="#66bc4e"/><stop offset="0.9532" stop-color="#62bb42"/><stop offset="1.0000" stop-color="#63bc41"/></linearGradient><linearGradient id="g119"><stop offset="0.0000" stop-color="#2c4fa7"/><stop offset="0.2031" stop-color="#2d52a8"/><stop offset="0.3144" stop-color="#3570bc"/><stop offset="0.3932" stop-color="#3a8ad0"/><stop offset="0.4616" stop-color="#1ec3f0"/><stop offset="0.5566" stop-color="#5ac8e2"/><stop offset="0.7111" stop-color="#6ac4a6"/><stop offset="0.8458" stop-color="#66bc4e"/><stop offset="0.9560" stop-color="#62bb42"/><stop offset="1.0000" stop-color="#63bc41"/></linearGradient><linearGradient id="g120"><stop offset="0.0000" stop-color="#2c50a7"/><stop offset="0.2013" stop-color="#2d52a8"/><stop offset="0.3135" stop-color="#3570bc"/><stop offset="0.3931" stop-color="#3a8ad0"/><stop offset="0.4620" stop-color="#1ec3f0"/><stop offset="0.5576" stop-color="#5ac8e2"/><stop offset="0.7129" stop-color="#6ac4a6"/><stop offset="0.8480" stop-color="#66bc4e"/><stop offset="0.9586" stop-color="#62bb42"/><stop offset="1.0000" stop-color="#63bc41"/></linearGradient><linearGradient id="g121"><stop offset="0.0000" stop-color="#2c50a7"/><stop offset="0.1991" stop-color="#2d52a8"/><stop offset="0.3126" stop-color="#3570bc"/><stop offset="0.3930" stop-color="#3a8ad0"/><stop offset="0.4624" stop-color="#1ec3f0"/><stop offset="0.5586" stop-color="#5ac8e2"/><stop offset="0.7146" stop-color="#6ac4a6"/><stop offset="0.8504" stop-color="#66bc4e"/><stop offset="0.9612" stop-color="#62bb42"/><stop offset="1.0000" stop-color="#63bb41"/></linearGradient><linearGradient id="g122"><stop offset="0.0000" stop-color="#2c50a7"/><stop offset="0.1970" stop-color="#2d52a8"/><stop offset="0.3117" stop-color="#3570bc"/><stop offset="0.3928" stop-color="#3a8ad0"/><stop offset="0.4626" stop-color="#1ec3f0"/><stop offset="0.5595" stop-color="#5ac8e2"/><stop offset="0.7164" stop-color="#6ac4a6"/><stop offset="0.8526" stop-color="#66bc4e"/><stop offset="0.9640" stop-color="#62bb42"/><stop offset="1.0000" stop-color="#63bb41"/></linearGradient><linearGradient id="g123"><stop offset="0.0000" stop-color="#2c50a7"/><stop offset="0.1946" stop-color="#2d52a8"/><stop offset="0.3107" stop-color="#3570bc"/><stop offset="0.3925" stop-color="#3a8ad0"/><stop offset="0.4629" stop-color="#1ec3f0"/><stop offset="0.5604" stop-color="#5ac8e2"/><stop offset="0.7180" stop-color="#6ac4a6"/><stop offset="0.8549" stop-color="#66bc4e"/><stop offset="0.9666" stop-color="#62bb42"/><stop offset="1.0000" stop-color="#63bb41"/></linearGradient><linearGradient id="g124"><stop offset="0.0000" stop-color="#2c50a7"/><stop offset="0.1923" stop-color="#2d52a8"/><stop offset="0.3096" stop-color="#3570bc"/><stop offset="0.3921" stop-color="#3a8ad0"/><stop offset="0.4631" stop-color="#1ec3f0"/><stop offset="0.5613" stop-color="#5ac8e2"/><stop offset="0.7197" stop-color="#6ac4a6"/><stop offset="0.8571" stop-color="#66bc4e"/><stop offset="0.9692" stop-color="#62bb42"/><stop offset="1.0000" stop-color="#63bb41"/></linearGradient><linearGradient id="g125"><stop offset="0.0000" stop-color="#2c50a7"/><stop offset="0.1896" stop-color="#2d52a8"/><stop offset="0.3084" stop-color="#3570bc"/><stop offset="0.3916" stop-color="#3a8ad0"/><stop offset="0.4633" stop-color="#1ec3f0"/><stop offset="0.5620" stop-color="#5ac8e2"/><stop offset="0.7214" stop-color="#6ac4a6"/><stop offset="0.8593" stop-color="#66bc4e"/><stop offset="0.9719" stop-color="#62bb42"/><stop offset="1.0000" stop-color="#63bb41"/></linearGradient><linearGradient id="g126"><stop offset="0.0000" stop-color="#2c50a7"/><stop offset="0.1869" stop-color="#2d52a8"/><stop offset="0.3071" stop-color="#3570bc"/><stop offset="0.3911" stop-color="#3a8ad0"/><stop offset="0.4634" stop-color="#1ec3f0"/><stop offset="0.5628" stop-color="#5ac8e2"/><stop offset="0.7230" stop-color="#6ac4a6"/><stop offset="0.8615" stop-color="#66bc4e"/><stop offset="0.9744" stop-color="#62bb42"/><stop offset="1.0000" stop-color="#63bb41"/></linearGradient><linearGradient id="g127"><stop offset="0.0000" stop-color="#2c50a7"/><stop offset="0.1840" stop-color="#2d52a8"/><stop offset="0.3057" stop-color="#3570bc"/><stop offset="0.3906" stop-color="#3a8ad0"/><stop offset="0.4634" stop-color="#1ec3f0"/><stop offset="0.5634" stop-color="#5ac8e2"/><stop offset="0.7245" stop-color="#6ac4a6"/><stop offset="0.8636" stop-color="#66bc4e"/><stop offset="0.9770" stop-color="#62bb42"/><stop offset="1.0000" stop-color="#63bb41"/></linearGradient><linearGradient id="g128"><stop offset="0.0000" stop-color="#2c50a7"/><stop offset="0.1810" stop-color="#2d52a8"/><stop offset="0.3043" stop-color="#3570bc"/><stop offset="0.3900" stop-color="#3a8ad0"/><stop offset="0.4633" stop-color="#1ec3f0"/><stop offset="0.5641" stop-color="#5ac8e2"/><stop offset="0.7260" stop-color="#6ac4a6"/><stop offset="0.8658" stop-color="#66bc4e"/><stop offset="0.9795" stop-color="#62bb42"/><stop offset="1.0000" stop-color="#62bb42"/></linearGradient><linearGradient id="g129"><stop offset="0.0000" stop-color="#2c50a7"/><stop offset="0.1777" stop-color="#2d52a8"/><stop offset="0.3027" stop-color="#3570bc"/><stop offset="0.3892" stop-color="#3a8ad0"/><stop offset="0.4633" stop-color="#1ec3f0"/><stop offset="0.5648" stop-color="#5ac8e2"/><stop offset="0.7276" stop-color="#6ac4a6"/><stop offset="0.8679" stop-color="#66bc4e"/><stop offset="0.9821" stop-color="#62bb42"/><stop offset="1.0000" stop-color="#62bb42"/></linearGradient><linearGradient id="g130"><stop offset="0.0000" stop-color="#2c50a7"/><stop offset="0.1745" stop-color="#2d52a8"/><stop offset="0.3010" stop-color="#3570bc"/><stop offset="0.3885" stop-color="#3a8ad0"/><stop offset="0.4630" stop-color="#1ec3f0"/><stop offset="0.5653" stop-color="#5ac8e2"/><stop offset="0.7291" stop-color="#6ac4a6"/><stop offset="0.8700" stop-color="#66bc4e"/><stop offset="0.9846" stop-color="#62bb42"/><stop offset="1.0000" stop-color="#62bb42"/></linearGradient><linearGradient id="g131"><stop offset="0.0000" stop-color="#2c50a7"/><stop offset="0.1709" stop-color="#2d52a8"/><stop offset="0.2993" stop-color="#3570bc"/><stop offset="0.3876" stop-color="#3a8ad0"/><stop offset="0.4629" stop-color="#1ec3f0"/><stop offset="0.5657" stop-color="#5ac8e2"/><stop offset="0.7305" stop-color="#6ac4a6"/><stop offset="0.8721" stop-color="#66bc4e"/><stop offset="0.9871" stop-color="#62bb42"/><stop offset="1.0000" stop-color="#62bb42"/></linearGradient><linearGradient id="g132"><stop offset="0.0000" stop-color="#2c50a7"/><stop offset="0.1684" stop-color="#2d52a8"/><stop offset="0.2979" stop-color="#3570bc"/><stop offset="0.3870" stop-color="#3a8ad0"/><stop offset="0.4626" stop-color="#1ec3f0"/><stop offset="0.5661" stop-color="#5ac8e2"/><stop offset="0.7315" stop-color="#6ac4a6"/><stop offset="0.8735" stop-color="#66bc4e"/><stop offset="0.9889" stop-color="#62bb42"/><stop offset="1.0000" stop-color="#62bb42"/></linearGradient></defs><g shape-rendering="crispEdges" transform="translate(943 0)"><rect width="603.4" y="631" height="4" fill="url(#g0)"/><rect width="603.4" y="635" height="4" fill="url(#g1)"/><rect width="603.4" y="639" height="4" fill="url(#g2)"/><rect width="603.4" y="643" height="4" fill="url(#g3)"/><rect width="603.4" y="647" height="4" fill="url(#g4)"/><rect width="603.4" y="651" height="4" fill="url(#g5)"/><rect width="603.4" y="655" height="4" fill="url(#g6)"/><rect width="603.4" y="659" height="4" fill="url(#g7)"/><rect width="603.4" y="663" height="4" fill="url(#g8)"/><rect width="603.4" y="667" height="4" fill="url(#g9)"/><rect width="603.4" y="671" height="4" fill="url(#g10)"/><rect width="603.4" y="675" height="4" fill="url(#g11)"/><rect width="603.4" y="679" height="4" fill="url(#g12)"/><rect width="603.4" y="683" height="4" fill="url(#g13)"/><rect width="603.4" y="687" height="4" fill="url(#g14)"/><rect width="603.4" y="691" height="4" fill="url(#g15)"/><rect width="603.4" y="695" height="4" fill="url(#g16)"/><rect width="603.4" y="699" height="4" fill="url(#g17)"/><rect width="603.4" y="703" height="4" fill="url(#g18)"/><rect width="603.4" y="707" height="4" fill="url(#g19)"/><rect width="603.4" y="711" height="4" fill="url(#g20)"/><rect width="603.4" y="715" height="4" fill="url(#g21)"/><rect width="603.4" y="719" height="4" fill="url(#g22)"/><rect width="603.4" y="723" height="4" fill="url(#g23)"/><rect width="603.4" y="727" height="4" fill="url(#g24)"/><rect width="603.4" y="731" height="4" fill="url(#g25)"/><rect width="603.4" y="735" height="4" fill="url(#g26)"/><rect width="603.4" y="739" height="4" fill="url(#g27)"/><rect width="603.4" y="743" height="4" fill="url(#g28)"/><rect width="603.4" y="747" height="4" fill="url(#g29)"/><rect width="603.4" y="751" height="4" fill="url(#g30)"/><rect width="603.4" y="755" height="4" fill="url(#g31)"/><rect width="603.4" y="759" height="4" fill="url(#g32)"/><rect width="603.4" y="763" height="4" fill="url(#g33)"/><rect width="603.4" y="767" height="4" fill="url(#g34)"/><rect width="603.4" y="771" height="4" fill="url(#g35)"/><rect width="603.4" y="775" height="4" fill="url(#g36)"/><rect width="603.4" y="779" height="4" fill="url(#g37)"/><rect width="603.4" y="783" height="4" fill="url(#g38)"/><rect width="603.4" y="787" height="4" fill="url(#g39)"/><rect width="603.4" y="791" height="4" fill="url(#g40)"/><rect width="603.4" y="795" height="4" fill="url(#g41)"/><rect width="603.4" y="799" height="4" fill="url(#g42)"/><rect width="603.4" y="803" height="4" fill="url(#g43)"/><rect width="603.4" y="807" height="4" fill="url(#g44)"/><rect width="603.4" y="811" height="4" fill="url(#g45)"/><rect width="603.4" y="815" height="4" fill="url(#g46)"/><rect width="603.4" y="819" height="4" fill="url(#g47)"/><rect width="603.4" y="823" height="4" fill="url(#g48)"/><rect width="603.4" y="827" height="4" fill="url(#g49)"/><rect width="603.4" y="831" height="4" fill="url(#g50)"/><rect width="603.4" y="835" height="4" fill="url(#g51)"/><rect width="603.4" y="839" height="4" fill="url(#g52)"/><rect width="603.4" y="843" height="4" fill="url(#g53)"/><rect width="603.4" y="847" height="4" fill="url(#g54)"/><rect width="603.4" y="851" height="4" fill="url(#g55)"/><rect width="603.4" y="855" height="4" fill="url(#g56)"/><rect width="603.4" y="859" height="4" fill="url(#g57)"/><rect width="603.4" y="863" height="4" fill="url(#g58)"/><rect width="603.4" y="867" height="4" fill="url(#g59)"/><rect width="603.4" y="871" height="4" fill="url(#g60)"/><rect width="603.4" y="875" height="4" fill="url(#g61)"/><rect width="603.4" y="879" height="4" fill="url(#g62)"/><rect width="603.4" y="883" height="4" fill="url(#g63)"/><rect width="603.4" y="887" height="4" fill="url(#g64)"/><rect width="603.4" y="891" height="4" fill="url(#g65)"/><rect width="603.4" y="895" height="4" fill="url(#g66)"/><rect width="603.4" y="899" height="4" fill="url(#g67)"/><rect width="603.4" y="903" height="4" fill="url(#g68)"/><rect width="603.4" y="907" height="4" fill="url(#g69)"/><rect width="603.4" y="911" height="4" fill="url(#g70)"/><rect width="603.4" y="915" height="4" fill="url(#g71)"/><rect width="603.4" y="919" height="4" fill="url(#g72)"/><rect width="603.4" y="923" height="4" fill="url(#g73)"/><rect width="603.4" y="927" height="4" fill="url(#g74)"/><rect width="603.4" y="931" height="4" fill="url(#g75)"/><rect width="603.4" y="935" height="4" fill="url(#g76)"/><rect width="603.4" y="939" height="4" fill="url(#g77)"/><rect width="603.4" y="943" height="4" fill="url(#g78)"/><rect width="603.4" y="947" height="4" fill="url(#g79)"/><rect width="603.4" y="951" height="4" fill="url(#g80)"/><rect width="603.4" y="955" height="4" fill="url(#g81)"/><rect width="603.4" y="959" height="4" fill="url(#g82)"/><rect width="603.4" y="963" height="4" fill="url(#g83)"/><rect width="603.4" y="967" height="4" fill="url(#g84)"/><rect width="603.4" y="971" height="4" fill="url(#g85)"/><rect width="603.4" y="975" height="4" fill="url(#g86)"/><rect width="603.4" y="979" height="4" fill="url(#g87)"/><rect width="603.4" y="983" height="4" fill="url(#g88)"/><rect width="603.4" y="987" height="4" fill="url(#g89)"/><rect width="603.4" y="991" height="4" fill="url(#g90)"/><rect width="603.4" y="995" height="4" fill="url(#g91)"/><rect width="603.4" y="999" height="4" fill="url(#g92)"/><rect width="603.4" y="1003" height="4" fill="url(#g93)"/><rect width="603.4" y="1007" height="4" fill="url(#g94)"/><rect width="603.4" y="1011" height="4" fill="url(#g95)"/><rect width="603.4" y="1015" height="4" fill="url(#g96)"/><rect width="603.4" y="1019" height="4" fill="url(#g97)"/><rect width="603.4" y="1023" height="4" fill="url(#g98)"/><rect width="603.4" y="1027" height="4" fill="url(#g99)"/><rect width="603.4" y="1031" height="4" fill="url(#g100)"/><rect width="603.4" y="1035" height="4" fill="url(#g101)"/><rect width="603.4" y="1039" height="4" fill="url(#g102)"/><rect width="603.4" y="1043" height="4" fill="url(#g103)"/><rect width="603.4" y="1047" height="4" fill="url(#g104)"/><rect width="603.4" y="1051" height="4" fill="url(#g105)"/><rect width="603.4" y="1055" height="4" fill="url(#g106)"/><rect width="603.4" y="1059" height="4" fill="url(#g107)"/><rect width="603.4" y="1063" height="4" fill="url(#g108)"/><rect width="603.4" y="1067" height="4" fill="url(#g109)"/><rect width="603.4" y="1071" height="4" fill="url(#g110)"/><rect width="603.4" y="1075" height="4" fill="url(#g111)"/><rect width="603.4" y="1079" height="4" fill="url(#g112)"/><rect width="603.4" y="1083" height="4" fill="url(#g113)"/><rect width="603.4" y="1087" height="4" fill="url(#g114)"/><rect width="603.4" y="1091" height="4" fill="url(#g115)"/><rect width="603.4" y="1095" height="4" fill="url(#g116)"/><rect width="603.4" y="1099" height="4" fill="url(#g117)"/><rect width="603.4" y="1103" height="4" fill="url(#g118)"/><rect width="603.4" y="1107" height="4" fill="url(#g119)"/><rect width="603.4" y="1111" height="4" fill="url(#g120)"/><rect width="603.4" y="1115" height="4" fill="url(#g121)"/><rect width="603.4" y="1119" height="4" fill="url(#g122)"/><rect width="603.4" y="1123" height="4" fill="url(#g123)"/><rect width="603.4" y="1127" height="4" fill="url(#g124)"/><rect width="603.4" y="1131" height="4" fill="url(#g125)"/><rect width="603.4" y="1135" height="4" fill="url(#g126)"/><rect width="603.4" y="1139" height="4" fill="url(#g127)"/><rect width="603.4" y="1143" height="4" fill="url(#g128)"/><rect width="603.4" y="1147" height="4" fill="url(#g129)"/><rect width="603.4" y="1151" height="4" fill="url(#g130)"/><rect width="603.4" y="1155" height="4" fill="url(#g131)"/><rect width="603.4" y="1159" height="1" fill="url(#g132)"/></g><path d="M943 679.6L946.8 691.2L950.1 701.6L952.8 710.4L955.5 719.2L958.1 728.1L961.8 741.2L964.2 750.1L966.6 758.9L969.4 769.8L972.1 780.9L974.2 789.7L976.9 802.2L979 811.7L980.7 820.6L983.2 833.8L984.7 842.6L986.7 855.8L988.3 866.9L989.6 877.8L991 891L992 904.3L992.6 913.1L993.1 926.3L993.3 939.5L993.1 952.7L992.5 965.9L991.8 974.8L990.5 988L988.6 1001.2L987.1 1010L984.5 1022.1L982 1032L979.4 1040.8L976.4 1049.7L973.1 1058.5L969.4 1067.3L965.3 1076.1L960.6 1084.9L955.4 1093.7L950.5 1101L946.3 1106.9L943 1111.3" fill="none" stroke="#081050" stroke-width="2.2"/><path d="M1111.7 631.1L1116 639.9L1120.2 648.4L1124 656.1L1127.8 663.8L1131.6 671.6L1135.4 679.6L1139.6 688.4L1143.8 697.2L1148 706L1152.1 714.8L1156.2 723.6L1160.2 732.4L1164.2 741.2L1168.2 750.1L1172.1 758.9L1176 767.7L1179.9 776.5L1183.7 785.3L1187.5 794.1L1191.2 802.9L1194.9 811.7L1198.6 820.6L1202.2 829.4L1205.8 838.2L1209.3 847L1212.8 855.8L1216.2 864.6L1219.6 873.4L1222.9 882.2L1226.2 891L1229.6 900.5L1233.4 911L1237.2 921.7L1240.2 930.7L1243.2 939.5L1246.1 948.3L1249 957.1L1252.2 967.4L1255.9 979.2L1258.5 988L1261 996.8L1263.6 1005.7L1267.1 1018.8L1269.4 1027.6L1271.7 1036.4L1274.9 1049.7L1276.9 1058.5L1278.8 1067.3L1281.5 1080.5L1283.2 1089.3L1285.6 1102.5L1287.1 1111.3L1289.1 1124.6L1290.2 1133.4L1291.8 1146.6L1293 1159.8L1293 1159.8" fill="none" stroke="#08565e" stroke-width="2.2"/><path d="M1269.6 631.1L1274.7 639.9L1278.6 646.7L1282.4 653.2L1287.4 661.9L1292.5 670.8L1297.5 679.6L1301.3 686.2L1305 692.9L1310 701.6L1314.9 710.4L1319.9 719.2L1323.9 726.5L1327.7 733.3L1332.1 741.2L1336.9 750.1L1341.8 758.9L1346.5 767.6L1350.3 774.5L1354.1 781.5L1358.5 789.7L1363.2 798.5L1367.9 807.3L1372.6 816.1L1376.7 824L1380.5 831.2L1384.2 838.4L1388.7 847L1393.2 855.8L1397.8 864.6L1402.3 873.4L1406.7 882.2L1410.6 890L1414.4 897.6L1418.2 905.1L1422.1 913.1L1426.4 921.9L1430.7 930.7L1435 939.5L1439.2 948.3L1443.4 957.1L1447.6 965.9L1451.7 974.8L1455.8 983.6L1459.7 991.9L1463.4 1000.1L1467.2 1008.4L1471 1016.8L1474.7 1025.3L1478.5 1033.8L1482.3 1042.4L1486.1 1051.1L1489.8 1060L1493.6 1068.9L1497.4 1077.9L1501.1 1087L1504.9 1096.2L1508.7 1105.6L1512.5 1115.1L1516.2 1124.6L1519.6 1133.4L1522.9 1142.2L1526.2 1151L1529.5 1159.8L1529.5 1159.8" fill="none" stroke="#08521e" stroke-width="2.2"/><path d="M1409.4 631.1L1414.4 638.9L1418.2 644.8L1423.5 653.1L1429.1 661.9L1433.3 668.6L1437.4 675.2L1443 684L1448.3 692.5L1452.1 698.5L1456.8 706L1462.3 714.8L1467.2 722.7L1471 728.8L1476 736.8L1481.4 745.7L1486.1 753.2L1489.8 759.3L1494.9 767.7L1500.3 776.5L1504.9 784L1508.7 790.2L1513.7 798.5L1519 807.3L1523.8 815.2L1527.5 821.5L1532.3 829.4L1537.5 838.2L1542.6 846.7L1546.4 853.1L1546.4 853.1" fill="none" stroke="#1a2606" stroke-width="2.2"/><path d="M1536.3 631.1L1542.3 639.9L1546.4 645.9L1546.4 645.9" fill="none" stroke="#3a0606" stroke-width="2.2"/><rect x="943" y="631.1" width="603.4" height="528.7" fill="none" stroke="#000" stroke-opacity="0.62" stroke-width="2.2"/><rect x="983" y="878" width="15" height="17" fill="#fff" stroke="#0c1660" stroke-width="1.6"/><text x="990.5" y="890.5" font-size="11" fill="#111" text-anchor="middle">1</text><rect x="1214.5" y="863.2" width="15" height="17" fill="#fff" stroke="#0a5c64" stroke-width="1.6"/><text x="1222" y="875.7" font-size="11" fill="#111" text-anchor="middle">2</text><rect x="1402.5" y="872" width="15" height="17" fill="#fff" stroke="#0a5a22" stroke-width="1.6"/><text x="1410" y="884.5" font-size="11" fill="#111" text-anchor="middle">3</text><rect x="1471" y="724.5" width="15" height="17" fill="#fff" stroke="#1c2a08" stroke-width="1.6"/><text x="1478.5" y="737" font-size="11" fill="#111" text-anchor="middle">4</text><path d="M928.2 1159.8H943M928.2 1071.7H943M928.2 983.6H943M928.2 895.5H943M928.2 807.3H943M928.2 719.2H943M928.2 631.1H943M943 1159.8V1172.5M1093.8 1159.8V1172.5M1244.7 1159.8V1172.5M1395.6 1159.8V1172.5M1546.4 1159.8V1172.5" stroke="#444" stroke-width="1.8"/><text x="922.5" y="1163.8" font-size="10.8" fill="#444" text-anchor="end" textLength="23.6" lengthAdjust="spacingAndGlyphs">2.00</text><text x="922.5" y="1075.7" font-size="10.8" fill="#444" text-anchor="end" textLength="23.6" lengthAdjust="spacingAndGlyphs">3.00</text><text x="922.5" y="987.6" font-size="10.8" fill="#444" text-anchor="end" textLength="23.6" lengthAdjust="spacingAndGlyphs">4.00</text><text x="922.5" y="899.5" font-size="10.8" fill="#444" text-anchor="end" textLength="23.6" lengthAdjust="spacingAndGlyphs">5.00</text><text x="922.5" y="811.3" font-size="10.8" fill="#444" text-anchor="end" textLength="23.6" lengthAdjust="spacingAndGlyphs">6.00</text><text x="922.5" y="723.2" font-size="10.8" fill="#444" text-anchor="end" textLength="23.6" lengthAdjust="spacingAndGlyphs">7.00</text><text x="922.5" y="635.1" font-size="10.8" fill="#444" text-anchor="end" textLength="23.6" lengthAdjust="spacingAndGlyphs">8.00</text><text x="943" y="1188" font-size="10.8" fill="#444" text-anchor="middle" textLength="25.2" lengthAdjust="spacingAndGlyphs">4.00</text><text x="1093.8" y="1188" font-size="10.8" fill="#444" text-anchor="middle" textLength="25.2" lengthAdjust="spacingAndGlyphs">6.00</text><text x="1244.7" y="1188" font-size="10.8" fill="#444" text-anchor="middle" textLength="25.2" lengthAdjust="spacingAndGlyphs">8.00</text><text x="1395.6" y="1188" font-size="10.8" fill="#444" text-anchor="middle" textLength="30" lengthAdjust="spacingAndGlyphs">10.00</text><text x="1546.4" y="1188" font-size="10.8" fill="#444" text-anchor="middle" textLength="30" lengthAdjust="spacingAndGlyphs">12.00</text><ellipse cx="943" cy="1159.8" rx="6.2" ry="5.2" fill="#b8242a" stroke="#3a0a0a" stroke-width="1.5"/><ellipse cx="943" cy="895.5" rx="6.2" ry="5.2" fill="#b8242a" stroke="#3a0a0a" stroke-width="1.5"/><ellipse cx="943" cy="631.1" rx="6.2" ry="5.2" fill="#b8242a" stroke="#3a0a0a" stroke-width="1.5"/><ellipse cx="1244.7" cy="1159.8" rx="6.2" ry="5.2" fill="#b8242a" stroke="#3a0a0a" stroke-width="1.5"/><ellipse cx="1244.7" cy="895.5" rx="6.2" ry="5.2" fill="#b8242a" stroke="#3a0a0a" stroke-width="1.5"/><ellipse cx="1244.7" cy="631.1" rx="6.2" ry="5.2" fill="#b8242a" stroke="#3a0a0a" stroke-width="1.5"/><ellipse cx="1546.4" cy="1159.8" rx="6.2" ry="5.2" fill="#b8242a" stroke="#3a0a0a" stroke-width="1.5"/><ellipse cx="1546.4" cy="895.5" rx="6.2" ry="5.2" fill="#b8242a" stroke="#3a0a0a" stroke-width="1.5"/><ellipse cx="1546.4" cy="631.1" rx="6.2" ry="5.2" fill="#b8242a" stroke="#3a0a0a" stroke-width="1.5"/><text x="1228.9" y="898.5" font-size="10" fill="#0a4a50" font-weight="bold" text-anchor="middle">4</text><text x="882.2" y="899.2" font-size="23" fill="#222" font-weight="bold" textLength="67.5" lengthAdjust="spacingAndGlyphs" transform="rotate(-90 882.2 899.2)">B: PVA</text><text x="1247.7" y="1246.1" font-size="23" fill="#222" font-weight="bold" textLength="75.1" lengthAdjust="spacingAndGlyphs">A: PVP</text><text x="1556.3" y="727.6" font-size="16.5" fill="#111" font-weight="bold" textLength="208.7" lengthAdjust="spacingAndGlyphs">Nanofiber Producibility</text><ellipse cx="1572.2" cy="750.2" rx="9.8" ry="8.4" fill="#c0202a" stroke="#3a0a0a" stroke-width="1.6"/><text x="1593.8" y="754.5" font-size="16" fill="#cc4450" textLength="114.7" lengthAdjust="spacingAndGlyphs">Design Points</text><text x="1556.8" y="809.7" font-size="16" fill="#5a62b2">1</text><rect x="1571.2" y="792.7" width="67.9" height="24.8" rx="2.5" fill="url(#cbar)" stroke="#1a1a1a" stroke-width="1.6"/><text x="1646.6" y="809.7" font-size="16" fill="#d8404c">5</text><text x="1556.3" y="837.3" font-size="16" textLength="56.7" lengthAdjust="spacingAndGlyphs">X1 = A</text><text x="1556.3" y="865.6" font-size="16" textLength="55.2" lengthAdjust="spacingAndGlyphs">X2 = B</text></svg></body></html>
